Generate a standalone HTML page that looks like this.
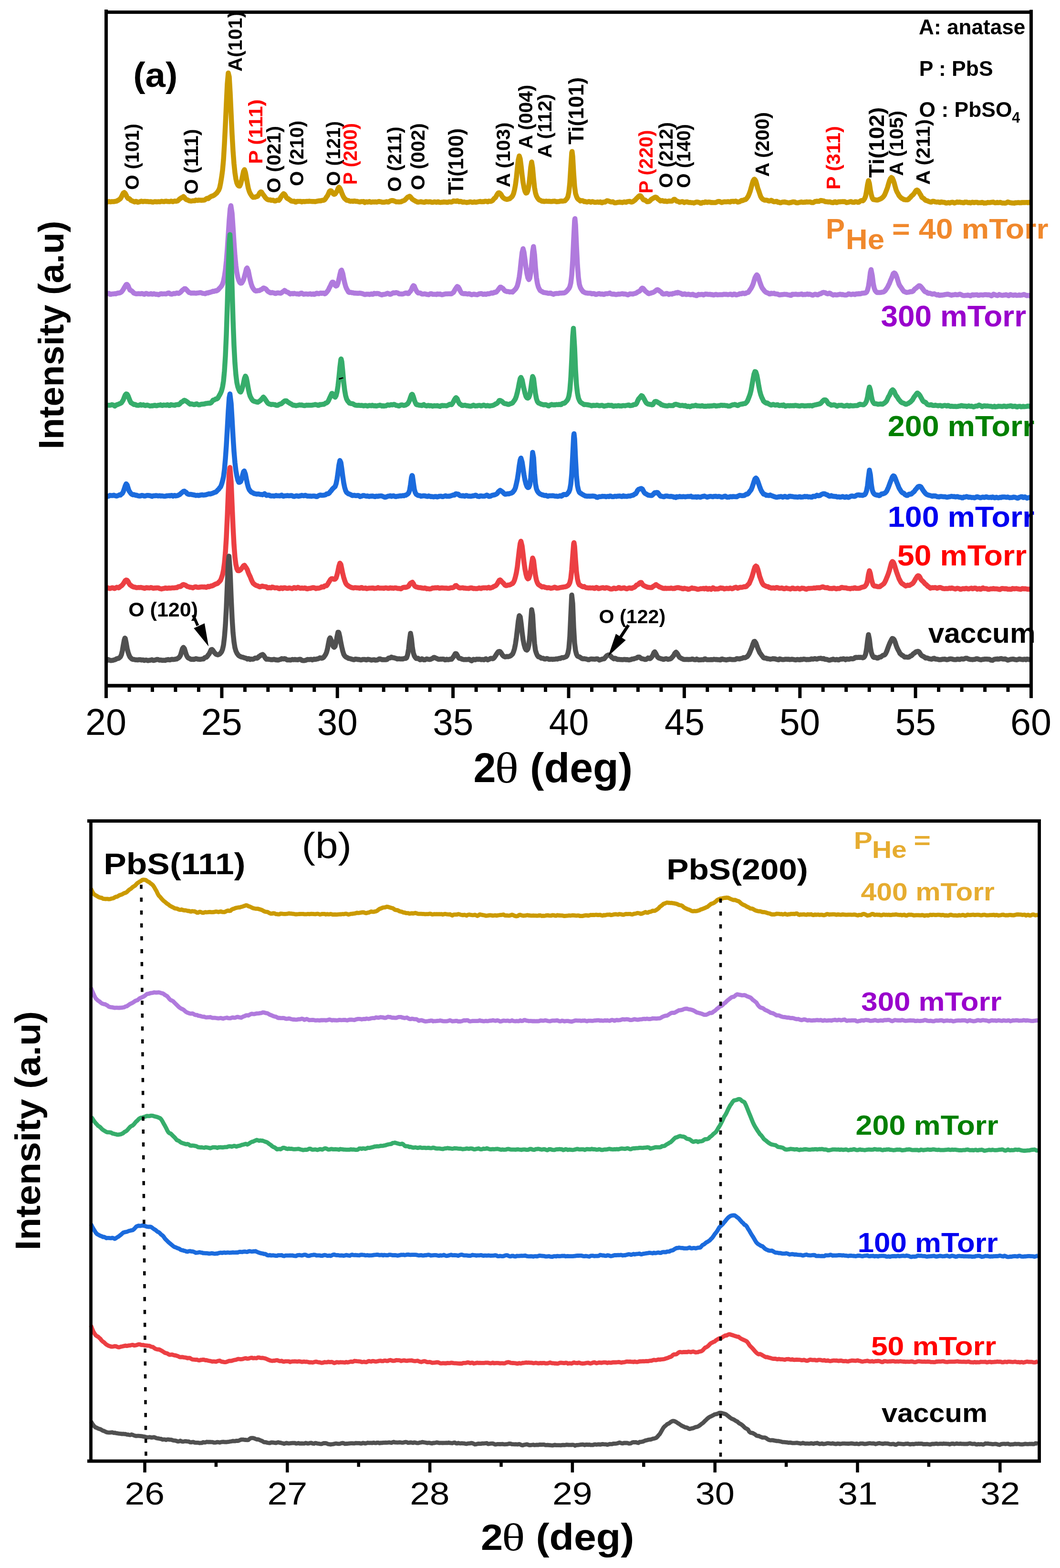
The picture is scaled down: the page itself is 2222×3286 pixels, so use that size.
<!DOCTYPE html>
<html><head><meta charset="utf-8"><style>html,body{margin:0;padding:0;background:#fff;overflow:hidden;}svg{display:block;}</style></head><body>
<svg width="2222" height="3286" viewBox="0 0 2222 3286">
<rect width="2222" height="3286" fill="#fff"/>
<path d="M222.5 423.4L224.5 423.5L226.5 422.9L228.5 422.2L230.5 423L232.5 422.9L234.5 422.4L236.5 422.6L238.5 422.6L240.5 422.2L242.5 421.8L244.5 421.4L246.5 420.2L248.5 419.2L250.5 417.8L252.5 416L254.5 412.7L256.5 408.4L258.5 404.6L260.5 403.3L262.5 405.1L264.5 408.9L266.5 413.5L268.5 416L270.5 416.1L272.5 417.7L274.5 419.9L276.5 420.9L278.5 421.7L280.5 422.5L282.5 423.2L284.5 421.9L286.5 422.3L288.5 423.8L290.5 423.5L292.5 423L294.5 422.1L296.5 421.6L298.5 422.4L300.5 422.5L302.5 421.9L304.5 422L306.5 422.4L308.5 422.2L310.5 422.5L312.5 422.8L314.5 422.7L316.5 422.6L318.5 423.3L320.5 423.6L322.5 423L324.5 422.5L326.5 422.9L328.5 422.8L330.5 423L332.5 422.5L334.5 423L336.5 422.6L338.5 421.8L340.5 422.2L342.5 422.6L344.5 422.5L346.5 421.8L348.5 421.6L350.5 422.2L352.5 422.2L354.5 422.6L356.5 422.4L358.5 421.4L360.5 422.2L362.5 422.7L364.5 421.8L366.5 421.3L368.5 421.7L370.5 421.5L372.5 420.9L374.5 419L376.5 417L378.5 415.8L380.5 414.3L382.5 413.5L383.4 412.9L384.5 411.9L386.5 413.5L388.5 416.6L390.5 418.3L392.5 418.7L394.5 419.7L396.5 420.6L398.5 421.1L400.5 421.4L402.5 421.1L404.5 420.7L406.5 420.7L408.5 420.7L410.5 419.3L412.5 419.8L414.5 419.9L416.5 419.3L418.5 419.6L420.5 419.5L422.5 419.8L424.5 419.4L426.5 419.4L428.5 419.3L430.5 418.1L432.5 416.4L434.5 415.6L436.5 416.2L438.5 414.5L440.5 412.7L442.5 411.8L444.5 410.8L446.5 410.3L448.5 409.2L450.5 407.8L452.5 406.1L454.5 404.4L456.5 401.4L458.5 398.5L460.5 393.4L462.5 383.7L464.5 371.7L466.5 357.1L468.5 334.7L470.5 301.3L472.5 261.1L474.5 217.1L476.5 175.6L478.5 153L480.5 161.1L482.5 195L484.5 238.8L486.5 281.4L488.5 316.5L490.5 343L492.5 362.2L494.5 375.1L496.5 383.6L498.5 387.8L500.5 389.8L502.5 389.9L504.5 385.4L506.5 378L508.5 368.6L510.5 359L512.5 355.6L514.5 361.6L516.5 372.6L518.5 384L520.5 394.5L522.5 401.1L524.5 405.5L526.5 408.8L528.5 411.6L530.5 413.6L532.5 413.3L534.5 413.2L536.5 412.2L538.5 412.1L540.5 410.9L542.5 407.6L544.5 404.1L546.5 402.2L547.7 402.3L548.5 403L550.5 406.1L552.5 408.8L554.5 411.5L556.5 414.4L558.5 416.5L560.5 417.9L562.5 418.8L564.5 419L566.5 418.8L568.5 419.9L570.5 419.7L572.5 419.5L574.5 420.7L576.5 421.3L578.5 420.7L580.5 419.8L582.5 419.2L584.5 419.9L586.5 417.5L588.5 413.6L590.5 410.7L592.5 408L594.5 405.9L596.5 407.2L598.5 410.2L600.5 414.1L602.5 416.2L604.5 416.5L606.5 418.4L608.5 419.5L610.5 421.3L612.5 421.7L614.5 421.7L616.5 421.6L618.5 423.3L620.5 423.5L622.5 422L624.5 422.1L626.5 421.9L628.5 421.9L630.5 422L632.5 423.1L634.5 422.2L636.5 422.2L638.5 422.6L640.5 422.2L642.5 422.1L644.5 422.1L646.5 422L648.5 421.6L650.5 421.9L652.5 422.1L654.5 422.2L656.5 422.3L658.5 422.3L660.5 422.6L662.5 422.1L664.5 421.7L666.5 421.3L668.5 421L670.5 420.7L672.5 421L674.5 420.1L676.5 419.7L678.5 419.7L680.5 418.6L682.5 416L684.5 412.7L686.5 410.2L688.5 406L690.5 401.2L692.5 399.7L694.5 400.2L696.5 402.8L698.5 406L700.5 407.3L702.5 406.4L704.5 403.5L706.5 400.6L708.5 395.4L710.5 392.3L712.5 394.6L714.5 399.1L716.5 404.6L718.5 409.3L720.5 413.3L722.5 416.1L724.5 417.8L726.5 419.5L728.5 419.9L730.5 420.2L732.5 421.2L734.5 421.8L736.5 421.6L738.5 421.6L740.5 422L742.5 421.2L744.5 421.5L746.5 422.1L748.5 421.9L750.5 422.5L752.5 423L754.5 423.3L756.5 422.5L758.5 422.5L760.5 422.6L762.5 422.3L764.5 424.4L766.5 423.2L768.5 422.8L770.5 423.6L772.5 423L774.5 422.3L776.5 423.5L778.5 423.8L780.5 423.2L782.5 423.1L784.5 423.4L786.5 423L788.5 423.4L790.5 423.4L792.5 422.6L794.5 422.2L796.5 422.7L798.5 422.9L800.5 423.7L802.5 423.7L804.5 423.8L806.5 423.5L808.5 423.1L810.5 422.6L812.5 423.3L814.5 423.5L816.5 421.9L818.5 420.9L820.5 420.5L822 420.2L824.5 420.5L826.5 421.4L828.5 422.1L830.5 423.1L832.5 422.9L834.5 423L836.5 423.2L838.5 422.9L840.5 423.1L842.5 421.9L844.5 421L846.5 420.5L848.5 419.4L850.5 417.3L852.5 415.4L854.5 413L856.5 412.5L857.6 411.8L858.5 411.3L860.5 412.8L862.5 415.4L864.5 417.6L866.5 418.9L868.5 420.1L870.5 421.3L872.5 422.1L874.5 423.3L876.5 423.7L878.5 423.3L880.5 423.1L882.5 422.6L884.5 423.3L886.5 423.5L888.5 424L890.5 424L892.5 422.4L894.5 422.9L896.5 422.9L898.5 423.3L900.5 422.7L902.5 423L904.5 423.7L906.5 424L908.5 423.6L910.5 423L912.5 423.2L914.5 424L916.5 423.4L918.5 422.7L920.5 423.8L922.5 424.2L924.5 424.1L926.5 423.7L928.5 423.7L930.5 423.2L932.5 423.5L934.5 423.4L936.5 424L938.5 424L940.5 423L942.5 423L944.5 423.2L946.5 423.5L948.5 422.6L950.5 421.1L952.5 421.3L954.5 421.8L956.5 422L958.5 420.7L960.5 421.5L962.5 422.8L964.5 421.9L966.5 422.1L968.5 423.4L970.5 423.8L972.5 423.2L974.5 423.6L976.5 423.9L978.5 424.4L980.5 423.9L982.5 423.8L984.5 423L986.5 423L988.5 423.5L990.5 424.1L992.5 423.7L994.5 423.1L996.5 423.7L998.5 423.8L1000.5 423.2L1002.5 422.9L1004.5 422.5L1006.5 422L1008.5 422.7L1010.5 422.9L1012.5 422.5L1014.5 422.7L1016.5 421.8L1018.5 421.7L1020.5 422.3L1022.5 422.9L1024.5 421.5L1026.5 421.8L1028.5 422L1030.5 421.4L1032.5 420.4L1034.5 417.8L1036.5 415.4L1038.5 414.2L1040.5 410.7L1042.5 407.1L1044.5 404.2L1046.3 404.1L1048.5 405.5L1050.5 407.8L1052.5 411.5L1054.5 413.9L1056.5 415.5L1058.5 416.7L1060.5 417.4L1062.5 417.9L1064.5 417.5L1066.5 416.8L1068.5 416.3L1070.5 414.5L1072.5 412.9L1074.5 410.4L1076.5 405.9L1078.5 398L1080.5 387.6L1082.5 371.8L1084.5 352.6L1086.5 334.7L1088.5 326.8L1090.5 333.1L1092.5 349L1094.5 367.1L1096.5 382.4L1098.5 393.4L1100.5 401L1102.5 404.6L1104.5 404.2L1106.5 399.6L1108.5 389.3L1110.5 372.2L1112.5 350.8L1114.5 339.5L1116.5 351.9L1118.5 374.5L1120.5 393.1L1122.5 404.4L1124.5 410.6L1126.5 414.4L1128.5 417.1L1130.5 419.2L1132.5 419.7L1134.5 421L1136.5 421.7L1138.5 421.5L1140.5 422.2L1142.5 422L1144.5 421.5L1146.5 421.8L1148.5 421.9L1150.5 421.8L1152.5 422L1154.5 422.3L1156.5 422.3L1158.5 421.8L1160.5 421.8L1162.5 421.4L1164.5 422.2L1166.5 422.7L1168.5 422.5L1170.5 422.4L1172.5 422.2L1174.5 421.4L1176.5 421.3L1178.5 421.6L1180.5 421.5L1182.5 421L1184.5 420.7L1186.5 418.3L1188.5 416.2L1190.5 412.1L1192.5 402.3L1194.5 383L1196.5 351.1L1198.5 320.1L1199.2 317.5L1200.5 327.8L1202.5 362.9L1204.5 390.7L1206.5 405.6L1208.5 411.7L1210.5 416L1212.5 418.1L1214.5 419.2L1216.5 421.2L1218.5 420.5L1220.5 420.4L1222.5 421.2L1224.5 422.5L1226.5 422.3L1228.5 423L1230.5 423.4L1232.5 422.9L1234.5 422.2L1236.5 422.8L1238.5 423.8L1240.5 422.7L1242.5 422.5L1244.5 423.3L1246.5 424L1248.5 424L1250.5 423.8L1252.5 423.2L1254.5 424L1256.5 423.7L1258.5 423L1260.5 424.6L1262.5 425L1264.5 423.4L1266.5 423.4L1268.5 423.5L1270.5 421.6L1272.5 420.6L1274.5 420.9L1276.5 421.7L1278.5 422.4L1280.5 423.3L1282.5 423.3L1284.5 422.8L1286.5 424L1288.5 425.1L1290.5 425L1292.5 424.6L1294.5 424.1L1296.5 424.1L1298.5 423.4L1300.5 423.9L1302.5 424L1304.5 424.4L1306.5 423.8L1308.5 423L1310.5 423.5L1312.5 423.9L1314.5 422.7L1316.5 422.4L1318.5 422.1L1320.5 422L1322.5 423.2L1324.5 423.5L1326.5 422.6L1328.5 421.3L1330.5 419.8L1332.5 418L1334.5 415.6L1336.5 413.8L1338.5 411.8L1340.5 410.3L1342.5 410.2L1344.5 412.5L1346.5 415.4L1348.5 418.5L1350.5 419.2L1352.5 419.3L1354.5 421.3L1356.5 422.8L1358.5 422.6L1360.5 422.1L1362.5 420.7L1364.5 418.5L1366.5 417L1368.5 415.9L1370.5 414.7L1372.5 413.5L1374.1 413.1L1376.5 414.1L1378.5 416.5L1380.5 418L1382.5 419.5L1384.5 421.2L1386.5 420.8L1388.5 420.2L1390.5 421.4L1392.5 421.9L1394.5 421L1396.5 422L1398.5 422.3L1400.5 421.6L1402.5 421.3L1404.5 421.5L1406.5 421.5L1408.5 421.6L1410.5 420L1412.5 417.8L1414.4 417.8L1416.5 419.7L1418.5 421.5L1420.5 421.9L1422.5 422.7L1424.5 423.8L1426.5 423.4L1428.5 422.8L1430.5 422.4L1432.5 423.5L1434.5 424.6L1436.5 423.4L1438.5 423.2L1440.5 423L1442.5 423.9L1444.5 424.4L1446.5 424.2L1448.5 424.5L1450.5 424.7L1452.5 424.8L1454.5 425.4L1456.5 424.8L1458.5 423.9L1460.5 423.4L1462.5 423.5L1464.5 424.1L1466.5 424.6L1468.5 426.1L1470.5 425.8L1472.5 424.3L1474.5 424.2L1476.5 424.6L1478.5 423.1L1480.5 423.5L1482.5 424.3L1484.5 423.6L1486.5 423.5L1488.5 423.8L1490.5 424.4L1492.5 424.3L1494.5 424.4L1496.5 424.5L1498.5 424.4L1500.5 424.5L1502.5 423.4L1504.5 422.4L1506.5 422.1L1508.5 422.3L1510.5 423.4L1512.5 424.4L1514.5 424L1516.5 423.2L1518.5 422.8L1520.5 423L1522.5 423.1L1524.5 422.8L1526.5 422.4L1528.5 423.1L1530.5 423.4L1532.5 422.1L1534.5 422.2L1536.5 421.8L1538.5 422.5L1540.5 422L1542.5 421.4L1544.5 422.6L1546.5 423.6L1548.5 423L1550.5 422.7L1552.5 421.4L1554.5 420L1556.5 420.4L1558.5 419.6L1560.5 418.4L1562.5 418.3L1564.5 416.7L1566.5 414L1568.5 411.1L1570.5 406.3L1572.5 400.9L1574.5 393.7L1576.5 386.5L1578.5 379.4L1580.5 376.1L1581.4 375.6L1582.5 376.4L1584.5 379.9L1586.5 387L1588.5 394.6L1590.5 399.8L1592.5 406L1594.5 411.8L1596.5 415.1L1598.5 417.3L1600.5 418.4L1602.5 419.5L1604.5 419.5L1606.5 419.4L1608.5 419.8L1610.5 420.8L1612.5 421.3L1614.5 420.9L1616.5 419.7L1618.5 420.5L1620.5 422.1L1622.5 422.9L1624.5 422.6L1626.5 422.1L1628.5 422.1L1630.5 423.9L1632.5 423.6L1634.5 424.7L1636.5 425L1638.5 424.1L1640.5 423.4L1642.5 423.5L1644.5 423.2L1646.5 423.7L1648.5 424L1650.5 424.5L1652.5 425L1654.5 425.2L1656.5 424.3L1658.5 424.4L1660.5 423.5L1662.5 423.1L1664.5 423.2L1666.5 423.5L1668.5 424.7L1670.5 425.1L1672.5 425.1L1674.5 424.4L1676.5 424.1L1678.5 423.5L1680.5 423.3L1682.5 424.1L1684.5 424.1L1686.5 423.5L1688.5 423.8L1690.5 423L1692.5 423.4L1694.5 423.4L1696.5 423.2L1698.5 423.3L1700.5 424.3L1702.5 424.6L1704.5 424.5L1706.5 423.5L1708.5 422.3L1710.5 422L1712.5 421.6L1714.5 422.1L1716.5 422.1L1718.5 421L1720.5 420.1L1722.5 420.3L1724.5 420.8L1726.5 420.9L1728.5 422.1L1730.5 422.8L1732.5 422.7L1734.5 423L1736.5 423.4L1738.5 423L1740.5 423.3L1742.5 424.2L1744.5 424.6L1746.5 424.8L1748.5 423.3L1750.5 422.8L1752.5 424.3L1754.5 424.6L1756.5 423.4L1758.5 422.8L1760.5 423.2L1762.5 422.7L1764.5 422.8L1766.5 422.4L1768.5 422.7L1770.5 422.4L1772.5 423.5L1774.5 424.6L1776.5 424.1L1778.5 424L1780.5 423.2L1782.5 422.6L1784.5 422.6L1786.5 423.8L1788.5 423.9L1790.5 424.1L1792.5 422.8L1794.5 422.7L1796.5 423.3L1798.5 424L1800.5 423.8L1802.5 421.9L1804.5 420.6L1806.5 420.2L1808.5 420.8L1810.5 419.2L1812.5 416.2L1814.5 411L1816.5 400.5L1818.5 387.2L1820.5 378.4L1822.5 384.7L1824.5 398.2L1826.5 408.3L1828.5 415.1L1830.5 418.2L1832.5 418.1L1834.5 418.7L1836.5 419L1838.5 419.3L1840.5 419L1842.5 418.2L1844.5 417.3L1846.5 416.5L1848.5 415.1L1850.5 413.4L1852.5 411.2L1854.5 408.1L1856.5 403.3L1858.5 398.2L1860.5 392.7L1862.5 385.5L1864.5 378.9L1866.5 374.4L1868.5 372L1870.5 373.2L1872.5 377.5L1874.5 383.4L1876.5 391L1878.5 398L1880.5 402.6L1882.5 405.9L1884.5 409.8L1886.5 412.2L1888.5 414.3L1890.5 415.8L1892.5 416.6L1894.5 418.2L1896.5 418.4L1898.5 418.7L1900.5 418.8L1902.5 418.8L1904.5 417.6L1906.5 415.2L1908.5 413.6L1910.5 410.9L1912.5 409.3L1914.5 407.5L1916.5 404.9L1918.5 401.8L1920.5 398.9L1922.3 398.3L1924.5 399.7L1926.5 403L1928.5 406.3L1930.5 409.4L1932.5 413.7L1934.5 414.8L1936.5 416.1L1938.5 418.3L1940.5 419.9L1942.5 420.5L1944.5 420.9L1946.5 422.2L1948.5 422.6L1950.5 423.5L1952.5 423.4L1954.5 422L1956.5 421.8L1958.5 422.2L1960.5 423.1L1962.5 423.4L1964.5 423.4L1966.5 423.2L1968.5 424L1970.5 424.4L1972.5 423.2L1974.5 423.5L1976.5 423.9L1978.5 423.9L1980.5 424.2L1982.5 425.4L1984.5 425.5L1986.5 424.8L1988.5 424.4L1990.5 425.5L1992.5 424.8L1994.5 423.9L1996.5 423.8L1998.5 424.4L2000.5 425.6L2002.5 424.9L2004.5 424L2006.5 423.2L2008.5 424.1L2010.5 423.6L2012.5 423.6L2014.5 424.4L2016.5 424.2L2018.5 425L2020.5 425L2022.5 423.6L2024.5 423.7L2026.5 423.5L2028.5 424.3L2030.5 424.8L2032.5 424.3L2034.5 425.3L2036.5 424.5L2038.5 423.8L2040.5 424.4L2042.5 424.8L2044.5 423.9L2046.5 424L2048.5 424L2050.5 425.1L2052.5 424.9L2054.5 424.7L2056.5 424.9L2058.5 424L2060.5 424.6L2062.5 425.7L2064.5 425.3L2066.5 425.6L2068.5 425L2070.5 424.3L2072.5 424.4L2074.5 424.6L2076.5 424.3L2078.5 423.9L2080.5 423.7L2082.5 423.6L2084.5 424.6L2086.5 425.1L2088.5 424.9L2090.5 424L2092.5 424.8L2094.5 424.6L2096.5 423.9L2098.5 424.7L2100.5 425.4L2102.5 425.5L2104.5 425.6L2106.5 425.7L2108.5 425.5L2110.5 424.5L2112.5 423.3L2114.5 423.9L2116.5 424.7L2118.5 424.8L2120.5 425.3L2122.5 425.5L2124.5 425.5L2126.5 425.8L2128.5 424.8L2130.5 425.1L2132.5 424.6L2134.5 424.4L2136.5 424.9L2138.5 424.8L2140.5 425L2142.5 424.3L2144.5 424.4L2146.5 424.3L2148.5 424.4L2150.5 424.3L2152.5 424.2L2154.5 424.7L2156.5 424L2158.5 424.2L2160.5 425.4" fill="none" stroke="#CB9A00" stroke-width="10.5" stroke-linejoin="round" stroke-linecap="butt"/>
<path d="M222.5 616L224.5 615.6L226.5 615L228.5 614.7L230.5 616.7L232.5 616.8L234.5 616L236.5 616.1L238.5 615.8L240.5 615.4L242.5 615.7L244.5 615L246.5 614.4L248.5 614L250.5 614L252.5 613.2L254.5 611.9L256.5 609.5L258.5 606.6L260.5 602.8L262.5 599.4L264.5 596.5L265.5 596L266.5 596.2L268.5 598.7L270.5 603.8L272.5 607.9L274.5 608.7L276.5 609.9L278.5 611.9L280.5 614.1L282.5 614.9L284.5 615.6L286.5 615.8L288.5 615.6L290.5 615.6L292.5 615.6L294.5 615.8L296.5 615.1L298.5 615.3L300.5 616.2L302.5 616.8L304.5 615.5L306.5 614.9L308.5 615.5L310.5 616.4L312.5 616.3L314.5 616.3L316.5 615.4L318.5 616.5L320.5 616.5L322.5 615.4L324.5 616.1L326.5 616.8L328.5 616.6L330.5 617.2L332.5 617.7L334.5 616.6L336.5 615.7L338.5 615.5L340.5 616.1L342.5 615.9L344.5 615.7L346.5 615.9L348.5 616L350.5 614.9L352.5 614L354.5 614.1L356.5 615.9L358.5 616.3L360.5 616.5L362.5 615.7L364.5 615L366.5 615.4L368.5 614.9L370.5 613.9L372.5 614.1L374.5 615L376.5 613.9L378.5 612.4L380.5 610.2L382.5 608.1L384.5 606.6L386.5 605L388.5 604.9L390.5 606.7L392.5 608.7L394.5 611.2L396.5 613L398.5 613.4L400.5 614.4L402.5 614.1L404.5 614.2L406.5 614L408.5 614.3L410.5 614.5L412.5 614.2L414.5 613.9L416.5 613.7L418.5 613.4L420.5 613.2L422.5 613.9L424.5 614.6L426.5 614.9L428.5 615.1L430.5 615.5L432.5 614.3L434.5 613.6L436.5 614L438.5 612.8L440.5 612.7L442.5 611.8L444.5 611.3L446.5 610.3L448.5 610.8L450.5 609.9L452.5 609L454 609.6L456.5 608.1L458.5 605.9L460.5 603.6L462.5 601.6L464.5 598.9L466.5 595.2L468.5 589L470.5 579.1L472.5 565.7L474.5 547L476.5 522.1L478.5 492.4L480.5 461.3L482.5 437.5L484 431L486.5 447L488.5 476.5L490.5 508L492.5 536.1L494.5 556.6L496.5 571.4L498.5 580.9L500.5 587.5L502.5 591.8L504.5 593.6L506.5 593.2L508.5 590.3L510.5 586.1L512.5 579L514.5 571.2L516.5 563.4L518 561.6L520.5 567.3L522.5 577.5L524.5 586.8L526.5 594.6L528.5 600.5L530.5 604.2L532.5 607L534.5 609L536.5 609.8L538.5 609.6L540.5 609L542.5 609.1L544.5 608.6L546.5 607.1L548.5 606.7L550.5 604.8L552.5 603.5L553.7 603.9L554.5 604.1L556.5 605.1L558.5 606.8L560.5 609.5L562.5 611.2L564.5 612.1L566.5 613.6L568.5 613.7L570.5 612.9L572.5 613.6L574.5 613.9L576.5 615.1L578.5 615L580.5 613.9L582.5 613.7L584.5 614.1L586.5 614.2L588.5 614.5L590.5 613.3L592.5 611.6L594.5 610.3L596.5 608.7L598.5 610L600.5 611.6L602.5 612.2L604.5 613L606.5 614.8L608.5 616.1L610.5 615.4L612.5 615L614.5 615.7L616.5 614.8L618.5 615.4L620.5 615.6L622.5 616L624.5 615.8L626.5 616.5L628.5 615.9L630.5 614.4L632.5 614.2L634.5 615.6L636.5 616.7L638.5 616.3L640.5 616L642.5 616L644.5 616.4L646.5 616.4L648.5 615.9L650.5 615.6L652.5 616.7L654.5 616.6L656.5 615.8L658.5 617L660.5 616.5L662.5 615L664.5 614.4L666.5 615.5L668.5 615.6L670.5 614.5L672.5 614L674.5 614.9L676.5 614.2L678.5 614.3L680.5 615.7L682.5 615L684.5 612.8L686.5 610.2L688.5 607.4L690.5 602.9L692.5 599.3L694.5 594.6L696.5 591.2L698.5 591.5L700.5 595.2L702.5 598.2L704.5 599.5L706.5 598.4L708.5 593.2L710.5 585.1L712.5 575.3L714.5 567.6L716 566L718.5 573L720.5 583.6L722.5 592.6L724.5 600L726.5 604.9L728.5 608.4L730.5 612L732.5 612.9L734.5 612.6L736.5 613L738.5 613.6L740.5 613.6L742.5 614.4L744.5 614.2L746.5 614.5L748.5 614.5L750.5 614.7L752.5 614.4L754.5 614.3L756.5 614.7L758.5 615.2L760.5 615.7L762.5 616.4L764.5 617.3L766.5 617L768.5 616.4L770.5 616.5L772.5 616.4L774.5 617.2L776.5 616.7L778.5 615.8L780.5 616.7L782.5 616.5L784.5 614.8L786.5 615.3L788.5 615.5L790.5 614.9L792.5 615.2L794.5 615.7L796.5 616.7L798.5 617.3L800.5 618.1L802.5 617.1L804.5 617.1L806.5 616.7L808.5 616.3L810.5 615.2L812.5 614.6L814.5 615.3L816.5 616.5L818.5 616.8L820.5 615.9L822.5 614.6L824.5 613.5L826.5 614L828 613.8L830.5 613.2L832.5 613.6L834.5 614.3L836.5 615.9L838.5 616.1L840.5 615.9L842.5 616.2L844.5 616.1L846.5 615.4L848.5 614.6L850.5 614.1L852.5 614L854.5 615.2L856.5 615.2L858.5 612.2L860.5 610.2L862.5 606.8L864.5 601.6L866.5 598.6L868.5 599.7L870.5 604.8L872.5 608.7L874.5 611.9L876.5 614L878.5 614.1L880.5 613.9L882.5 615L884.5 616.2L886.5 616.2L888.5 616L890.5 615.7L892.5 616.3L894.5 616.9L896.5 617L898.5 617.6L900.5 616.5L902.5 615.4L904.5 615.4L906.5 616.7L908.5 616.7L910.5 616.8L912.5 616.8L914.5 617.2L915.6 616.8L916.5 615.9L918.5 616.2L920.5 616.5L922.5 616L924.5 617.2L926.5 617.7L928.5 617.3L930.5 616.6L932.5 616.3L934.5 615.7L936.5 615.9L938.5 615.8L940.5 615.8L942.5 615.6L944.5 615.9L946.5 615.7L948.5 614.1L950.5 613L952.5 609.4L954.5 605.8L956.5 602.8L958.5 600.4L960.5 601.4L962.5 604.5L964.5 609L966.5 612.5L968.5 614.7L970.5 615.2L972.5 615.5L974.5 615.1L976.5 615.5L978.5 615.9L980.5 616.3L982.5 615.6L984.5 615.7L986.5 616.9L988.5 617.7L990.5 617.1L992.5 616.6L994.5 616.5L996.5 617.2L998.5 617.4L1000.5 617.7L1002.5 616.8L1004.5 615.7L1006.5 615.5L1008.5 615.3L1010.5 615.6L1012.5 616.9L1014.5 616.7L1016.5 615.9L1018.5 616.9L1020.5 616.3L1022.5 615.4L1024.5 615.8L1026.5 615.4L1028.5 614.5L1030.5 613.8L1032.5 614.5L1034.5 614L1036.5 612.4L1038.5 612.8L1040.5 611.9L1042.5 609.5L1044.5 607.1L1046.5 604.3L1048.5 601.8L1050 601.7L1052.5 603.6L1054.5 604.8L1056.5 607.5L1058.5 609.5L1060.5 610.3L1062.5 610.9L1064.5 610.9L1066.5 611.3L1068.5 611.9L1070.5 611.7L1072.5 611.4L1074.5 612.1L1076.5 609.8L1078.5 608L1080.5 605.9L1082.5 603L1084.5 598.8L1086.5 590.9L1088.5 580.5L1090.5 565.1L1092.5 545.8L1094.5 528.9L1096.5 521.2L1098.5 529.1L1100.5 544.1L1102.5 560L1104.5 573L1106.5 582L1108.5 585.9L1110.5 583L1112.5 572L1114.5 552.1L1116.5 527.5L1118.3 516.7L1120.5 533.5L1122.5 560.8L1124.5 581.8L1126.5 594.2L1128.5 601.3L1130.5 605.7L1132.5 608.9L1134.5 610.2L1136.5 611.1L1138.5 612.5L1140.5 613.1L1142.5 613.3L1144.5 613.7L1146.5 613.7L1148.5 614.6L1150.5 614.8L1152.5 614.2L1154.5 614.2L1156.5 615.5L1158.5 616L1160.5 616.7L1162.5 615.4L1164.5 615.3L1166.5 614.9L1168.5 615.1L1170.5 615.1L1172.5 614.3L1174.5 614.2L1176.5 614.3L1178.5 614.1L1180.5 614.1L1182.5 613.9L1184.5 613L1186.5 611.6L1188.5 609.6L1190.5 607.3L1192.5 604.8L1194.5 600.8L1196.5 593.2L1198.5 576.3L1200.5 546.1L1202.5 502.2L1204.5 462.2L1205.2 458.2L1206.5 471.2L1208.5 516.5L1210.5 555.9L1212.5 581.7L1214.5 596L1216.5 602.6L1218.5 606L1220.5 608.9L1222.5 611.4L1224.5 612.2L1226.5 613.4L1228.5 614.1L1230.5 614.1L1232.5 614.6L1234.5 614.5L1236.5 614.4L1238.5 614.7L1240.5 615.8L1242.5 615.5L1244.5 615.2L1246.5 615.6L1248.5 617.1L1250.5 617L1252.5 616.2L1254.5 615.5L1256.5 615.3L1258.5 616.3L1260.5 616.4L1262.5 615.9L1264.5 617L1266.5 616.9L1268.5 615.7L1270.5 615.5L1272.5 615.5L1274.5 615.4L1276.5 614.7L1278.5 614.1L1279.6 615.4L1280.5 615.6L1282.5 616.3L1284.5 616.6L1286.5 616.2L1288.5 616.6L1290.5 617.2L1292.5 617.2L1294.5 616.6L1296.5 616.3L1298.5 616.5L1300.5 616.2L1302.5 615.8L1304.5 615.4L1306.5 616.2L1308.5 616L1310.5 616.2L1312.5 616.7L1314.5 617.4L1316.5 618L1318.5 616.9L1320.5 615.8L1322.5 616.1L1324.5 616.1L1326.5 616.2L1328.5 615.5L1330.5 615L1332.5 614.6L1334.5 613.6L1336.5 612L1338.5 611.2L1340.5 610.1L1342.5 608.3L1344.5 605.3L1346.5 603.8L1348.5 604.8L1350.5 607.1L1352.5 609.9L1354.5 611.5L1356.5 612.9L1358.5 614.8L1360.5 615.5L1362.5 614.7L1364.5 614.3L1366.5 613.4L1368.5 613.1L1370.5 612.1L1372.5 610.9L1374.5 609.1L1376.5 607.6L1378.5 607.1L1380.5 608.2L1382.5 609.8L1384.5 611.1L1386.5 612.6L1388.5 615.3L1390.5 616.3L1392.5 615.9L1394.5 616L1396.5 615.1L1398.5 615L1400.5 616.2L1402.5 617.1L1404.5 615.9L1406.5 615.9L1408.5 616.4L1410.5 615L1412.5 615.2L1414.5 614.7L1416.5 613.5L1418.5 613.5L1419.4 614.2L1420.5 612.7L1422.5 613.1L1424.5 614.1L1426.5 614.5L1428.5 615.3L1430.5 617.1L1432.5 616.7L1434.5 615.7L1436.5 616.2L1438.5 617.2L1440.5 617.1L1442.5 616.4L1444.5 616.9L1446.5 617.5L1448.5 617.7L1450.5 617.2L1452.5 616.7L1454.5 618.2L1456.5 618.3L1458.5 619.2L1460.5 619.5L1462.5 617.7L1464.5 616.8L1466.5 617.6L1468.5 617.4L1470.5 616.9L1472.5 617L1474.5 618.1L1476.5 617.2L1478.5 616.3L1480.5 616.5L1482.5 616.6L1484.5 617.1L1486.5 616.9L1488.5 616.8L1490.5 617.4L1492.5 617.3L1494.5 618L1496.5 618.2L1498.5 617.3L1500.5 616.9L1502.5 617.5L1504.5 617.9L1506.5 617.6L1508.5 617.4L1510.5 617.4L1512.5 617.6L1514.5 617.6L1516.5 616.8L1518.5 616.8L1520.5 617L1522.5 616.8L1524.5 617.2L1526.5 617.5L1528.5 617L1530.5 616.5L1532.5 616.8L1534.5 618L1536.5 617.6L1538.5 616.2L1540.5 616.4L1542.5 618L1544.5 618L1546.5 617.1L1548.5 616.8L1550.5 615.5L1552.5 615.8L1554.5 615.8L1556.5 614.4L1558.5 614.5L1560.5 615.4L1562.5 615.1L1564.5 613.7L1566.5 613.3L1568.5 612.7L1570.5 609.9L1572.5 606.8L1574.5 604.1L1576.5 600.3L1578.5 595.7L1580.5 589L1582.5 582.5L1584.5 578.6L1586.4 575.9L1588.5 578.1L1590.5 583.7L1592.5 590.1L1594.5 596L1596.5 601.1L1598.5 604.7L1600.5 607.1L1602.5 609.8L1604.5 611.7L1606.5 612.9L1608.5 613.8L1610.5 614.4L1612.5 616L1614.5 616.1L1616.5 614.6L1618.5 615.2L1620.5 615L1622.5 614.5L1624.5 615.9L1626.5 616.1L1628.5 616.1L1630.5 616.5L1632.5 617.6L1634.5 618L1636.5 617.6L1638.5 617.5L1640.5 617.2L1642.5 617L1644.5 616.7L1646.5 616.9L1648.5 616.9L1650.5 617.5L1652.5 618L1654.5 618L1656.5 618.8L1658.5 618.9L1660.5 616.7L1662.5 616.8L1664.5 616.9L1666.5 616.7L1668.5 616.5L1670.5 617.1L1672.5 617.2L1674.5 617L1676.5 617L1678.5 616.5L1680.5 616.1L1682.5 617.6L1684.5 617.3L1686.5 616.9L1688.5 617.3L1690.5 616.6L1692.5 616.1L1694.5 617.1L1696.5 616.5L1698.5 616.9L1700.5 617.7L1702.5 618.5L1704.5 618.4L1706.5 617.4L1708.5 616.6L1710.5 616.9L1712.5 617.8L1714.5 618L1716.5 616.8L1718.5 615.7L1720.5 615.5L1722.5 614.2L1724.5 613.1L1726.5 612.8L1728 613.1L1730.5 613.7L1732.5 614.9L1734.5 615.8L1736.5 615.4L1738.5 614.2L1740.5 614.8L1742.5 616.4L1744.5 617.4L1746.5 618.4L1748.5 617.6L1750.5 617.4L1752.5 618.1L1754.5 618.1L1756.5 617.5L1758.5 617.3L1760.5 616.6L1762.5 616.8L1764.5 617.6L1766.5 617L1768.5 617.8L1770.5 618.2L1772.5 618.2L1774.5 618.2L1776.5 617.4L1778.5 615.8L1780.5 616L1782.5 616.8L1784.5 617.3L1786.5 616.5L1788.5 616.3L1790.5 616.9L1792.5 617.3L1794.5 615.9L1796.5 615.7L1798.5 616.2L1800.5 615.3L1802.5 615.9L1804.5 615.5L1806.5 614.6L1808.5 614.6L1810.5 614.2L1812.5 614.2L1814.5 613.7L1816.5 612.3L1818.5 607.9L1820.5 600.1L1822.5 586.8L1824.5 570.9L1826 565.1L1828.5 577.7L1830.5 593.8L1832.5 603.6L1834.5 608.8L1836.5 611.5L1838.5 612.9L1840.5 613L1842.5 612.9L1844.5 613.1L1846.5 612.9L1848.5 612.4L1850.5 612.1L1852.5 611.6L1854.5 610.1L1856.5 607.9L1858.5 604.9L1860.5 601.9L1862.5 597.7L1864.5 593.8L1866.5 588.4L1868.5 583.8L1870.5 578.9L1872.5 573.4L1874.4 572L1876.5 573.3L1878.5 576.9L1880.5 582.5L1882.5 589.4L1884.5 595.5L1886.5 599.3L1888.5 601.8L1890.5 604.8L1892.5 607.9L1894.5 610.5L1896.5 611.4L1898.5 612.2L1900.5 612.9L1902.5 612.6L1904.5 612.4L1906.5 611.9L1908.5 611L1910.5 611.4L1912.5 611L1914.5 609.6L1916.5 606.8L1918.5 605L1920.5 603.8L1922.5 601.9L1924.5 600.3L1926.5 598.7L1928.5 599.2L1930.5 600.8L1932.5 603.3L1934.5 605.7L1936.5 608.6L1938.5 610.9L1940.5 611.9L1942.5 612.2L1944.5 614.2L1946.5 614.9L1948.5 614.5L1950.5 614.9L1952.5 615.9L1954.5 616.5L1956.5 615.9L1958.5 615.6L1960.5 616.6L1962.5 617.6L1964.5 618.3L1966.5 617.4L1968.5 618.9L1970.5 619L1972.5 618.3L1974.5 618.6L1976.5 618.1L1978.5 618L1980.5 617.3L1982.5 617.2L1984.5 616.6L1986.5 616.4L1988.5 617L1990.5 617.4L1992.5 618.2L1994.5 618.7L1996.5 618L1998.5 617.9L2000.5 617.6L2002.5 616.9L2004.5 617.7L2006.5 617.9L2008.5 617.6L2010.5 616.8L2012.5 616.4L2014.5 617.4L2016.5 618.4L2018.5 619.2L2020.5 619.4L2022.5 619.3L2024.5 618.9L2026.5 618.8L2028.5 618.3L2030.5 618.7L2032.5 619.4L2034.5 620L2036.5 618.6L2038.5 617.7L2040.5 618.5L2042.5 617.9L2044.5 617.9L2046.5 617.7L2048.5 617.8L2050.5 618.9L2052.5 618.7L2054.5 618L2056.5 618L2058.5 618.1L2060.5 618.4L2062.5 617.9L2064.5 617.5L2066.5 617.5L2068.5 617.8L2070.5 618.1L2072.5 617.7L2074.5 618.1L2076.5 619L2078.5 620L2080.5 618.6L2082.5 616.5L2084.5 617.2L2086.5 618L2088.5 618.7L2090.5 619.5L2092.5 618.6L2094.5 617.1L2096.5 618L2098.5 618.5L2100.5 618.9L2102.5 619L2104.5 618.2L2106.5 618.4L2108.5 617.5L2110.5 618.1L2112.5 619.1L2114.5 619.7L2116.5 618L2118.5 617.3L2120.5 618.2L2122.5 618.4L2124.5 619L2126.5 618.1L2128.5 617.9L2130.5 619L2132.5 618.9L2134.5 618.7L2136.5 618.1L2138.5 619L2140.5 618.5L2142.5 618.5L2144.5 617.6L2146.5 617.1L2148.5 617.9L2150.5 618.8L2152.5 619.5L2154.5 619.1L2156.5 619.1L2158.5 619.7L2160.5 621.2" fill="none" stroke="#B07ADD" stroke-width="10.5" stroke-linejoin="round" stroke-linecap="butt"/>
<path d="M222.5 851L224.5 848.8L226.5 849.3L228.5 849.3L230.5 849.2L232.5 848.9L234.5 848.1L236.5 848.6L238.5 849.4L240.5 851L242.5 849.7L244.5 848.4L246.5 847.8L248.5 847L250.5 846.1L252.5 845.4L254.5 844.1L256.5 841.3L258.5 837.8L260.5 832.5L262.5 827.7L264.5 825.5L266.5 826L268.5 829.5L270.5 834.8L272.5 840L274.5 843.9L276.5 845.1L278.5 846.4L280.5 847.7L282.5 847.5L284.5 848.2L286.5 849.2L288.5 849.4L290.5 849.4L292.5 849L294.5 847.9L296.5 849.2L298.5 848.7L300.5 848.3L302.5 849.5L304.5 850L306.5 849.3L308.5 848.9L310.5 849.5L312.5 850L314.5 850.8L316.5 850.6L318.5 850.3L320.5 850.4L322.5 849.7L324.5 849.3L326.5 850L328.5 850.2L330.5 849.6L332.5 849.2L334.5 849.1L336.5 848.3L338.5 849.6L340.5 849.7L342.5 848.7L344.5 849.1L346.5 849.1L348.5 849.3L350.5 848.2L352.5 848.6L354.5 849.9L356.5 849.7L358.5 848.1L360.5 848.5L362.5 849L364.5 849L366.5 849.4L368.5 848.3L370.5 848.1L372.5 847.7L374.5 848L376.5 846.7L378.5 844.5L380.5 842.5L382.5 841.9L384.5 839.9L386.5 838.8L388.5 839.6L390.5 840.9L392.5 842.3L394.5 843.7L396.5 845.4L398.5 847L400.5 846.4L402.5 846.7L404.5 847.4L406.5 847.9L408.5 847.8L410.5 846.7L412.5 846.3L414.5 847.5L416.5 848.4L418.5 848.2L420.5 847.5L422.5 847L424.5 846.9L426.5 846.7L428.5 846.6L430.5 845.7L432.5 845.5L434.5 845.3L436.5 845L438.5 844.8L440.5 845.1L442.5 843.9L444.5 841.7L446.5 838.7L447.7 838.3L448.5 838.3L450.5 837.5L452.5 835.9L454.5 836.1L456.5 834.6L458.5 830.9L460.5 827.5L462.5 823.7L464.5 818.7L466.5 811.1L468.5 798.6L470.5 777.4L472.5 746.1L474.5 700.5L476.5 640L478.5 569.3L480.5 509.7L482 491.8L484.5 534.2L486.5 602.9L488.5 671L490.5 724L492.5 761L494.5 785.7L496.5 801.6L498.5 810.6L500.5 816.2L502.5 820.3L504.5 821.6L506.5 817.8L508.5 811.3L510.5 802.3L512.5 792.8L514.5 788.2L516.5 792.2L518.5 802.5L520.5 814.4L522.5 824.1L524.5 830.6L526.5 834.4L528.5 837.8L530.5 840L532.5 840.8L534.5 841.5L536.5 842L538.5 842.6L540.5 842.9L542.5 841.6L544.5 840.2L546.5 838.7L548.5 836.4L550.5 834.1L552 832.1L554.5 834.8L556.5 837.7L558.5 840.8L560.5 843.7L562.5 845.7L564.5 846.6L566.5 847.1L568.5 847.9L570.5 847.4L572.5 847.5L574.5 848L576.5 848.1L578.5 849.3L580.5 849.4L582.5 849.3L584.5 847.9L586.5 846.9L588.5 846.5L590.5 845.6L592.5 843.6L594.5 842L596.5 840.4L598.5 839.9L600.5 839.9L602.5 842L604.5 843.2L606.5 844.5L608.5 845.7L610.5 846.6L612.5 848.1L614.5 849.2L616.5 849.2L618.5 849.7L620.5 850.2L622.5 849.7L624.5 849.3L626.5 848.8L628.5 848.4L630.5 849.1L632.5 848.6L634.5 849.4L636.5 849.8L638.5 850.1L640.5 849.5L642.5 849L644.5 849.3L646.5 849.1L648.5 849.2L650.5 849.3L652.5 849.2L654.5 849L656.5 848.6L658.5 848.4L660.5 847.7L662.5 848.2L664.5 848.4L666.5 849.5L668.5 849.3L670.5 847.7L672.5 848L674.5 847.8L676.5 847.2L678.5 847.4L680.5 846.3L682.5 844.9L684.5 844.4L686.5 842.9L688.5 839.9L690.5 835.4L692.5 831L694.5 826.6L695.5 824.6L696.5 824.6L698.5 827.5L700.5 830.6L702.5 832.4L704.5 829.2L706.5 821.3L708.5 808.7L710.5 790.9L712.5 769.7L714.5 753.5L715.1 752.2L716.5 758L718.5 778.6L720.5 801.4L722.5 817.6L724.5 829.1L726.5 836L728.5 839.9L730.5 842.1L732.5 844.7L734.5 845.4L736.5 845.8L738.5 845.9L740.5 846.7L742.5 848L744.5 848.9L746.5 849.3L748.5 849.6L750.5 849.5L752.5 849.3L754.5 849.7L756.5 849.7L758.5 849.6L760.5 850.1L762.5 850.5L764.5 849.9L766.5 849.7L768.5 850.5L770.5 851L772.5 850.1L774.5 849.7L776.5 850L778.5 850.2L780.5 849.2L782.5 850.1L784.5 850.6L786.5 850.1L788.5 850.9L790.5 850.6L792.5 849.9L794.5 849.7L796.5 849.1L798.5 849.8L800.5 850.9L802.5 850.3L804.5 851L806.5 850.6L808.5 850.6L810.5 849.7L812.5 848.4L814.5 848.9L816.5 849.3L818.5 848.4L820.5 848L822.5 848.6L824 848L826.5 847.5L828.5 848.5L830.5 849.6L832.5 849.7L834.5 850.5L836.5 850.8L838.5 849.8L840.5 848.6L842.5 848.4L844.5 849.2L846.5 849.7L848.5 849.3L850.5 848.7L852.5 847.5L854.5 846.1L856.5 843.3L858.5 839L860.5 832.7L862.5 827.2L863.8 826.3L864.5 826.6L866.5 831.5L868.5 838.3L870.5 843.4L872.5 847.6L874.5 848.4L876.5 848.2L878.5 849.2L880.5 849.4L882.5 849.3L884.5 849.9L886.5 848.8L888.5 847.9L890.5 849.6L892.5 850.1L894.5 850.7L896.5 849.8L898.5 849.6L900.5 850.6L902.5 849.9L904.5 850.4L906.5 851.2L908.5 850.6L910.5 850.3L912.5 850.5L914.5 850.6L916.5 850.1L918.5 850.6L920.5 851.2L922.5 851.7L924.5 850.3L926.5 849.7L928.5 850.2L930.5 850L932.5 850.1L934.5 850.3L936.5 850.4L938.5 849.4L940.5 848.6L942.5 847.2L944.5 847.6L946.5 848L948.5 845.4L950.5 841.9L952.5 837.9L954.5 834.7L956 833.2L958.5 835.9L960.5 841.1L962.5 844.9L964.5 847.1L966.5 848.2L968.5 849.8L970.5 849.8L972.5 849.4L974.5 849.2L976.5 849.7L978.5 850.3L980.5 850.2L982.5 850.8L984.5 851L986.5 851.2L988.5 850.9L990.5 849.8L992.5 849L994.5 850.1L996.5 850.7L998.5 850.5L1000.5 850.4L1002.5 849.8L1004.5 849.6L1006.5 849.7L1008.5 850.7L1010.5 850.3L1012.5 849.4L1014.5 849L1016.5 849.8L1018.5 850.8L1020.5 850.2L1022.5 849.7L1024.5 850.6L1026.5 850.9L1028.5 850.4L1030.5 850.1L1032.5 849.8L1034.5 849.1L1036.5 848.1L1038.5 846.7L1040.5 846.2L1042.5 844.6L1044.5 842.5L1046.5 839.2L1048.5 839.3L1050.5 840.3L1052.5 841.4L1054.5 843.4L1056.5 845.2L1058.5 846L1060.5 846L1062.5 846.6L1064.5 847.5L1066.5 847.6L1068.5 846.6L1070.5 845.8L1072.5 845.3L1074.5 844.3L1076.5 841.5L1078.5 838.8L1080.5 835.5L1082.5 829.7L1084.5 822.2L1086.5 813L1088.5 802.3L1090.5 793.1L1092 790.9L1094.5 796L1096.5 806.3L1098.5 815.6L1100.5 823.9L1102.5 830.6L1104.5 833.7L1106.5 834.4L1108.5 832.9L1110.5 827.7L1112.5 816.5L1114.5 800.8L1116.5 789L1118.5 793.4L1120.5 809.9L1122.5 825.2L1124.5 835.8L1126.5 841.5L1128.5 844.3L1130.5 845.1L1132.5 846L1134.5 847.1L1136.5 847.4L1138.5 848.3L1140.5 848.4L1142.5 847.9L1144.5 848.2L1146.5 848.9L1148.5 850.3L1150.5 850.7L1152.5 849.3L1154.5 848.3L1156.5 847.5L1158.5 848.4L1160.5 848.6L1162.5 848.2L1164.5 848.5L1166.5 847.7L1168.5 847.9L1170.5 847.9L1172.5 847.4L1174.5 848.1L1176.5 847.8L1178.5 845.8L1180.5 845L1182.5 845.3L1184.5 843.9L1186.5 841.6L1188.5 839.6L1190.5 836.3L1192.5 830L1194.5 817.6L1196.5 793.2L1198.5 753.2L1200.5 705.2L1202 688.1L1204.5 728.1L1206.5 775.3L1208.5 807.1L1210.5 824.3L1212.5 834.1L1214.5 839.2L1216.5 842.6L1218.5 844.1L1220.5 845.4L1222.5 846.7L1224.5 847.9L1226.5 847.8L1228.5 847.8L1230.5 848.2L1232.5 848.3L1234.5 848.8L1236.5 849.1L1238.5 849.8L1240.5 850.5L1242.5 849.6L1244.5 849.5L1246.5 849.7L1248.5 849.8L1250.5 849.1L1252.5 849.2L1254.5 849.9L1256.5 850.3L1258.5 850L1260.5 849.5L1262.5 849.6L1264.5 850.5L1266.5 851.2L1268.5 850.6L1270.5 850.3L1272.5 850L1274.5 849.3L1276.5 849.3L1277.7 849.6L1278.5 849.9L1280.5 849.6L1282.5 849.5L1284.5 850.9L1286.5 851.4L1288.5 850.5L1290.5 850.5L1292.5 850.7L1294.5 850.5L1296.5 849.9L1298.5 850.8L1300.5 850.6L1302.5 850.9L1304.5 850.4L1306.5 849.9L1308.5 850.1L1310.5 850.4L1312.5 849.6L1314.5 849.4L1316.5 849L1318.5 848.8L1320.5 850.1L1322.5 850L1324.5 849.5L1326.5 849.2L1328.5 847.9L1330.5 847.7L1332.5 847.6L1334.5 845.2L1336.5 840.4L1338.5 836.3L1340.5 834.1L1342.5 831.8L1344.5 829.2L1346.5 830L1348.5 833.3L1350.5 836.7L1352.5 840.7L1354.5 843.9L1356.5 845.8L1358.5 846.7L1360.5 847L1362.5 847.6L1364.5 847.6L1366.5 848.4L1368.5 848L1370.5 844.7L1372.5 841.9L1374.5 841.3L1376.5 841.6L1378.5 842.9L1380.5 844.3L1382.5 845L1384.5 846.5L1386.5 848.3L1388.5 848.5L1390.5 849.6L1392.5 849.8L1394.5 850.3L1396.5 850.6L1398.5 850.7L1400.5 850.4L1402.5 849.6L1404.5 849.9L1406.5 850L1408.5 850.1L1410.5 850.1L1412.5 848.8L1414.5 847.6L1416.5 847.2L1418 847.5L1420.5 848.3L1422.5 848.6L1424.5 849.8L1426.5 850L1428.5 849.6L1430.5 849.4L1432.5 850.3L1434.5 850.5L1436.5 849.8L1438.5 851.2L1440.5 851.9L1442.5 851.3L1444.5 851.5L1446.5 852.5L1448.5 851.7L1450.5 850.4L1452.5 850.4L1454.5 850.5L1456.5 850L1458.5 849.3L1460.5 850.4L1462.5 850.4L1464.5 850.6L1466.5 850.8L1468.5 851.1L1470.5 850.5L1472.5 850.2L1474.5 851.1L1476.5 851.6L1478.5 851.1L1480.5 851.5L1482.5 851L1484.5 850.7L1486.5 851.2L1488.5 850.6L1490.5 850.9L1492.5 850.5L1494.5 850.4L1496.5 849.7L1498.5 849.9L1500.5 851L1502.5 850.8L1504.5 850.4L1506.5 850.2L1508.5 850.2L1510.5 849.3L1512.5 849.2L1514.5 849.7L1516.5 849.5L1518.5 849.5L1520.5 849.9L1522.5 849.9L1524.5 850.2L1526.5 851.1L1528.5 851.1L1530.5 850.8L1532.5 849.8L1534.5 848.9L1536.5 848.3L1538.5 848.2L1540.5 847.6L1542.5 848.3L1544.5 849.4L1546.5 849.9L1548.5 849L1550.5 847.6L1552.5 847.4L1554.5 846.8L1556.5 846.7L1558.5 846L1560.5 845.8L1562.5 845.5L1564.5 843.4L1566.5 841L1568.5 836.4L1570.5 831.2L1572.5 825.6L1574.5 817.4L1576.5 806.1L1578.5 794.7L1580.5 784.1L1582.5 778.8L1583.3 778.9L1584.5 779.7L1586.5 786.1L1588.5 796.3L1590.5 808.3L1592.5 818.7L1594.5 826.5L1596.5 832.1L1598.5 836.2L1600.5 840.6L1602.5 842.4L1604.5 843.8L1606.5 844.9L1608.5 844.6L1610.5 846L1612.5 847.1L1614.5 848.1L1616.5 848.9L1618.5 848.4L1620.5 847.4L1622.5 848.2L1624.5 849L1626.5 849L1628.5 848.2L1630.5 848.2L1632.5 849.6L1634.5 850L1636.5 849.5L1638.5 849.1L1640.5 850L1642.5 848.5L1644.5 849.7L1646.5 851.3L1648.5 850.6L1650.5 850.1L1652.5 849.9L1654.5 850.6L1656.5 849.9L1658.5 850.2L1660.5 850.3L1662.5 850L1664.5 850.4L1666.5 849.6L1668.5 849.7L1670.5 850.2L1672.5 850.3L1674.5 850.9L1676.5 851.1L1678.5 850.4L1680.5 849.9L1682.5 849.9L1684.5 850.3L1686.5 850.8L1688.5 850.5L1690.5 850.6L1692.5 850.2L1694.5 850L1696.5 850.4L1698.5 849.8L1700.5 850.2L1702.5 850.7L1704.5 849.5L1706.5 849.1L1708.5 848.4L1710.5 848.2L1712.5 847.6L1714.5 847.3L1716.5 846.7L1718.5 846.1L1720.5 845.2L1722.5 842.8L1724.5 840.6L1726.5 838.7L1728 837.9L1730.5 838.3L1732.5 839.8L1734.5 843.1L1736.5 846.1L1738.5 847L1740.5 847.7L1742.5 849.2L1744.5 848.9L1746.5 848.6L1748.5 848.5L1750.5 848.9L1752.5 850L1754.5 851.2L1756.5 850.2L1758.5 849.4L1760.5 849.6L1762.5 849.6L1764.5 849.3L1766.5 850.2L1768.5 850.9L1770.5 850.9L1772.5 850.6L1774.5 849.4L1776.5 849.4L1778.5 851L1780.5 851L1782.5 849.7L1784.5 850.1L1786.5 850.5L1788.5 850.6L1790.5 850.3L1792.5 849.9L1794.5 850.1L1796.5 850L1798.5 849.4L1800.5 847.8L1802.5 847L1804.5 847.7L1806.5 847.7L1808.5 848.3L1810.5 848.2L1812.5 846.8L1814.5 844.2L1816.5 840.1L1818.5 832.1L1820.5 819.3L1822.5 811.2L1824.5 817.4L1826.5 829.7L1828.5 839L1830.5 843.2L1832.5 845.7L1834.5 846L1836.5 846.2L1838.5 846.6L1840.5 847.3L1842.5 846.9L1844.5 846.8L1846.5 846.4L1848.5 847.1L1850.5 847L1852.5 845.4L1854.5 844.3L1856.5 842.4L1858.5 840.2L1860.5 835.8L1862.5 831.3L1864.5 828.3L1866.5 823.7L1868.5 819.4L1870.5 817.3L1871.2 816.9L1872.5 817.9L1874.5 820.6L1876.5 825.5L1878.5 829.2L1880.5 831.5L1882.5 834.7L1884.5 837.9L1886.5 839.9L1888.5 842.4L1890.5 843.9L1892.5 844.4L1894.5 845.1L1896.5 846.3L1898.5 847.2L1900.5 847L1902.5 845.9L1904.5 845.2L1906.5 843.6L1908.5 842.4L1910.5 840.3L1912.5 838.3L1914.5 834.8L1916.5 831.5L1918.5 829L1920.5 826.3L1922.5 823.8L1923.5 823.8L1924.5 824.7L1926.5 826.5L1928.5 829L1930.5 832.7L1932.5 836.3L1934.5 840.1L1936.5 841.9L1938.5 842.4L1940.5 843.5L1942.5 846.1L1944.5 847.9L1946.5 848.4L1948.5 848.8L1950.5 848.3L1952.5 848.2L1954.5 849.4L1956.5 849.8L1958.5 849.8L1960.5 849.1L1962.5 849.6L1964.5 849.9L1966.5 850.4L1968.5 849.9L1970.5 849.7L1972.5 850.2L1974.5 851.1L1976.5 850.6L1978.5 849.9L1980.5 849.6L1982.5 850.1L1984.5 850.9L1986.5 849.7L1988.5 850L1990.5 851.2L1992.5 851.7L1994.5 851.2L1996.5 851.5L1998.5 851.8L2000.5 851.7L2002.5 851.6L2004.5 852.1L2006.5 851.8L2008.5 851.8L2010.5 850.9L2012.5 851.1L2014.5 850.1L2016.5 850L2018.5 850.9L2020.5 850.8L2022.5 851L2024.5 850.9L2026.5 851.9L2028.5 851.3L2030.5 850.5L2032.5 851.2L2034.5 851.6L2036.5 851.1L2038.5 851.9L2040.5 852.8L2042.5 852.2L2044.5 851.3L2046.5 851L2048.5 851.1L2050.5 849.8L2052.5 848.9L2054.5 849.9L2056.5 850.8L2058.5 852.2L2060.5 851.5L2062.5 850.5L2064.5 850.5L2066.5 851.2L2068.5 850.8L2070.5 850.8L2072.5 851.2L2074.5 851.4L2076.5 851.5L2078.5 851.8L2080.5 852.6L2082.5 852.4L2084.5 851.3L2086.5 852.7L2088.5 852.3L2090.5 852.1L2092.5 851.3L2094.5 851.5L2096.5 851.6L2098.5 851.7L2100.5 852.1L2102.5 851.8L2104.5 850.9L2106.5 851.3L2108.5 852L2110.5 851.9L2112.5 851.3L2114.5 851.1L2116.5 851L2118.5 850.4L2120.5 850.7L2122.5 852L2124.5 851.6L2126.5 851.3L2128.5 851.3L2130.5 852.5L2132.5 852.8L2134.5 851.8L2136.5 851.6L2138.5 851.5L2140.5 852.6L2142.5 852.3L2144.5 851.5L2146.5 852.2L2148.5 852.1L2150.5 851.9L2152.5 851.6L2154.5 851L2156.5 851.1L2158.5 851.7L2160.5 851.6" fill="none" stroke="#36AD6B" stroke-width="10.5" stroke-linejoin="round" stroke-linecap="butt"/>
<path d="M222.5 1038.5L224.5 1039.2L226.5 1040.2L228.5 1039.4L230.5 1038.1L232.5 1038.4L234.5 1038.5L236.5 1038.4L238.5 1037.8L240.5 1038.5L242.5 1039.1L244.5 1039.5L246.5 1038.8L248.5 1038L250.5 1037.1L252.5 1037.5L254.5 1035.3L256.5 1034L258.5 1030.3L260.5 1024.6L262.5 1018.2L264.5 1014L266.5 1016.2L268.5 1022.5L270.5 1028.6L272.5 1031.5L274.5 1034.3L276.5 1035.9L278.5 1037L280.5 1036.4L282.5 1037.3L284.5 1037.9L286.5 1037.8L288.5 1038.9L290.5 1039.2L292.5 1039.6L294.5 1039.4L296.5 1038.3L298.5 1038.2L300.5 1038.8L302.5 1039.6L304.5 1039.5L306.5 1038.6L308.5 1038.3L310.5 1038.3L312.5 1038.5L314.5 1038.8L316.5 1039.4L318.5 1040.2L320.5 1039.2L322.5 1038.9L324.5 1039.1L326.5 1038.5L328.5 1038.7L330.5 1039.2L332.5 1039.3L334.5 1038.7L336.5 1039.5L338.5 1039.2L340.5 1039.3L342.5 1039.7L344.5 1039.9L346.5 1039.8L348.5 1039.3L350.5 1039L352.5 1038.9L354.5 1038.6L356.5 1039.2L358.5 1038.3L360.5 1038.3L362.5 1039.7L364.5 1038.7L366.5 1038.2L368.5 1039.3L370.5 1038.7L372.5 1038.5L374.5 1037.4L376.5 1036.5L378.5 1034.7L380.5 1032.9L382.5 1031.4L384.5 1029.7L386.5 1029.3L388.5 1030.9L390.5 1032.1L392.5 1034.6L394.5 1035.7L396.5 1036.2L398.5 1036L400.5 1036.1L402.5 1036.5L404.5 1036.8L406.5 1037.3L408.5 1037.5L410.5 1038.3L412.5 1038.1L414.5 1038L416.5 1038.4L418.5 1038L420.5 1037.4L422.5 1037.1L424.5 1037.1L426.5 1037.6L428.5 1037.4L430.5 1037L432.5 1036.6L434.5 1035.8L436.5 1035.4L438.5 1034.7L440.5 1035.3L442.5 1034.7L444.5 1034L446.5 1033.5L448.5 1032.4L450.5 1031.6L452.5 1031.1L454.5 1029.2L456.5 1027L458.5 1025.2L460.5 1022.3L462.5 1020.1L464.5 1014.9L466.5 1008.1L468.5 999.1L470.5 983.9L472.5 961.4L474.5 933L476.5 898.9L478.5 862.4L480.5 833.2L482 825.6L484.5 845.6L486.5 879.1L488.5 915.3L490.5 946.2L492.5 969.5L494.5 986.3L496.5 997.5L498.5 1006.1L500.5 1010.7L502.5 1010.7L504.5 1009.1L506.5 1003.9L508.5 995.7L510.5 988.7L512 987.1L514.5 993.9L516.5 1004.2L518.5 1013.9L520.5 1021.4L522.5 1026.2L524.5 1028.8L526.5 1031.1L528.5 1032L530.5 1033.1L532.5 1034.3L534.5 1034.7L536.5 1035.1L538.5 1035.5L540.5 1035.3L542.5 1035.3L544.5 1035.8L546.5 1036.3L548.5 1036.3L550.5 1036.9L552.5 1035.9L554.5 1034.6L556.5 1036.3L558.5 1038.2L560.5 1037.9L562.5 1037.4L564.5 1037.7L566.5 1039L568.5 1039.4L570.5 1039.2L572.5 1039.2L574.5 1039.7L576.5 1039.2L578.5 1038.3L580.5 1039L582.5 1039L584.5 1039L586.5 1039.3L588.5 1038.5L590.5 1037.5L592.5 1039.5L594.5 1040L596.5 1039.2L598.5 1038.9L600.5 1038.9L602.5 1038.4L604.5 1039L606.5 1039L608.5 1038.7L610.5 1038.4L612.5 1038.9L614.5 1040.1L616.5 1040.4L618.5 1039.9L620.5 1039.2L622.5 1038.9L624.5 1039.9L626.5 1040.1L628.5 1038.9L630.5 1039.2L632.5 1038.1L634.5 1038.7L636.5 1039.1L638.5 1038.2L640.5 1038.1L642.5 1039.2L644.5 1039.7L646.5 1039.4L648.5 1039.8L650.5 1039.4L652.5 1040.1L654.5 1039.6L656.5 1039.4L658.5 1039.5L660.5 1039.7L662.5 1040.6L664.5 1040.7L666.5 1039.5L668.5 1038.4L670.5 1037.6L672.5 1037.6L674.5 1038L676.5 1037.9L678.5 1037.7L680.5 1037.4L682.5 1036.9L684.5 1035.3L686.5 1034.6L688.5 1034.7L690.5 1032.9L692.5 1030.2L694.5 1028.1L696.5 1025.2L698.5 1023.2L700.5 1021.4L702.5 1019.6L704.5 1013.9L706.5 1004.3L708.5 990.2L710.5 974.5L712.5 965.1L714.5 969.2L716.5 982.7L718.5 998.4L720.5 1011.8L722.5 1021.5L724.5 1028L726.5 1031.9L728.5 1033.5L730.5 1034.9L732.5 1035.4L734.5 1036.4L736.5 1037.3L738.5 1038.5L740.5 1038.3L742.5 1037.9L744.5 1038.5L746.5 1038.7L748.5 1038.4L750.5 1038.3L752.5 1038.9L754.5 1040.6L756.5 1040L758.5 1039.6L760.5 1038.5L762.5 1038.4L764.5 1039L766.5 1039.5L768.5 1039.8L770.5 1039.3L772.5 1040.1L774.5 1040.5L776.5 1039.7L778.5 1039.9L780.5 1039.4L782.5 1039.9L784.5 1040.5L786.5 1040.8L788.5 1039.8L790.5 1040L792.5 1040.3L794.5 1039.4L796.5 1039.4L798.5 1039.2L800.5 1039.4L802.5 1040.4L804.5 1041.1L806.5 1042L808.5 1041.7L810.5 1041.1L812.5 1040.1L814.5 1039.7L816.5 1039.5L818.5 1038.9L820.5 1040.3L822.5 1039.6L824.5 1039L826.5 1039.6L828.5 1040.6L830.5 1040.7L832.5 1039.9L834.5 1039.9L836.5 1039.5L838.5 1039L840.5 1039.4L842.5 1039.1L844.5 1038.5L846.5 1039L848.5 1038L850.5 1037.8L852.5 1036.7L854.5 1035.4L856.5 1033.2L858.5 1028L860.5 1015.8L862.5 1000.6L863.8 996.4L864.5 997.1L866.5 1011.8L868.5 1025.6L870.5 1032.4L872.5 1035.8L874.5 1037.1L876.5 1038.4L878.5 1038.6L880.5 1038.7L882.5 1039.9L884.5 1039.6L886.5 1039.2L888.5 1038.9L890.5 1039.2L892.5 1039.7L894.5 1040.2L896.5 1040.4L898.5 1039.3L900.5 1039.8L902.5 1040.7L904.5 1040.5L906.5 1040.7L908.5 1041.3L910.5 1040.8L912.5 1040.5L914.5 1040.6L916.5 1041.5L918.5 1041L920.5 1040L922.5 1040.1L924.5 1039.8L926.5 1040.7L928.5 1040.7L930.5 1040.1L932.5 1039.4L934.5 1039L936.5 1040.1L938.5 1040L940.5 1039.8L942.5 1040L944.5 1039.2L946.5 1038.6L948.5 1037.9L950.5 1037.3L952.5 1037.6L954.5 1035.5L956 1034.7L958.5 1035.5L960.5 1035.4L962.5 1037.6L964.5 1038.8L966.5 1038.9L968.5 1039.3L970.5 1038.6L972.5 1039.6L974.5 1039.9L976.5 1038.4L978.5 1038.5L980.5 1039.5L982.5 1039.8L984.5 1039.6L986.5 1040.1L988.5 1039.9L990.5 1039.1L992.5 1039.2L994.5 1038.6L996.5 1037.7L998.5 1038.1L1000.5 1039.9L1002.5 1040.3L1004.5 1040.6L1006.5 1039.2L1008.5 1039.2L1010.5 1039.7L1012.5 1039.7L1014.5 1039.9L1016.5 1039.5L1018.5 1038.5L1020.5 1037.5L1022.5 1038.5L1024.5 1040.2L1026.5 1040.2L1028.5 1039.7L1030.5 1038.5L1032.5 1037.8L1034.5 1037.3L1036.5 1037.2L1038.5 1036.4L1040.5 1035.4L1042.5 1034L1044.5 1030.9L1046.5 1029L1048.5 1027.6L1050.5 1029L1052.5 1030.3L1054.5 1032L1056.5 1034.1L1058.5 1035.7L1060.5 1035.6L1062.5 1035L1064.5 1034.8L1066.5 1035L1068.5 1034.3L1070.5 1033.7L1072.5 1033.2L1074.5 1031.9L1076.5 1029.4L1078.5 1026.8L1080.5 1022L1082.5 1013.5L1084.5 1004.3L1086.5 991.6L1088.5 975.8L1090.5 963.9L1092 960L1094.5 968.4L1096.5 981.9L1098.5 995.6L1100.5 1006.3L1102.5 1014.2L1104.5 1019.5L1106.5 1021.8L1108.5 1021.4L1110.5 1016.3L1112.5 1001.7L1114.5 974.9L1116.5 948.1L1118.5 958.9L1120.5 991.9L1122.5 1014L1124.5 1024.4L1126.5 1029.2L1128.5 1032.1L1130.5 1034L1132.5 1035.5L1134.5 1036L1136.5 1037.2L1138.5 1037.3L1140.5 1038.3L1142.5 1038.6L1144.5 1038L1146.5 1039.4L1148.5 1040.1L1150.5 1039.1L1152.5 1039.1L1154.5 1039L1156.5 1039L1158.5 1038.8L1160.5 1038.9L1162.5 1039.6L1164.5 1039.8L1166.5 1039.6L1168.5 1040.2L1170.5 1040.1L1172.5 1039.4L1174.5 1038.8L1176.5 1039.8L1178.5 1039L1180.5 1036.6L1182.5 1036.2L1184.5 1036.5L1186.5 1036.8L1188.5 1035.8L1190.5 1033.3L1192.5 1030.7L1194.5 1025.7L1196.5 1014.5L1198.5 993.1L1200.5 954.7L1202.5 914.5L1203.3 909L1204.5 919.5L1206.5 962.7L1208.5 998.6L1210.5 1018L1212.5 1027L1214.5 1031.8L1216.5 1033.5L1218.5 1034.5L1220.5 1036L1222.5 1037.1L1224.5 1038L1226.5 1039.2L1228.5 1039.5L1230.5 1039.9L1232.5 1039.8L1234.5 1039.7L1236.5 1040.1L1238.5 1039.8L1240.5 1039.7L1242.5 1039.4L1244.5 1039.8L1246.5 1040L1248.5 1040.7L1250.5 1042L1252.5 1042.4L1254.5 1041.5L1256.5 1040.7L1258.5 1040.9L1260.5 1040.6L1262.5 1040.1L1264.5 1040.2L1266.5 1040.2L1268.5 1040.3L1270.5 1041.1L1272.5 1040.4L1274.5 1040.2L1276.5 1040.7L1277.7 1040L1278.5 1039.5L1280.5 1039.8L1282.5 1040.7L1284.5 1040.9L1286.5 1040.7L1288.5 1040.1L1290.5 1040L1292.5 1040.5L1294.5 1039.7L1296.5 1039.7L1298.5 1039.4L1300.5 1039.8L1302.5 1040.4L1304.5 1040.4L1306.5 1039.1L1308.5 1040.2L1310.5 1039.9L1312.5 1040.2L1314.5 1040.3L1316.5 1039.5L1318.5 1039.5L1320.5 1039.6L1322.5 1039L1324.5 1038.2L1326.5 1038L1328.5 1037L1330.5 1035.3L1332.5 1034.7L1334.5 1031.8L1336.5 1027.6L1338.5 1025.6L1340.5 1025L1342.5 1024.1L1344.5 1023.7L1346.5 1024.9L1348.5 1028.5L1350.5 1032.2L1352.5 1034.1L1354.5 1035.2L1356.5 1036.3L1358.5 1037.7L1360.5 1037.9L1362.5 1038.2L1364.5 1038.4L1366.5 1038.3L1368.5 1036.6L1370.5 1034.5L1372.5 1032.4L1374.5 1032.7L1375.3 1032.9L1376.5 1032.1L1378.5 1032.2L1380.5 1034.6L1382.5 1037.4L1384.5 1039.6L1386.5 1040L1388.5 1040.4L1390.5 1040.9L1392.5 1040.9L1394.5 1039.7L1396.5 1039.4L1398.5 1039.5L1400.5 1040.1L1402.5 1040.4L1404.5 1040.5L1406.5 1040.1L1408.5 1040.5L1410.5 1040.8L1412.5 1041.9L1414.5 1041.6L1416.5 1042.8L1417.6 1042.3L1418.5 1040.8L1420.5 1041.4L1422.5 1041.2L1424.5 1040.3L1426.5 1041L1428.5 1041.1L1430.5 1041L1432.5 1040.6L1434.5 1040.9L1436.5 1041.2L1438.5 1040.9L1440.5 1040.6L1442.5 1040.6L1444.5 1040.5L1446.5 1040.5L1448.5 1039.9L1450.5 1041.5L1452.5 1041.6L1454.5 1041.6L1456.5 1041.5L1458.5 1041L1460.5 1042L1462.5 1041L1464.5 1041.3L1466.5 1041.7L1468.5 1042L1470.5 1041.1L1472.5 1040.3L1474.5 1040.5L1476.5 1039.6L1478.5 1040.4L1480.5 1041.1L1482.5 1041.9L1484.5 1041.2L1486.5 1040.6L1488.5 1040.3L1490.5 1040.3L1492.5 1040.7L1494.5 1041L1496.5 1040.3L1498.5 1040.3L1500.5 1040L1502.5 1040.6L1504.5 1040.8L1506.5 1040.2L1508.5 1040.4L1510.5 1041.1L1512.5 1041.7L1514.5 1041.7L1516.5 1040.9L1518.5 1039.9L1520.5 1039.8L1522.5 1041.3L1524.5 1042L1526.5 1041.7L1528.5 1041.7L1530.5 1040.7L1532.5 1040.7L1534.5 1041.3L1536.5 1040.4L1538.5 1040.7L1540.5 1040.8L1542.5 1040.9L1544.5 1041.1L1546.5 1039.8L1548.5 1039L1550.5 1038.1L1552.5 1038.3L1554.5 1038.7L1556.5 1038.7L1558.5 1038.6L1560.5 1038.3L1562.5 1036.9L1564.5 1035.6L1566.5 1035.6L1568.5 1034.3L1570.5 1031.4L1572.5 1028.9L1574.5 1026.4L1576.5 1021.6L1578.5 1015.6L1580.5 1009.3L1582.5 1003.9L1584.5 1001.7L1586.5 1003.9L1588.5 1008.5L1590.5 1014.2L1592.5 1020.2L1594.5 1025.4L1596.5 1029.6L1598.5 1032.4L1600.5 1035.5L1602.5 1035.7L1604.5 1036.7L1606.5 1038.1L1608.5 1037.9L1610.5 1038.3L1612.5 1038.4L1614.5 1037.4L1616.5 1038.5L1618.5 1039.1L1620.5 1039.8L1622.5 1040.6L1624.5 1041.2L1626.5 1041.9L1628.5 1042L1630.5 1041.6L1632.5 1041.1L1634.5 1041.2L1636.5 1040.4L1638.5 1040.9L1640.5 1041.9L1642.5 1041.4L1644.5 1040.2L1646.5 1040.5L1648.5 1041.6L1650.5 1041.9L1652.5 1041.5L1654.5 1039.9L1656.5 1039.9L1658.5 1040.5L1660.5 1040.5L1662.5 1040.9L1664.5 1041.3L1666.5 1041.4L1668.5 1041.3L1670.5 1041.7L1672.5 1041.9L1674.5 1041.2L1676.5 1040.8L1678.5 1041.8L1680.5 1041.7L1682.5 1041.6L1684.5 1041.1L1686.5 1040.3L1688.5 1041L1690.5 1040.6L1692.5 1040.5L1694.5 1041.6L1696.5 1041.2L1698.5 1041.4L1700.5 1041.9L1702.5 1041.7L1704.5 1039.9L1706.5 1039.9L1708.5 1040.5L1710.5 1039.2L1712.5 1037.7L1714.5 1038.7L1716.5 1039L1718.5 1038.5L1720.5 1037.2L1722.5 1035.9L1724.5 1035.2L1726.5 1034.7L1728.5 1034.7L1730.5 1035.7L1732.5 1036.6L1734.5 1037.1L1736.5 1038.9L1738.5 1039.9L1740.5 1039.7L1742.5 1038.5L1744.5 1039.7L1746.5 1040.2L1748.5 1040.1L1750.5 1040.6L1752.5 1040.3L1754.5 1041.5L1756.5 1041.4L1758.5 1041.1L1760.5 1041.9L1762.5 1041.7L1764.5 1041.1L1766.5 1040.4L1768.5 1041.4L1770.5 1042.3L1772.5 1041.8L1774.5 1040.8L1776.5 1041.9L1778.5 1042.4L1780.5 1041.7L1782.5 1040.4L1784.5 1039.5L1786.5 1039.5L1788.5 1039.9L1790.5 1040.3L1792.5 1040L1794.5 1038.6L1796.5 1037.4L1798.5 1037.2L1800.5 1037.1L1802.5 1038L1804.5 1037.5L1806.5 1038.1L1808.5 1038.2L1810.5 1037.1L1812.5 1036.6L1814.5 1034.1L1816.5 1028.5L1818.5 1017.7L1820.5 999.9L1822.5 985.2L1824.5 994.8L1826.5 1014.9L1828.5 1027.1L1830.5 1032.4L1832.5 1035.1L1834.5 1036.5L1836.5 1037.2L1838.5 1037.7L1840.5 1037.6L1842.5 1038.7L1844.5 1038.1L1846.5 1036.3L1848.5 1034.9L1850.5 1035L1852.5 1034.3L1854.5 1033.5L1856.5 1032L1858.5 1029.6L1860.5 1025.3L1862.5 1020.8L1864.5 1015.2L1866.5 1009.8L1868.5 1005L1870.5 999.8L1872.5 997.2L1874.5 997.9L1876.5 1001.9L1878.5 1007.2L1880.5 1012.3L1882.5 1017.2L1884.5 1022.3L1886.5 1025.8L1888.5 1029L1890.5 1031.7L1892.5 1033L1894.5 1033.5L1896.5 1036.1L1898.5 1037.3L1900.5 1038.3L1902.5 1038.2L1904.5 1036.2L1906.5 1035.5L1908.5 1035.7L1910.5 1035.1L1912.5 1033.2L1914.5 1031.6L1916.5 1030L1918.5 1026.9L1920.5 1024.6L1922.5 1022.4L1924.5 1019.9L1926.5 1019.2L1928.5 1019.3L1930.5 1020.4L1932.5 1023.5L1934.5 1026.9L1936.5 1029.7L1938.5 1032.3L1940.5 1034.6L1942.5 1036.1L1944.5 1037L1946.5 1037.6L1948.5 1038.2L1950.5 1038.6L1952.5 1039.3L1954.5 1040L1956.5 1039.1L1958.5 1039.5L1960.5 1039.2L1962.5 1039.9L1964.5 1040.9L1966.5 1041L1968.5 1041.4L1970.5 1040.6L1972.5 1040.5L1974.5 1040.6L1976.5 1040.9L1978.5 1040.9L1980.5 1040.9L1982.5 1041.5L1984.5 1042L1986.5 1041.7L1988.5 1041.4L1990.5 1041L1992.5 1040.6L1994.5 1040.1L1996.5 1040.4L1998.5 1040.8L2000.5 1040.4L2002.5 1041.4L2004.5 1041.2L2006.5 1040.7L2008.5 1041.2L2010.5 1041.9L2012.5 1042L2014.5 1042.3L2016.5 1043.3L2018.5 1043.3L2020.5 1041.6L2022.5 1041.8L2024.5 1041.1L2026.5 1040.6L2028.5 1041.4L2030.5 1042.3L2032.5 1041.8L2034.5 1041.9L2036.5 1042.8L2038.5 1042.6L2040.5 1042.5L2042.5 1043.2L2044.5 1042.6L2046.5 1041.5L2048.5 1041.1L2050.5 1041.6L2052.5 1042.3L2054.5 1042.9L2056.5 1042.9L2058.5 1042.1L2060.5 1041.7L2062.5 1042.5L2064.5 1042.2L2066.5 1041.2L2068.5 1041.2L2070.5 1042.1L2072.5 1042.6L2074.5 1042.5L2076.5 1042L2078.5 1042.7L2080.5 1041.5L2082.5 1042.1L2084.5 1043.2L2086.5 1043L2088.5 1042L2090.5 1042.7L2092.5 1043.3L2094.5 1042.8L2096.5 1042.1L2098.5 1042.7L2100.5 1041.6L2102.5 1041.7L2104.5 1041.4L2106.5 1041.6L2108.5 1042L2110.5 1042.2L2112.5 1041.6L2114.5 1042.4L2116.5 1043.1L2118.5 1042.7L2120.5 1042.7L2122.5 1042.5L2124.5 1041.8L2126.5 1041.9L2128.5 1042.3L2130.5 1043.1L2132.5 1044L2134.5 1043.7L2136.5 1042.3L2138.5 1041.7L2140.5 1041L2142.5 1040.9L2144.5 1042.7L2146.5 1042.5L2148.5 1041.2L2150.5 1042.4L2152.5 1043.9L2154.5 1043.3L2156.5 1042.8L2158.5 1042.4L2160.5 1041.7" fill="none" stroke="#1B6BDD" stroke-width="10.5" stroke-linejoin="round" stroke-linecap="butt"/>
<path d="M222.5 1231.6L224.5 1231.5L226.5 1232.1L228.5 1232.9L230.5 1233.2L232.5 1232.6L234.5 1231.8L236.5 1231.8L238.5 1232.8L240.5 1233.3L242.5 1232.1L244.5 1230.8L246.5 1230.9L248.5 1231.9L250.5 1230.7L252.5 1228.7L254.5 1227.8L256.5 1225.8L258.5 1223.3L260.5 1220.1L262.5 1216.9L264.5 1215.5L266.5 1216L268.5 1218.7L270.5 1222.7L272.5 1225.7L274.5 1226.8L276.5 1228.5L278.5 1229.5L280.5 1230.2L282.5 1230.4L284.5 1231.2L286.5 1231.6L288.5 1231.4L290.5 1231.2L292.5 1231.4L294.5 1231.1L296.5 1231.2L298.5 1231.9L300.5 1231.9L302.5 1233L304.5 1232.6L306.5 1231.4L308.5 1231.9L310.5 1231.8L312.5 1232.2L314.5 1232L316.5 1231.2L318.5 1231.8L320.5 1232.5L322.5 1232.8L324.5 1232.1L326.5 1232.4L328.5 1231.9L330.5 1231.9L332.5 1232.2L334.5 1233.3L336.5 1233.7L338.5 1234.3L340.5 1233.6L342.5 1233.3L344.5 1233L346.5 1232.2L348.5 1232.5L350.5 1233.1L352.5 1232.4L354.5 1232.3L356.5 1232.4L358.5 1232.5L360.5 1232L362.5 1231.9L364.5 1232.1L366.5 1231.8L368.5 1231.4L370.5 1231.6L372.5 1230.3L374.5 1229.4L376.5 1229.1L378.5 1229.2L380.5 1227.6L382.5 1225.6L384.5 1224.9L386.5 1225.8L388.5 1226.2L390.5 1227.4L392.5 1229.1L394.5 1229.4L396.5 1230.1L398.5 1230.7L400.5 1230.8L402.5 1231.3L404.5 1231.9L406.5 1230.9L408.5 1229.9L410.5 1229.7L412.5 1230.5L414.5 1230.8L416.5 1230.9L418.5 1230.5L420.5 1230.2L422.5 1230L424.5 1230L426.5 1230.2L428.5 1230L430.5 1230.4L432.5 1231L434.5 1229.9L436.5 1228.7L438.5 1229.7L440.5 1228.9L442.5 1227.8L444.5 1227.9L446.5 1227L448.5 1225.7L450.5 1224.7L452.5 1223.7L454.5 1223.3L456.5 1222.4L458.5 1220.1L460.5 1218.3L462.5 1215.7L464.5 1210.2L466.5 1204.3L468.5 1194.9L470.5 1179.9L472.5 1157.8L474.5 1126.1L476.5 1083.1L478.5 1032.8L480.5 991.2L482 979.8L484.5 1009.6L486.5 1057.8L488.5 1104.6L490.5 1141.7L492.5 1167.9L494.5 1183.3L496.5 1191.8L498.5 1195.8L500.5 1196.1L502.5 1195.2L504.5 1193.7L506.5 1191.2L508.5 1188.6L510.5 1185.6L512.5 1184.6L514.5 1187.6L516.5 1190.5L518.5 1194.1L520.5 1200L522.5 1204.7L524.5 1208.7L526.5 1213.8L528.5 1218.3L530.5 1222.2L532.5 1223.7L534.5 1225.4L536.5 1226.7L538.5 1227.4L540.5 1227.9L542.5 1229.1L544.5 1229.9L546.5 1229.5L548.5 1228.5L550.5 1228.3L552.5 1229.1L554.5 1229.3L556.5 1229.4L558.5 1229.9L560.5 1231.9L562.5 1231.9L564.5 1231.1L566.5 1232L568.5 1232L570.5 1230.3L572.5 1230.7L574.5 1231.5L576.5 1232.1L578.5 1231.9L580.5 1231.7L582.5 1232.3L584.5 1233.6L586.5 1233.7L588.5 1232.1L590.5 1232L592.5 1233.4L594.5 1232L596.5 1231.7L598.5 1232.2L600.5 1232.8L602.5 1233.1L604.5 1232.6L606.5 1232L608.5 1232.5L610.5 1233L612.5 1233.6L614.5 1232.5L616.5 1231.3L618.5 1231.7L620.5 1232.9L622.5 1231.9L624.5 1230.8L626.5 1231.6L628.5 1232.5L630.5 1232.9L632.5 1232.2L634.5 1232.7L636.5 1232.8L638.5 1232.1L640.5 1232.5L642.5 1233.8L644.5 1234L646.5 1233.3L648.5 1232.9L650.5 1233L652.5 1232.3L654.5 1231.8L656.5 1231.5L658.5 1231.8L660.5 1232.5L662.5 1233.5L664.5 1232.6L666.5 1232.7L668.5 1232.6L670.5 1231.8L672.5 1231.3L674.5 1229.8L676.5 1230.3L678.5 1230.1L680.5 1227.9L682.5 1227.5L684.5 1227.5L686.5 1225L688.5 1221.5L690.5 1218.2L692.5 1214.9L694.5 1213L696.5 1212.6L698.5 1213.3L700.5 1214L702.5 1213.8L704.5 1211.3L706.5 1204.9L708.5 1196.1L710.5 1186.3L712.5 1180.2L714.5 1182.9L716.5 1192.3L718.5 1202.2L720.5 1210.1L722.5 1216.4L724.5 1221.8L726.5 1224.8L728.5 1226.6L730.5 1228L732.5 1229.3L734.5 1230.2L736.5 1231.1L738.5 1231.7L740.5 1232.2L742.5 1231.9L744.5 1231.4L746.5 1231.6L748.5 1232L750.5 1231.9L752.5 1232.5L754.5 1232.7L756.5 1231.5L758.5 1231.2L760.5 1232.7L762.5 1232.8L764.5 1232.6L766.5 1232.2L768.5 1233.5L770.5 1233.3L772.5 1232.6L774.5 1232.4L776.5 1232.6L778.5 1232.5L780.5 1232.2L782.5 1232.2L784.5 1233.2L786.5 1233L788.5 1232.8L790.5 1232.3L792.5 1231.4L794.5 1232.5L796.5 1232.6L798.5 1232.6L800.5 1232.6L802.5 1232.4L804.5 1233L806.5 1232.3L808.5 1231.9L810.5 1232.1L812.5 1232.8L814.5 1233.1L816.5 1232.2L818.5 1231.8L820.5 1232.6L822.5 1232.2L824.5 1232.9L826.5 1232.4L828.5 1231.9L830.5 1232.1L832.5 1232.9L834.5 1233.2L836.5 1232.9L838.5 1233.6L840.5 1234L842.5 1232.6L844.5 1231.4L846.5 1231L848.5 1230.8L850.5 1230.9L852.5 1230.4L854.5 1229.6L856.5 1228.4L858.5 1224.8L860.5 1222.3L862.5 1221.2L863.8 1220.5L864.5 1220.2L866.5 1223L868.5 1227L870.5 1229.1L872.5 1230.1L874.5 1230.4L876.5 1231.2L878.5 1231.4L880.5 1231.5L882.5 1231.8L884.5 1232.3L886.5 1232.6L888.5 1232.8L890.5 1232.1L892.5 1232.8L894.5 1233.9L896.5 1233.6L898.5 1233.9L900.5 1234.2L902.5 1234.1L904.5 1233.4L906.5 1232.2L908.5 1232.3L910.5 1232.2L912.5 1231.7L914.5 1232L916.5 1231.6L918.5 1231.6L920.5 1232.6L922.5 1232.7L924.5 1232.2L926.5 1232L928.5 1232.2L930.5 1232.4L932.5 1232.5L934.5 1232.6L936.5 1232.6L938.5 1233L940.5 1233.1L942.5 1232.7L944.5 1231.9L946.5 1231.6L948.5 1231.8L950.5 1231.1L952.5 1229.8L954.5 1227.5L956.5 1227.1L958.5 1229.1L960.5 1230.6L962.5 1231.9L964.5 1232.2L966.5 1232.1L968.5 1231.9L970.5 1231.7L972.5 1232.6L974.5 1232.5L976.5 1232.8L978.5 1232.9L980.5 1233.1L982.5 1233.2L984.5 1232.5L986.5 1232.1L988.5 1232L990.5 1232.6L992.5 1233.5L994.5 1233L996.5 1233.5L998.5 1233.5L1000.5 1233.4L1002.5 1232.9L1004.5 1232.1L1006.5 1232.8L1008.5 1233.3L1010.5 1232.2L1012.5 1231.9L1014.5 1231.8L1016.5 1231.9L1018.5 1231.7L1020.5 1232.5L1022.5 1231.5L1024.5 1230.9L1026.5 1232.4L1028.5 1232.2L1030.5 1231.4L1032.5 1230.7L1034.5 1229.5L1036.5 1228.5L1038.5 1227.7L1040.5 1226L1042.5 1223.2L1044.5 1219.5L1046.5 1216.3L1048.5 1215.3L1050.5 1217.2L1052.5 1219.7L1054.5 1221.4L1056.5 1223.6L1058.5 1226.1L1060.5 1227.2L1062.5 1227.1L1064.5 1226.1L1066.5 1226L1068.5 1225.7L1070.5 1224.9L1072.5 1223.3L1074.5 1222.8L1076.5 1220.1L1078.5 1215.6L1080.5 1208.6L1082.5 1200L1084.5 1187.6L1086.5 1170.2L1088.5 1152.8L1090.5 1138.6L1092 1134.2L1094.5 1144.5L1096.5 1161.2L1098.5 1178.8L1100.5 1192.8L1102.5 1203L1104.5 1210.2L1106.5 1213.1L1108.5 1212.1L1110.5 1205.9L1112.5 1195.5L1114.5 1181.1L1116.5 1169.5L1118.5 1174.6L1120.5 1191.5L1122.5 1206.1L1124.5 1216L1126.5 1221.3L1128.5 1224.8L1130.5 1226.3L1132.5 1227.4L1134.5 1229L1136.5 1230.2L1138.5 1229.4L1140.5 1229.8L1142.5 1230.9L1144.5 1231.1L1146.5 1232L1148.5 1231.7L1150.5 1231.5L1152.5 1232L1154.5 1232.8L1156.5 1232.5L1158.5 1232.1L1160.5 1231.5L1162.5 1230.5L1164.5 1231.1L1166.5 1232.5L1168.5 1232.6L1170.5 1232.2L1172.5 1231.9L1174.5 1231.2L1176.5 1231.1L1178.5 1230.6L1180.5 1230.6L1182.5 1229.9L1184.5 1229.7L1186.5 1229.4L1188.5 1228.3L1190.5 1227.3L1192.5 1225.1L1194.5 1220.9L1196.5 1212.1L1198.5 1193.5L1200.5 1165.6L1202.5 1139.7L1203.3 1137.2L1204.5 1145.1L1206.5 1174.1L1208.5 1199.3L1210.5 1213.8L1212.5 1222L1214.5 1225.6L1216.5 1226.7L1218.5 1227.9L1220.5 1229.4L1222.5 1229.8L1224.5 1229L1226.5 1230.6L1228.5 1231.6L1230.5 1231.7L1232.5 1232.1L1234.5 1232.2L1236.5 1231.8L1238.5 1232.3L1240.5 1232.1L1242.5 1231.9L1244.5 1232.8L1246.5 1233.2L1248.5 1231.7L1250.5 1231L1252.5 1231.8L1254.5 1233.6L1256.5 1233.1L1258.5 1232.6L1260.5 1232.1L1262.5 1231.7L1264.5 1231.5L1266.5 1232.6L1268.5 1232.7L1270.5 1231.5L1272.5 1231.7L1274.5 1232.3L1276.5 1232.9L1277.7 1233.4L1278.5 1234.1L1280.5 1234.4L1282.5 1234.3L1284.5 1233.8L1286.5 1232.5L1288.5 1232.7L1290.5 1233.7L1292.5 1233.4L1294.5 1232.6L1296.5 1231.3L1298.5 1231.5L1300.5 1233L1302.5 1233.2L1304.5 1232.7L1306.5 1232.2L1308.5 1231.8L1310.5 1232.9L1312.5 1233.8L1314.5 1234L1316.5 1232.9L1318.5 1232.2L1320.5 1231.9L1322.5 1233.1L1324.5 1233.1L1326.5 1231.6L1328.5 1231.1L1330.5 1230.2L1332.5 1228.3L1334.5 1226.1L1336.5 1225.5L1338.5 1224.4L1340.5 1221.9L1342.5 1220.7L1344.5 1220.8L1346.5 1224.3L1348.5 1226.5L1350.5 1227.6L1352.5 1228.6L1354.5 1229.4L1356.5 1230.3L1358.5 1230.8L1360.5 1231L1362.5 1231.2L1364.5 1231.4L1366.5 1231.2L1368.5 1229.3L1370.5 1228.4L1372.5 1226.9L1374.5 1225.4L1375.3 1225.1L1376.5 1226.6L1378.5 1227.3L1380.5 1228.6L1382.5 1230.2L1384.5 1230.6L1386.5 1231.6L1388.5 1232.3L1390.5 1233.1L1392.5 1233.2L1394.5 1232.6L1396.5 1233.2L1398.5 1233L1400.5 1232.9L1402.5 1233L1404.5 1233.1L1406.5 1232.3L1408.5 1232.9L1410.5 1233.4L1412.5 1233L1414.5 1233.3L1416.5 1232.1L1417.6 1231.9L1418.5 1231.7L1420.5 1231.5L1422.5 1231.5L1424.5 1232.1L1426.5 1232.5L1428.5 1232.7L1430.5 1233.8L1432.5 1234L1434.5 1232.8L1436.5 1233.4L1438.5 1233.6L1440.5 1234L1442.5 1235.1L1444.5 1234.7L1446.5 1233.8L1448.5 1233L1450.5 1232.1L1452.5 1233.1L1454.5 1233L1456.5 1233.3L1458.5 1233.6L1460.5 1234.4L1462.5 1235L1464.5 1234.7L1466.5 1234.3L1468.5 1233.6L1470.5 1233.7L1472.5 1233.6L1474.5 1233L1476.5 1234.1L1478.5 1233L1480.5 1232.7L1482.5 1234.5L1484.5 1234.8L1486.5 1233.2L1488.5 1233.4L1490.5 1235.1L1492.5 1233.5L1494.5 1231.9L1496.5 1232.8L1498.5 1234.5L1500.5 1234.2L1502.5 1234.1L1504.5 1234.3L1506.5 1233.8L1508.5 1232.7L1510.5 1232.1L1512.5 1232.7L1514.5 1232.4L1516.5 1233.2L1518.5 1234.2L1520.5 1233.7L1522.5 1233.1L1524.5 1233.1L1526.5 1233.5L1528.5 1233.3L1530.5 1232.2L1532.5 1232.9L1534.5 1233.9L1536.5 1233.2L1538.5 1232L1540.5 1231.3L1542.5 1230.6L1544.5 1231.5L1546.5 1232.8L1548.5 1231.9L1550.5 1231L1552.5 1230.8L1554.5 1230.9L1556.5 1230.6L1558.5 1229.9L1560.5 1229.4L1562.5 1229.7L1564.5 1229.2L1566.5 1226.8L1568.5 1224.9L1570.5 1222.8L1572.5 1218.2L1574.5 1213.5L1576.5 1208.1L1578.5 1201.5L1580.5 1194.1L1582.5 1188.2L1584.5 1186.2L1586.5 1187.6L1588.5 1192.6L1590.5 1200L1592.5 1208L1594.5 1213.5L1596.5 1219.1L1598.5 1223.2L1600.5 1225.7L1602.5 1226.9L1604.5 1227.9L1606.5 1228.9L1608.5 1229.2L1610.5 1229.7L1612.5 1231.1L1614.5 1231.2L1616.5 1232.4L1618.5 1232.3L1620.5 1231.8L1622.5 1232.4L1624.5 1232.7L1626.5 1231.5L1628.5 1231.3L1630.5 1231.6L1632.5 1232.5L1634.5 1232.9L1636.5 1232.6L1638.5 1232.2L1640.5 1232.6L1642.5 1233.7L1644.5 1233.9L1646.5 1233L1648.5 1232.3L1650.5 1233.2L1652.5 1233.4L1654.5 1233.7L1656.5 1234.4L1658.5 1233.8L1660.5 1232.5L1662.5 1232.6L1664.5 1233.8L1666.5 1233.8L1668.5 1233.8L1670.5 1233.1L1672.5 1232.7L1674.5 1233.6L1676.5 1234.4L1678.5 1233.6L1680.5 1232.6L1682.5 1232.7L1684.5 1232.9L1686.5 1233.5L1688.5 1234.4L1690.5 1234.8L1692.5 1233.8L1694.5 1233.1L1696.5 1233.2L1698.5 1233.1L1700.5 1232.9L1702.5 1233L1704.5 1232.7L1706.5 1232.2L1708.5 1232.7L1710.5 1232.1L1712.5 1231.6L1714.5 1231.8L1716.5 1231.5L1718.5 1232L1720.5 1231.2L1722.5 1230.3L1724.5 1229.8L1726.5 1230.4L1728.5 1231.4L1730.5 1231.4L1732.5 1231.8L1734.5 1231.2L1736.5 1232.4L1738.5 1233.3L1740.5 1233.3L1742.5 1233.3L1744.5 1233.5L1746.5 1232.6L1748.5 1232.4L1750.5 1233.2L1752.5 1234L1754.5 1233.7L1756.5 1233.2L1758.5 1233.4L1760.5 1233.2L1762.5 1231.8L1764.5 1230.9L1766.5 1231.5L1768.5 1231.8L1770.5 1232.1L1772.5 1232L1774.5 1232.3L1776.5 1233.1L1778.5 1233.2L1780.5 1233.3L1782.5 1233.9L1784.5 1232.9L1786.5 1232.8L1788.5 1233.2L1790.5 1231.9L1792.5 1231.7L1794.5 1233.1L1796.5 1233.1L1798.5 1232.9L1800.5 1232.9L1802.5 1232.5L1804.5 1231.5L1806.5 1230.9L1808.5 1230.2L1810.5 1230L1812.5 1229.1L1814.5 1226.9L1816.5 1223.8L1818.5 1216.7L1820.5 1203.7L1822.5 1196L1824.5 1202L1826.5 1213.1L1828.5 1220.8L1830.5 1226.1L1832.5 1228L1834.5 1228.3L1836.5 1228.5L1838.5 1229.1L1840.5 1229.5L1842.5 1229.6L1844.5 1229.5L1846.5 1227.6L1848.5 1226.4L1850.5 1224.9L1852.5 1223.4L1854.5 1220.5L1856.5 1216.4L1858.5 1211.6L1860.5 1206.7L1862.5 1201.3L1864.5 1195L1866.5 1187.3L1868.5 1180.1L1870.5 1176.9L1871.2 1177.1L1872.5 1178L1874.5 1182.4L1876.5 1189.2L1878.5 1196L1880.5 1201.9L1882.5 1207.3L1884.5 1212.7L1886.5 1216.5L1888.5 1220.2L1890.5 1222.7L1892.5 1223.7L1894.5 1225.2L1896.5 1226.6L1898.5 1228.1L1900.5 1227.4L1902.5 1226.2L1904.5 1226.9L1906.5 1226.7L1908.5 1225.5L1910.5 1224.3L1912.5 1223.2L1914.5 1221.2L1916.5 1218.2L1918.5 1214.4L1920.5 1211.2L1922.5 1208L1924.5 1206.5L1925.4 1206.8L1926.5 1207.2L1928.5 1209.9L1930.5 1214.3L1932.5 1216.6L1934.5 1218.2L1936.5 1220.2L1938.5 1222.9L1940.5 1224.5L1942.5 1226L1944.5 1228.5L1946.5 1229.5L1948.5 1231L1950.5 1232.7L1952.5 1231.9L1954.5 1231.5L1956.5 1231.7L1958.5 1231.5L1960.5 1231.3L1962.5 1232L1964.5 1232.8L1966.5 1232.1L1968.5 1231.2L1970.5 1231.2L1972.5 1231.7L1974.5 1232.5L1976.5 1233.2L1978.5 1233.5L1980.5 1233.7L1982.5 1233.3L1984.5 1233.5L1986.5 1233.6L1988.5 1233.2L1990.5 1232.4L1992.5 1233.2L1994.5 1232.2L1996.5 1232.4L1998.5 1233.4L2000.5 1233.6L2002.5 1234.4L2004.5 1233.6L2006.5 1232.8L2008.5 1233.2L2010.5 1233.6L2012.5 1234.7L2014.5 1235L2016.5 1234.2L2018.5 1233.5L2020.5 1233.7L2022.5 1234L2024.5 1233.1L2026.5 1233.1L2028.5 1234.1L2030.5 1234.2L2032.5 1233.5L2034.5 1233L2036.5 1232.6L2038.5 1233.9L2040.5 1233.5L2042.5 1232.5L2044.5 1232.4L2046.5 1233.2L2048.5 1234.7L2050.5 1234.2L2052.5 1233.4L2054.5 1234.8L2056.5 1234.7L2058.5 1232.8L2060.5 1232L2062.5 1233.6L2064.5 1233.5L2066.5 1233.4L2068.5 1233.7L2070.5 1234.8L2072.5 1235.1L2074.5 1234.6L2076.5 1233.9L2078.5 1234L2080.5 1233.9L2082.5 1233.2L2084.5 1234.1L2086.5 1233.9L2088.5 1233.9L2090.5 1234.2L2092.5 1234.7L2094.5 1235.2L2096.5 1235.4L2098.5 1233.9L2100.5 1233.2L2102.5 1233.6L2104.5 1233.6L2106.5 1234L2108.5 1233.6L2110.5 1234L2112.5 1234.7L2114.5 1234.8L2116.5 1234.6L2118.5 1235.1L2120.5 1234.6L2122.5 1233.2L2124.5 1233.8L2126.5 1234L2128.5 1233.6L2130.5 1233.4L2132.5 1233.9L2134.5 1234.2L2136.5 1234.5L2138.5 1235L2140.5 1234.7L2142.5 1233.6L2144.5 1233.5L2146.5 1234.1L2148.5 1233.7L2150.5 1234L2152.5 1234.5L2154.5 1234.8L2156.5 1234.8L2158.5 1234.9L2160.5 1233.9" fill="none" stroke="#EC3F43" stroke-width="10.5" stroke-linejoin="round" stroke-linecap="butt"/>
<path d="M222.5 1384.7L224.5 1384.1L226.5 1382L228.5 1382.8L230.5 1383.9L232.5 1384.2L234.5 1383.9L236.5 1383.8L238.5 1383.1L240.5 1382.6L242.5 1381.8L244.5 1380.5L246.5 1380L248.5 1379.6L250.5 1378.2L252.5 1376.3L254.5 1371.9L256.5 1363.7L258.5 1351.8L260.5 1341.1L261.8 1337.3L262.5 1337.9L264.5 1347.4L266.5 1359L268.5 1366.9L270.5 1372.7L272.5 1377L274.5 1379.1L276.5 1381L278.5 1381.7L280.5 1381.9L282.5 1382.4L284.5 1382.8L286.5 1382.8L288.5 1383.1L290.5 1382.6L292.5 1382.5L294.5 1382.6L296.5 1383.2L298.5 1383L300.5 1383L302.5 1384.1L304.5 1383.4L306.5 1383.2L308.5 1383.9L310.5 1384.4L312.5 1383.7L314.5 1383.7L316.5 1383.2L318.5 1382.6L320.5 1383.7L322.5 1384L324.5 1383.4L326.5 1382.9L328.5 1382L330.5 1381.9L332.5 1382.8L334.5 1383.4L336.5 1383.1L338.5 1383.5L340.5 1383.9L342.5 1383.6L344.5 1383.8L346.5 1383.9L348.5 1382.7L350.5 1382.8L352.5 1382L354.5 1382.8L356.5 1382.9L358.5 1382.1L360.5 1381.7L362.5 1382L364.5 1381.9L366.5 1381.7L368.5 1381.2L370.5 1381L372.5 1379.7L374.5 1378.5L376.5 1376.5L378.5 1372.9L380.5 1365.8L382.5 1359.4L384.5 1356.7L386.5 1359.2L388.5 1365.5L390.5 1372.1L392.5 1376.3L394.5 1378.9L396.5 1379.6L398.5 1380.7L400.5 1381.7L402.5 1381.9L404.5 1381.4L406.5 1382L408.5 1381.1L410.5 1380.3L412.5 1380.7L414.5 1381.4L416.5 1381.5L418.5 1381.7L420.5 1381.7L422.5 1381.3L424.5 1381.1L426.5 1381L428.5 1378.7L430.5 1377.7L432.5 1377.4L434.5 1375.5L436.5 1372.6L438.5 1370.2L440.5 1366.1L442.5 1361.6L444.5 1361.1L446.5 1363.2L448.5 1366.3L450.5 1368.6L452.5 1370.8L454.5 1371.6L456.5 1372.3L458.5 1371.6L460.5 1370.6L462.5 1368.5L464.5 1365.9L466.5 1360.9L468.5 1351.8L470.5 1335.2L472.5 1310.2L474.5 1273.8L476.5 1224.9L478.5 1179.3L480 1165.6L482.5 1200.5L484.5 1251.5L486.5 1295.4L488.5 1326L490.5 1345.1L492.5 1357.6L494.5 1364.3L496.5 1368.7L498.5 1371.6L500.5 1374L502.5 1375.1L504.5 1376.2L506.5 1376.9L508.5 1377.2L510.5 1377.9L512.5 1378.7L514.5 1379.1L516.5 1379.7L518.5 1381.1L520.5 1380.2L522.5 1380.7L524.5 1382L526.5 1381.1L528.5 1381.4L530.5 1381.4L532.5 1380.5L534.5 1379.3L536.5 1379L538.5 1379.4L540.5 1378.5L542.5 1376.1L544.5 1374.9L546.5 1373.2L548.5 1372.5L549.4 1372L550.5 1371.6L552.5 1373.3L554.5 1376.2L556.5 1379.4L558.5 1381.6L560.5 1381.3L562.5 1381.4L564.5 1381.9L566.5 1382.1L568.5 1382.5L570.5 1382.5L572.5 1382.1L574.5 1381.8L576.5 1382.4L578.5 1382.9L580.5 1382.8L582.5 1383.3L584.5 1382.8L586.5 1382L588.5 1381.8L590.5 1380.3L592.5 1380.7L594 1381L596.5 1380.3L598.5 1380.8L600.5 1382.2L602.5 1383.1L604.5 1382.9L606.5 1382.9L608.5 1383.3L610.5 1382.8L612.5 1382L614.5 1382.4L616.5 1382.4L618.5 1382L620.5 1382.6L622.5 1382.6L624.5 1382.8L626.5 1381.9L628.5 1381.6L630.5 1382L632.5 1383.6L634.5 1384.2L636.5 1384.4L638.5 1384.2L640.5 1383.8L642.5 1383.1L644.5 1381.9L646.5 1382.3L648.5 1382.2L650.5 1381.9L652.5 1381.8L654.5 1382.9L656.5 1382.3L658.5 1381.3L660.5 1381.9L662.5 1381.6L664.5 1380.8L666.5 1380.7L668.5 1379.9L670.5 1378.6L672.5 1378.8L674.5 1379.5L676.5 1379L678.5 1377.4L680.5 1374.7L682.5 1371.7L684.5 1367.2L686.5 1359.6L688.5 1348.6L690.5 1339L692 1336.7L694.5 1341.9L696.5 1349.4L698.5 1354.8L700.5 1356.5L702.5 1354.2L704.5 1346L706.5 1334.1L708.5 1324.9L709.7 1324.9L710.5 1326.5L712.5 1335.2L714.5 1346.7L716.5 1356.1L718.5 1364.5L720.5 1371L722.5 1374.4L724.5 1376.5L726.5 1377.5L728.5 1378.5L730.5 1379.7L732.5 1380L734.5 1380.5L736.5 1381.1L738.5 1381.7L740.5 1382.5L742.5 1382.4L744.5 1381.2L746.5 1381.3L748.5 1381.7L750.5 1382.2L752.5 1381.9L754.5 1382.7L756.5 1383.1L758.5 1382.7L760.5 1381.9L762.5 1381.9L764.5 1381.9L766.5 1382.8L768.5 1382.9L770.5 1381.7L772.5 1381.8L774.5 1382.3L776.5 1382.6L778.5 1383.5L780.5 1383L782.5 1382.6L784.5 1382.4L786.5 1383.5L788.5 1383.3L790.5 1383.2L792.5 1382.4L794.5 1381L796.5 1380.8L798.5 1381.5L800.5 1382.4L802.5 1382.3L804.5 1382.6L806.5 1382.5L808.5 1382.4L810.5 1382.3L812.5 1381L814.5 1379.2L816.5 1378.8L818.5 1378.7L820.5 1377.1L822 1377.7L824.5 1378.6L826.5 1378.6L828.5 1379.4L830.5 1379.8L832.5 1381L834.5 1380.7L836.5 1380.4L838.5 1380.9L840.5 1380.9L842.5 1380.8L844.5 1380.9L846.5 1380.3L848.5 1379.6L850.5 1379.7L852.5 1378.2L854.5 1371.9L856.5 1360L858.5 1341.4L860.5 1327.2L862.5 1337.9L864.5 1357L866.5 1368.4L868.5 1374.4L870.5 1377.6L872.5 1380L874.5 1380L876.5 1379.6L878.5 1381.4L880.5 1382.7L882.5 1382.3L884.5 1380.6L886.5 1381.7L888.5 1382.8L890.5 1382.7L892.5 1381.7L894.5 1380.8L896.5 1381.3L898.5 1381.7L900.5 1382L902.5 1381.6L904.5 1380.7L906.5 1379.9L908.5 1378.2L910.5 1377.7L912.5 1378.5L914.5 1379.6L916.5 1380.3L918.5 1381.6L920.5 1381.7L922.5 1381.3L924.5 1381.6L926.5 1381.3L928.5 1381.1L930.5 1381.4L932.5 1382.9L934.5 1382.7L936.5 1381.6L938.5 1382.5L940.5 1382.5L942.5 1381.6L944.5 1381.7L946.5 1381.6L948.5 1379.1L950.5 1376.4L952.5 1373.2L954.5 1369.7L956.5 1369.9L958.5 1373L960.5 1377L962.5 1379.6L964.5 1379.9L966.5 1380.2L968.5 1381.4L970.5 1381.8L972.5 1382.3L974.5 1382.2L976.5 1382.1L978.5 1382.2L980.5 1382.1L982.5 1381.5L984.5 1381.9L986.5 1383.9L988.5 1384.9L990.5 1383.5L992.5 1381.7L994.5 1382.3L996.5 1382.7L998.5 1381.5L1000.5 1381.6L1002.5 1381.7L1004.5 1381.4L1006.5 1381.7L1008.5 1382.5L1010.5 1382L1012.5 1382.2L1014.5 1382.7L1016.5 1381.3L1018.5 1380.5L1020.5 1382L1022.5 1382.9L1024.5 1381.9L1026.5 1381L1028.5 1379.7L1030.5 1379.7L1032.5 1380.5L1034.5 1379.8L1036.5 1377.6L1038.5 1374.6L1040.5 1371.4L1042.5 1368.3L1044.5 1365.8L1046.5 1365.2L1048.5 1365.7L1050.5 1368.2L1052.5 1371.7L1054.5 1374.2L1056.5 1375.6L1058.5 1376.6L1060.5 1376.5L1062.5 1375.7L1064.5 1376.2L1066.5 1375.9L1068.5 1375.2L1070.5 1374.3L1072.5 1372.6L1074.5 1370.6L1076.5 1366L1078.5 1359.4L1080.5 1349.6L1082.5 1335.7L1084.5 1318.8L1086.5 1301.2L1088.5 1290.2L1090.5 1292.8L1092.5 1307.3L1094.5 1325.3L1096.5 1340.4L1098.5 1350.6L1100.5 1357.7L1102.5 1361.5L1104.5 1362.4L1106.5 1359.9L1108.5 1352.1L1110.5 1333.8L1112.5 1304L1114.5 1277.7L1116.5 1288.3L1118.5 1321.4L1120.5 1348.5L1122.5 1363.2L1124.5 1369.4L1126.5 1373.7L1128.5 1376.4L1130.5 1376.5L1132.5 1377.6L1134.5 1379.4L1136.5 1379.6L1138.5 1379.4L1140.5 1380.8L1142.5 1381.2L1144.5 1380.7L1146.5 1379.9L1148.5 1380.6L1150.5 1381.7L1152.5 1381.7L1154.5 1381.5L1156.5 1381.4L1158.5 1381.9L1160.5 1381.4L1162.5 1381.6L1164.5 1381.2L1166.5 1380.7L1168.5 1381.3L1170.5 1380.1L1172.5 1379.8L1174.5 1379.9L1176.5 1378.7L1178.5 1378.1L1180.5 1378.4L1182.5 1377.8L1184.5 1377L1186.5 1376.2L1188.5 1374.2L1190.5 1368.7L1192.5 1358.8L1194.5 1334.3L1196.5 1290.3L1198.5 1247.1L1200.5 1264.8L1202.5 1314.5L1204.5 1347.9L1206.5 1363.5L1208.5 1371.1L1210.5 1374.9L1212.5 1376L1214.5 1376.5L1216.5 1377.8L1218.5 1379.2L1220.5 1380.3L1222.5 1380.7L1224.5 1380.3L1226.5 1380.7L1228.5 1381L1230.5 1381.5L1232.5 1382.4L1234.5 1382.5L1236.5 1381.5L1238.5 1381L1240.5 1381L1242.5 1381.2L1244.5 1381.3L1246.5 1381.5L1248.5 1381.2L1250.5 1380.7L1252.5 1380.8L1254.5 1382L1256.5 1383.3L1258.5 1382.5L1260.5 1381.9L1262.5 1381.2L1264.5 1380.8L1266.5 1380.6L1268.5 1378.2L1270.5 1375.7L1272.5 1373.8L1274.5 1373L1275.6 1372.4L1276.5 1372.4L1278.5 1373.6L1280.5 1375.4L1282.5 1377.6L1284.5 1378.9L1286.5 1380.7L1288.5 1379.4L1290.5 1379.8L1292.5 1381.3L1294.5 1381.9L1296.5 1381.8L1298.5 1382L1300.5 1382.2L1302.5 1382.3L1304.5 1382.5L1306.5 1382.3L1308.5 1382L1310.5 1382.1L1312.5 1382.5L1314.5 1382.2L1316.5 1382.6L1318.5 1383.1L1320.5 1382.6L1322.5 1382.3L1324.5 1381.3L1326.5 1381L1328.5 1380.7L1330.5 1380L1332.5 1379.5L1334.5 1379L1336.5 1377.5L1337.5 1377L1338.5 1377.2L1340.5 1377.1L1342.5 1378.6L1344.5 1380.2L1346.5 1380.5L1348.5 1381L1350.5 1381.5L1352.5 1382.1L1354.5 1381.8L1356.5 1380.6L1358.5 1378.8L1360.5 1379.8L1362.5 1380.3L1364.5 1378.8L1366.5 1376.3L1368.5 1373.2L1370.5 1368.1L1372.4 1366L1374.5 1369.1L1376.5 1373.3L1378.5 1376.9L1380.5 1378.8L1382.5 1379.3L1384.5 1380.1L1386.5 1380.6L1388.5 1381L1390.5 1381.9L1392.5 1381.5L1394.5 1380.7L1396.5 1380.3L1398.5 1381.1L1400.5 1381.8L1402.5 1381.2L1404.5 1381L1406.5 1380L1408.5 1378L1410.5 1375.8L1412.5 1373.2L1414.5 1369.1L1416.5 1367.1L1417.2 1366.7L1418.5 1368.1L1420.5 1370.9L1422.5 1374.6L1424.5 1377.6L1426.5 1378.6L1428.5 1379.9L1430.5 1380.7L1432.5 1381.6L1434.5 1382.1L1436.5 1382L1438.5 1381.9L1440.5 1381.8L1442.5 1382.2L1444.5 1382L1446.5 1382.1L1448.5 1381.9L1450.5 1381.1L1452.5 1381.2L1454.5 1382.1L1456.5 1382.5L1458.5 1382.5L1460.5 1381.1L1462.5 1382.1L1464.5 1383L1466.5 1382.7L1468.5 1382.8L1470.5 1382.5L1472.5 1382.4L1474.5 1382.5L1476.5 1381.2L1478.5 1380.7L1480.5 1382.1L1482.5 1382.5L1484.5 1382.4L1486.5 1382.6L1488.5 1382.6L1490.5 1382.2L1492.5 1382.5L1494.5 1382.3L1496.5 1381.6L1498.5 1381.9L1500.5 1382.2L1502.5 1382L1504.5 1382.6L1506.5 1382.4L1508.5 1382.9L1510.5 1382.9L1512.5 1381.2L1514.5 1381.1L1516.5 1382.1L1518.5 1382.2L1520.5 1382.7L1522.5 1383.1L1524.5 1382.2L1526.5 1382.3L1528.5 1381.7L1530.5 1381.5L1532.5 1382L1534.5 1382.2L1536.5 1382.4L1538.5 1382.2L1540.5 1382.2L1542.5 1381.5L1544.5 1380.2L1546.5 1380.4L1548.5 1380.8L1550.5 1380.9L1552.5 1380L1554.5 1379.9L1556.5 1379.2L1558.5 1378.1L1560.5 1378.4L1562.5 1378.2L1564.5 1376.9L1566.5 1375.8L1568.5 1373.4L1570.5 1370L1572.5 1365.5L1574.5 1360.6L1576.5 1355.3L1578.5 1349.2L1580.5 1344.5L1582 1344L1584.5 1347.5L1586.5 1353.1L1588.5 1358.5L1590.5 1363.1L1592.5 1367.7L1594.5 1370.4L1596.5 1373.2L1598.5 1375.7L1600.5 1378.3L1602.5 1379.1L1604.5 1379.2L1606.5 1379.5L1608.5 1380.5L1610.5 1380.5L1612.5 1381L1614.5 1381.5L1616.5 1381.1L1618.5 1380.9L1620.5 1380.2L1622.5 1380.8L1624.5 1380.5L1626.5 1381.4L1628.5 1381.9L1630.5 1382.5L1632.5 1382.7L1634.5 1380.8L1636.5 1381.4L1638.5 1381.8L1640.5 1382.3L1642.5 1382.3L1644.5 1381.9L1646.5 1381.5L1648.5 1381.5L1650.5 1381.7L1652.5 1381.4L1654.5 1382.2L1656.5 1382L1658.5 1381.9L1660.5 1381.5L1662.5 1382L1664.5 1382.2L1666.5 1382.8L1668.5 1382.9L1670.5 1382.1L1672.5 1382.1L1674.5 1382.6L1676.5 1382.8L1678.5 1381.7L1680.5 1382.2L1682.5 1381.9L1684.5 1381.2L1686.5 1381.4L1688.5 1381.8L1690.5 1382.4L1692.5 1381.9L1694.5 1382.3L1696.5 1382L1698.5 1381.9L1700.5 1380.8L1702.5 1381L1704.5 1381.4L1706.5 1380.7L1708.5 1380.2L1710.5 1381L1712.5 1381.3L1714.5 1380.5L1716.5 1379.9L1718.5 1379.7L1720.5 1379.4L1722.5 1380.2L1724.5 1380.5L1726.5 1380L1728.5 1381.3L1730.5 1381.8L1732.5 1381.8L1734.5 1382.4L1736.5 1383.1L1738.5 1383.6L1740.5 1383.2L1742.5 1382.3L1744.5 1382.3L1746.5 1381.3L1748.5 1382.2L1750.5 1382.7L1752.5 1382.5L1754.5 1381.9L1756.5 1382.9L1758.5 1383L1760.5 1381.9L1762.5 1381L1764.5 1381.5L1766.5 1380.9L1768.5 1380.4L1770.5 1381.4L1772.5 1382.6L1774.5 1381.1L1776.5 1381L1778.5 1381.6L1780.5 1381.6L1782.5 1380.4L1784.5 1380.2L1786.5 1380.8L1788.5 1380.5L1790.5 1379.8L1792.5 1378L1794.5 1377.6L1796 1378L1798.5 1377.7L1800.5 1377.5L1802.5 1377.9L1804.5 1377.4L1806.5 1377.8L1808.5 1378.6L1810.5 1377.9L1812.5 1375.7L1814.5 1370.9L1816.5 1360L1818.5 1343.3L1820.5 1330L1822.5 1339.7L1824.5 1356.8L1826.5 1367.4L1828.5 1373.1L1830.5 1376.8L1832.5 1377.8L1834.5 1377.2L1836.5 1378.1L1838.5 1379.2L1840.5 1379L1842.5 1377.7L1844.5 1377.2L1846.5 1376.8L1848.5 1375.1L1850.5 1373.6L1852.5 1373L1854.5 1372.3L1856.5 1369.8L1858.5 1365.6L1860.5 1360.1L1862.5 1354.4L1864.5 1349.5L1866.5 1345L1868.5 1341L1870.5 1338L1872.5 1338.5L1874.5 1340.9L1876.5 1345.9L1878.5 1352.4L1880.5 1357.5L1882.5 1361.7L1884.5 1365.3L1886.5 1369.4L1888.5 1371.1L1890.5 1373L1892.5 1373.9L1894.5 1375.5L1896.5 1377.1L1898.5 1377.1L1900.5 1377.1L1902.5 1377.4L1904.5 1377.2L1906.5 1376.5L1908.5 1374.6L1910.5 1374.3L1912.5 1372.4L1914.5 1370L1916.5 1368.9L1918.5 1367.3L1920.5 1365.8L1922.3 1365.4L1924.5 1364.9L1926.5 1366L1928.5 1369L1930.5 1372.3L1932.5 1374.1L1934.5 1375.2L1936.5 1376.1L1938.5 1377.7L1940.5 1379L1942.5 1378.8L1944.5 1379.1L1946.5 1380.1L1948.5 1380.7L1950.5 1380.9L1952.5 1381.5L1954.5 1380.9L1956.5 1379.8L1958.5 1379.6L1960.5 1381.2L1962.5 1381.3L1964.5 1381.5L1966.5 1381.9L1968.5 1382.5L1970.5 1382.5L1972.5 1382.3L1974.5 1381.8L1976.5 1381.5L1978.5 1381.5L1980.5 1381.2L1982.5 1381.9L1984.5 1382.5L1986.5 1382.3L1988.5 1381.7L1990.5 1380.9L1992.5 1380.7L1994.5 1380.9L1996.5 1381.4L1998.5 1382L2000.5 1382.2L2002.5 1382.4L2004.5 1382.2L2006.5 1381.2L2008.5 1381.4L2010.5 1382L2012.5 1381.9L2014.5 1380.9L2016.5 1380.7L2018.5 1381.3L2020.5 1381L2022.5 1380.2L2024 1379.5L2026.5 1379.4L2028.5 1380.3L2030.5 1381.1L2032.5 1381.7L2034.5 1382.1L2036.5 1382.1L2038.5 1382.4L2040.5 1381.9L2042.5 1381.9L2044.5 1381.5L2046.5 1380.4L2048.5 1380.5L2050.5 1381.2L2052.5 1381.9L2054.5 1382.4L2056.5 1382.7L2058.5 1382.1L2060.5 1381.8L2062.5 1381.7L2064.5 1381.2L2066.5 1381.3L2068.5 1381.2L2070.5 1381.5L2072.5 1381.4L2074.5 1381.9L2076.5 1383.3L2078.5 1383.6L2080.5 1383.8L2082.5 1382.5L2084.5 1381.7L2086.5 1381.3L2088.5 1381.3L2090.5 1380.8L2092.5 1381.4L2094.5 1381.2L2096.5 1380.4L2098.5 1380.1L2100.5 1380.7L2102.5 1381.2L2104.5 1381.3L2106.5 1380.8L2108.5 1381.5L2110.5 1382.5L2112.5 1383.4L2114.5 1382.8L2116.5 1382.4L2118.5 1381.7L2120.5 1381.6L2122.5 1381.3L2124.5 1381.3L2126.5 1382L2128.5 1382.2L2130.5 1382.8L2132.5 1382.3L2134.5 1381.9L2136.5 1381L2138.5 1381.2L2140.5 1382L2142.5 1381.9L2144.5 1382.4L2146.5 1381.5L2148.5 1381.6L2150.5 1382.5L2152.5 1381.2L2154.5 1381.4L2156.5 1382.2L2158.5 1382.1L2160.5 1381.1" fill="none" stroke="#505050" stroke-width="10.5" stroke-linejoin="round" stroke-linecap="butt"/>
<path d="M710.5 792.5 L715 791.5 L718 790.5 L720.5 792.5 L715 794.5 L710.5 795.8 Z" fill="#000"/>
<text transform="translate(290.5 398) rotate(-90) scale(0.9987 1)" font-size="41" font-weight="bold" fill="#000" font-family="'Liberation Sans', Arial, sans-serif">O (101)</text>
<text transform="translate(414.6 407.7) rotate(-90) scale(1.0216 1)" font-size="41" font-weight="bold" fill="#000" font-family="'Liberation Sans', Arial, sans-serif">O (111)</text>
<text transform="translate(507 150) rotate(-90) scale(1.0102 1)" font-size="41" font-weight="bold" fill="#000" font-family="'Liberation Sans', Arial, sans-serif">A(101)</text>
<text transform="translate(549.9 343.6) rotate(-90) scale(1.0492 1)" font-size="41" font-weight="bold" fill="#FF0000" font-family="'Liberation Sans', Arial, sans-serif">P (111)</text>
<text transform="translate(588 404.4) rotate(-90) scale(1.0113 1)" font-size="41" font-weight="bold" fill="#000" font-family="'Liberation Sans', Arial, sans-serif">O (021)</text>
<text transform="translate(635.8 390.1) rotate(-90) scale(0.9876 1)" font-size="41" font-weight="bold" fill="#000" font-family="'Liberation Sans', Arial, sans-serif">O (210)</text>
<text transform="translate(712.5 389.8) rotate(-90) scale(0.9788 1)" font-size="41" font-weight="bold" fill="#000" font-family="'Liberation Sans', Arial, sans-serif">O (121)</text>
<text transform="translate(748.3 387.3) rotate(-90) scale(0.9668 1)" font-size="41" font-weight="bold" fill="#FF0000" font-family="'Liberation Sans', Arial, sans-serif">P (200)</text>
<text transform="translate(841 401.9) rotate(-90) scale(0.9991 1)" font-size="41" font-weight="bold" fill="#000" font-family="'Liberation Sans', Arial, sans-serif">O (211)</text>
<text transform="translate(890 398.4) rotate(-90) scale(1.0083 1)" font-size="41" font-weight="bold" fill="#000" font-family="'Liberation Sans', Arial, sans-serif">O (002)</text>
<text transform="translate(970.6 407.9) rotate(-90) scale(0.9872 1)" font-size="44" font-weight="bold" fill="#000" font-family="'Liberation Sans', Arial, sans-serif">Ti(100)</text>
<text transform="translate(1068.7 392.6) rotate(-90) scale(1.0074 1)" font-size="41" font-weight="bold" fill="#000" font-family="'Liberation Sans', Arial, sans-serif">A (103)</text>
<text transform="translate(1116 312) rotate(-90) scale(0.9930 1)" font-size="41" font-weight="bold" fill="#000" font-family="'Liberation Sans', Arial, sans-serif">A (004)</text>
<text transform="translate(1156.2 331.3) rotate(-90) scale(1.0110 1)" font-size="41" font-weight="bold" fill="#000" font-family="'Liberation Sans', Arial, sans-serif">A (112)</text>
<text transform="translate(1222.7 302.8) rotate(-90) scale(0.9995 1)" font-size="44" font-weight="bold" fill="#000" font-family="'Liberation Sans', Arial, sans-serif">Ti(101)</text>
<text transform="translate(1368.3 405.4) rotate(-90) scale(0.9948 1)" font-size="41" font-weight="bold" fill="#FF0000" font-family="'Liberation Sans', Arial, sans-serif">P (220)</text>
<text transform="translate(1409.6 394) rotate(-90) scale(0.9928 1)" font-size="41" font-weight="bold" fill="#000" font-family="'Liberation Sans', Arial, sans-serif">O (212)</text>
<text transform="translate(1446.9 394) rotate(-90) scale(0.9633 1)" font-size="41" font-weight="bold" fill="#000" font-family="'Liberation Sans', Arial, sans-serif">O (140)</text>
<text transform="translate(1612.4 370.6) rotate(-90) scale(1.0036 1)" font-size="41" font-weight="bold" fill="#000" font-family="'Liberation Sans', Arial, sans-serif">A (200)</text>
<text transform="translate(1761.3 397.3) rotate(-90) scale(1.0132 1)" font-size="41" font-weight="bold" fill="#FF0000" font-family="'Liberation Sans', Arial, sans-serif">P (311)</text>
<text transform="translate(1852.9 372.4) rotate(-90) scale(1.0247 1)" font-size="45" font-weight="bold" fill="#000" font-family="'Liberation Sans', Arial, sans-serif">Ti(102)</text>
<text transform="translate(1892.8 368.8) rotate(-90) scale(0.9996 1)" font-size="41.5" font-weight="bold" fill="#000" font-family="'Liberation Sans', Arial, sans-serif">A (105)</text>
<text transform="translate(1948.9 387.2) rotate(-90) scale(1.0198 1)" font-size="41.5" font-weight="bold" fill="#000" font-family="'Liberation Sans', Arial, sans-serif">A (211)</text>
<text transform="translate(279.2 182) scale(1.0576 1)" font-size="72" font-weight="bold" fill="#000" font-family="'Liberation Sans', Arial, sans-serif">(a)</text>
<text transform="translate(1926.1 71.6) scale(1.0107 1)" font-size="43.7" font-weight="bold" fill="#000" font-family="'Liberation Sans', Arial, sans-serif">A: anatase</text>
<text transform="translate(1926.7 158.6) scale(1.0186 1)" font-size="43.7" font-weight="bold" fill="#000" font-family="'Liberation Sans', Arial, sans-serif">P : PbS</text>
<text transform="translate(1926.6 244.8) scale(1.0164 1)" font-size="43.7" font-weight="bold" fill="#000" font-family="'Liberation Sans', Arial, sans-serif">O : PbSO</text>
<text transform="translate(2121.2 256.5) scale(0.9805 1)" font-size="31" font-weight="bold" fill="#000" font-family="'Liberation Sans', Arial, sans-serif">4</text>
<text x="1730.9" y="499.8" font-size="60" font-weight="bold" fill="#F0882C" font-family="'Liberation Sans', Arial, sans-serif">P</text>
<text transform="translate(1772.8 522.4) scale(1.0601 1)" font-size="60" font-weight="bold" fill="#F0882C" font-family="'Liberation Sans', Arial, sans-serif">He</text>
<text transform="translate(1870.1 499.8) scale(1.0774 1)" font-size="60" font-weight="bold" fill="#F0882C" font-family="'Liberation Sans', Arial, sans-serif">= 40 mTorr</text>
<text transform="translate(1846.4 684.2) scale(1.0321 1)" font-size="62" font-weight="bold" fill="#9900CC" font-family="'Liberation Sans', Arial, sans-serif">300 mTorr</text>
<text transform="translate(1860.8 914.2) scale(1.0419 1)" font-size="62" font-weight="bold" fill="#008000" font-family="'Liberation Sans', Arial, sans-serif">200 mTorr</text>
<text transform="translate(1860.8 1104.4) scale(1.0420 1)" font-size="62" font-weight="bold" fill="#0000F0" font-family="'Liberation Sans', Arial, sans-serif">100 mTorr</text>
<text transform="translate(1880.7 1185) scale(1.0415 1)" font-size="62" font-weight="bold" fill="#FF0000" font-family="'Liberation Sans', Arial, sans-serif">50 mTorr</text>
<text transform="translate(1945.7 1346.7) scale(1.0068 1)" font-size="60" font-weight="bold" fill="#000" font-family="'Liberation Sans', Arial, sans-serif">vaccum</text>
<text transform="translate(269.2 1291.6) scale(1.0238 1)" font-size="42" font-weight="bold" fill="#000" font-family="'Liberation Sans', Arial, sans-serif">O (120)</text>
<text transform="translate(1255.6 1305.8) scale(1.0295 1)" font-size="40" font-weight="bold" fill="#000" font-family="'Liberation Sans', Arial, sans-serif">O (122)</text>
<path d="M404.4 1289 Q409 1298 414.5 1311" fill="none" stroke="#000" stroke-width="6"/>
<polygon points="437.2,1354.6 406.3,1316.5 428.8,1306.2" fill="#000"/>
<line x1="1317.4" y1="1310" x2="1301" y2="1335" stroke="#000" stroke-width="6.5"/>
<polygon points="1275,1375.1 1291,1328.2 1311.7,1341.5" fill="#000"/>
<text transform="translate(133.1 941.5) rotate(-90) scale(0.9827 1)" font-size="75" font-weight="bold" fill="#000" font-family="'Liberation Sans', Arial, sans-serif">Intensity (a.u)</text>
<text transform="translate(992.4 1638.8) scale(0.9719 1)" font-size="87" font-weight="bold" fill="#000" font-family="'Liberation Sans', Arial, sans-serif">2</text>
<text transform="translate(1037.4 1639.7) scale(1.1404 1)" font-size="90.5" font-weight="normal" fill="#000" font-family="'Liberation Serif', serif">&#952;</text>
<text transform="translate(1111.1 1638.8) scale(1.0114 1)" font-size="87" font-weight="bold" fill="#000" font-family="'Liberation Sans', Arial, sans-serif">(deg)</text>
<path d="M222.5 20V1463M219 25.45H2165M2161.5 20.5V1440.5" fill="none" stroke="#000" stroke-width="7"/>
<path d="M219 1437H2165" fill="none" stroke="#000" stroke-width="7.6"/>
<path d="M222.5 1437V1463M271 1437V1450M319.4 1437V1450M367.9 1437V1450M416.4 1437V1450M464.9 1437V1463M513.4 1437V1450M561.8 1437V1450M610.3 1437V1450M658.8 1437V1450M707.2 1437V1463M755.7 1437V1450M804.2 1437V1450M852.7 1437V1450M901.1 1437V1450M949.6 1437V1463M998.1 1437V1450M1046.6 1437V1450M1095 1437V1450M1143.5 1437V1450M1192 1437V1463M1240.5 1437V1450M1289 1437V1450M1337.4 1437V1450M1385.9 1437V1450M1434.4 1437V1463M1482.8 1437V1450M1531.3 1437V1450M1579.8 1437V1450M1628.3 1437V1450M1676.8 1437V1463M1725.2 1437V1450M1773.7 1437V1450M1822.2 1437V1450M1870.7 1437V1450M1919.1 1437V1463M1967.6 1437V1450M2016.1 1437V1450M2064.6 1437V1450M2113 1437V1450M2161.5 1437V1463" stroke="#000" stroke-width="7"/>
<text transform="translate(179 1539.6) scale(1.0041 1)" font-size="77" font-weight="normal" fill="#000" font-family="'Liberation Sans', Arial, sans-serif">20</text>
<text transform="translate(421.4 1539.6) scale(1.0073 1)" font-size="77" font-weight="normal" fill="#000" font-family="'Liberation Sans', Arial, sans-serif">25</text>
<text transform="translate(664.8 1539.6) scale(0.9915 1)" font-size="77" font-weight="normal" fill="#000" font-family="'Liberation Sans', Arial, sans-serif">30</text>
<text transform="translate(907.2 1539.6) scale(0.9947 1)" font-size="77" font-weight="normal" fill="#000" font-family="'Liberation Sans', Arial, sans-serif">35</text>
<text transform="translate(1150.7 1539.6) scale(0.9778 1)" font-size="77" font-weight="normal" fill="#000" font-family="'Liberation Sans', Arial, sans-serif">40</text>
<text transform="translate(1393.1 1539.6) scale(0.9808 1)" font-size="77" font-weight="normal" fill="#000" font-family="'Liberation Sans', Arial, sans-serif">45</text>
<text transform="translate(1634 1539.6) scale(0.9947 1)" font-size="77" font-weight="normal" fill="#000" font-family="'Liberation Sans', Arial, sans-serif">50</text>
<text x="1876.4" y="1539.6" font-size="77" font-weight="normal" fill="#000" font-family="'Liberation Sans', Arial, sans-serif">55</text>
<text transform="translate(2118 1539.6) scale(1.0041 1)" font-size="77" font-weight="normal" fill="#000" font-family="'Liberation Sans', Arial, sans-serif">60</text>
<path d="M190.6 1862.3L193.1 1867.9L195.6 1872.3L198.1 1874.8L200.6 1876.3L203.1 1877.7L205.6 1879.4L208.1 1880.5L210.6 1881.3L213.1 1881.5L215.6 1883.3L218.1 1883.7L220.6 1884L223.1 1883.9L225.6 1883.9L228.1 1884.3L230.6 1884.2L233.1 1883.3L235.6 1882.7L238.1 1882.2L240.6 1880.5L243.1 1879.4L245.6 1879.1L248.1 1877.6L250.6 1875.9L253.1 1875.2L255.6 1874.4L258.1 1872.9L260.6 1871.6L263.1 1871L265.6 1869.7L268.1 1867.2L270.6 1864.8L273.1 1863.3L275.6 1861.4L278.1 1859L280.6 1857.5L283.1 1855.9L285.6 1853.2L288.1 1850.7L290.6 1849.1L293.1 1847.6L295.6 1846.1L298.1 1844.1L300.6 1843.7L303.1 1843.8L305.6 1844.3L308.1 1846.2L310.6 1847.7L313.1 1848.9L315.6 1851.3L318.1 1852.9L320.6 1855.2L323.1 1858.9L325.6 1863.3L328.1 1867.5L330.6 1873L333.1 1877.2L335.6 1879.6L338.1 1882.7L340.6 1885.4L343.1 1888L345.6 1889.8L348.1 1892L350.6 1894L353.1 1895.5L355.6 1897.7L358.1 1899.2L360.6 1900.6L363.1 1901.6L365.6 1903.2L368.1 1903.9L370.6 1904.2L373.1 1905.2L375.6 1906.4L378.1 1906.7L380.6 1906L383.1 1907.1L385.6 1907.8L388.1 1907.7L390.6 1908L393.1 1909L395.6 1908.8L398.1 1909.9L400.6 1910.4L403.1 1909.5L405.6 1909.8L408.1 1910L410.6 1911.2L413.1 1912.6L415.6 1912.5L418.1 1910.9L420.6 1911.2L423.1 1912.4L425.6 1912.9L428.1 1912.2L430.6 1911.5L433.1 1911.8L435.6 1911.7L438.1 1911.4L440.6 1911.2L443.1 1911.7L445.6 1911.7L448.1 1911.3L450.6 1910.9L453.1 1910.3L455.6 1910.8L458.1 1911.4L460.6 1910.6L463.1 1910.1L465.6 1911.1L468.1 1911.3L470.6 1911.4L473.1 1910.3L475.6 1908.9L478.1 1908.2L480.6 1909L483.1 1908.7L485.6 1906.1L488.1 1904.8L490.6 1904.4L493.1 1903.1L495.6 1902.5L498.1 1902L500.6 1901.7L503.1 1901.5L505.6 1900.5L508.1 1900L510.6 1899L513.1 1898.3L515.6 1897.1L518.1 1897.5L520.6 1899.1L523.1 1899.7L525.6 1900.9L528.1 1902.1L530.6 1903.2L533.1 1903.8L535.6 1904.3L538.1 1904.3L540.6 1904.5L543.1 1905.2L545.6 1906L548.1 1906.7L550.6 1907.9L553.1 1909.4L555.6 1910.5L558.1 1910.9L560.6 1911.1L563.1 1912.6L565.6 1913.9L568.1 1914.7L570.6 1914.5L573.1 1913.8L575.6 1914.1L578.1 1915.5L580.6 1915.6L583.1 1916.1L585.6 1916L588.1 1914.7L590.6 1914.9L593.1 1915.2L595.6 1915.3L598.1 1915.4L600.6 1915.2L603.1 1914.8L605.6 1914.2L608.1 1914.6L610.6 1914.7L613.1 1915.1L615.6 1915.2L618.1 1915.8L620.6 1916L623.1 1915.8L625.6 1915.7L628.1 1915.5L630.6 1915.3L633.1 1915.3L635.6 1915.4L638.1 1915.8L640.6 1915.9L643.1 1915.8L645.6 1915.3L648.1 1915.8L650.6 1915.4L653.1 1915.2L655.6 1915.4L658.1 1915.5L660.6 1915.8L663.1 1915.4L665.6 1915L668.1 1915.5L670.6 1916.5L673.1 1916L675.6 1915.3L678.1 1915.4L680.6 1915.4L683.1 1916.4L685.6 1915.6L688.1 1916.1L690.6 1916.1L693.1 1915.4L695.6 1916.1L698.1 1916.7L700.6 1916.5L703.1 1916.4L705.6 1916.6L708.1 1916.3L710.6 1916.1L713.1 1916L715.6 1916L718.1 1915.5L720.6 1915.8L723.1 1915.2L725.6 1914.8L728.1 1915.7L730.6 1916.5L733.1 1915.9L735.6 1915.1L738.1 1915.1L740.6 1914.6L743.1 1914.4L745.6 1913.9L748.1 1912.9L750.6 1913.4L753.1 1913.1L755.6 1912.7L758.1 1912.1L760.6 1911.8L763.1 1912.2L765.6 1913.3L768.1 1913.5L770.6 1912.7L773.1 1912.4L775.6 1911.3L778.1 1910.2L780.6 1910.8L783.1 1910.9L785.6 1910.2L788.1 1909.8L790.6 1908.7L793.1 1906.6L795.6 1904.8L798.1 1904L800.6 1902.9L803.1 1901.9L805.6 1901.7L808.1 1901.3L810.6 1900.2L813.1 1900.6L815.6 1901.3L818.1 1902L820.6 1902.7L823.1 1903.2L825.6 1904.9L828.1 1906.7L830.6 1907.1L833.1 1907.3L835.6 1908.7L838.1 1910L840.6 1910.4L843.1 1911.1L845.6 1912.4L848.1 1912.4L850.6 1913.4L853.1 1913.7L855.6 1913.6L858.1 1914.6L860.6 1914.4L863.1 1913.8L865.6 1914.4L868.1 1913.9L870.6 1913.2L873.1 1913.9L875.6 1914.8L878.1 1915.2L880.6 1915.1L883.1 1915.1L885.6 1915.3L888.1 1915.3L890.6 1915.8L893.1 1915.6L895.6 1915.6L898.1 1915.6L900.6 1914.9L903.1 1915.2L905.6 1916.4L908.1 1916.1L910.6 1915.7L913.1 1915.9L915.6 1915.7L918.1 1915.9L920.6 1915.7L923.1 1915.8L925.6 1915.6L928.1 1916.5L930.6 1915.9L933.1 1915.3L935.6 1915.8L938.1 1916.2L940.6 1916.3L943.1 1916L945.6 1917.3L948.1 1918.5L950.6 1916.8L953.1 1916.7L955.6 1916.7L958.1 1916.5L960.6 1915.7L963.1 1916L965.6 1917L968.1 1917.4L970.6 1917.9L973.1 1917.1L975.6 1917.7L978.1 1918.8L980.6 1917.2L983.1 1916.7L985.6 1917.1L988.1 1917.5L990.6 1917.9L993.1 1917.6L995.6 1917.2L998.1 1918.1L1000.6 1919.4L1003.1 1918.3L1005.6 1916.3L1008.1 1916.9L1010.6 1917.3L1013.1 1917.9L1015.6 1918.2L1018.1 1919.1L1020.6 1919L1023.1 1918.6L1025.6 1918.2L1028.1 1918L1030.6 1918.4L1033.1 1918.9L1035.6 1918.5L1038.1 1918.2L1040.6 1918.8L1043.1 1918.4L1045.6 1918L1048.1 1917.6L1050.6 1917.5L1053.1 1917.1L1055.6 1916.7L1058.1 1918.3L1060.6 1918.7L1063.1 1918.5L1065.6 1918.9L1068.1 1918.8L1070.6 1918.1L1073.1 1917L1075.6 1917.8L1078.1 1919L1080.6 1919.8L1083.1 1920.1L1085.6 1919.4L1088.1 1917.6L1090.6 1917.1L1093.1 1918.3L1095.6 1918.8L1098.1 1919L1100.6 1918.7L1103.1 1918.3L1105.6 1917.8L1108.1 1918.4L1110.6 1918.5L1113.1 1918.8L1115.6 1918.9L1118.1 1918.7L1120.6 1918.8L1123.1 1918.8L1125.6 1919.1L1128.1 1918.9L1130.6 1918.3L1133.1 1918.5L1135.6 1919.5L1138.1 1919.1L1140.6 1919.3L1143.1 1919L1145.6 1918.3L1148.1 1918.1L1150.6 1918.6L1153.1 1918.9L1155.6 1918.8L1158.1 1918L1160.6 1918.1L1163.1 1918.8L1165.6 1919.1L1168.1 1917.8L1170.6 1918.4L1173.1 1918.5L1175.6 1918.7L1178.1 1918.6L1180.6 1919.1L1183.1 1919.7L1185.6 1919.3L1188.1 1919.1L1190.6 1918.9L1193.1 1918.5L1195.6 1918.8L1198.1 1918.5L1200.6 1918.2L1203.1 1918.4L1205.6 1918.7L1208.1 1919L1210.6 1918.7L1213.1 1918.6L1215.6 1919.5L1218.1 1919.7L1220.6 1919.6L1223.1 1919.1L1225.6 1918.5L1228.1 1918.2L1230.6 1918.4L1233.1 1918.9L1235.6 1918.3L1238.1 1917.5L1240.6 1917.6L1243.1 1917.4L1245.6 1917.7L1248.1 1917.2L1250.6 1917.1L1253.1 1917.7L1255.6 1917.5L1258.1 1917.1L1260.6 1918.3L1263.1 1918.8L1265.6 1917.6L1268.1 1918.2L1270.6 1917.3L1273.1 1916.9L1275.6 1916.8L1278.1 1916.6L1280.6 1917.7L1283.1 1917.4L1285.6 1916.6L1288.1 1916.2L1290.6 1915.8L1293.1 1916.3L1295.6 1916.6L1298.1 1915.5L1300.6 1915.8L1303.1 1916.4L1305.6 1917L1308.1 1916.8L1310.6 1915.7L1313.1 1915.3L1315.6 1915.6L1318.1 1915.3L1320.6 1915.3L1323.1 1916.1L1325.6 1916.3L1328.1 1915.4L1330.6 1914.8L1333.1 1914.5L1335.6 1913.5L1338.1 1913.7L1340.6 1914L1343.1 1915.2L1345.6 1914.6L1348.1 1913.6L1350.6 1912.5L1353.1 1911.4L1355.6 1912.5L1358.1 1912.6L1360.6 1911.2L1363.1 1910.9L1365.6 1910.1L1368.1 1908.6L1370.6 1908.9L1373.1 1908.6L1375.6 1907.1L1378.1 1905.4L1380.6 1903.4L1383.1 1900.3L1385.6 1898.6L1388.1 1896.8L1390.6 1894.3L1393.1 1893.6L1395.6 1892.5L1398.1 1891.5L1400.6 1892L1403.1 1892L1405.6 1892.3L1408.1 1892.1L1410.6 1892.9L1413.1 1893L1415.6 1893.7L1418.1 1894.1L1420.6 1895.1L1423.1 1896.5L1425.6 1897L1428.1 1897.4L1430.6 1898.6L1433.1 1901.2L1435.6 1902.8L1438.1 1903.8L1440.6 1905.2L1443.1 1905.9L1445.6 1906.9L1448.1 1908.2L1450.6 1909.4L1453.1 1909.6L1455.6 1909.2L1458.1 1909.5L1460.6 1909.2L1463.1 1908.4L1465.6 1907.8L1468.1 1906.4L1470.6 1905.4L1473.1 1904.7L1475.6 1903.7L1478.1 1902.7L1480.6 1901.2L1483.1 1900.5L1485.6 1898.3L1488.1 1896.3L1490.6 1894.3L1493.1 1893.5L1495.6 1892.6L1498.1 1891L1500.6 1889.1L1503.1 1886.5L1505.6 1885.2L1508.1 1884.2L1510.6 1883.2L1513.1 1883.1L1515.6 1882.2L1518.1 1881.7L1520.6 1881.6L1523.1 1881.1L1525.6 1881.3L1528.1 1882.1L1530.6 1883.5L1533.1 1884.5L1535.6 1885.5L1538.1 1886.2L1540.6 1885.9L1543.1 1886.9L1545.6 1888L1548.1 1888.6L1550.6 1890.4L1553.1 1892.9L1555.6 1894.7L1558.1 1896.1L1560.6 1897L1563.1 1898.3L1565.6 1900.1L1568.1 1901L1570.6 1902.4L1573.1 1903.9L1575.6 1904.1L1578.1 1904.8L1580.6 1906.3L1583.1 1907.7L1585.6 1908.6L1588.1 1909.3L1590.6 1909.8L1593.1 1909.6L1595.6 1910.4L1598.1 1911.4L1600.6 1911.5L1603.1 1911.7L1605.6 1912.3L1608.1 1913.2L1610.6 1914L1613.1 1914.3L1615.6 1915.5L1618.1 1916.4L1620.6 1916.1L1623.1 1916.4L1625.6 1915.8L1628.1 1915L1630.6 1915.1L1633.1 1915.2L1635.6 1915.8L1638.1 1915.5L1640.6 1916.4L1643.1 1916L1645.6 1915L1648.1 1916.2L1650.6 1916.8L1653.1 1916L1655.6 1916L1658.1 1915.2L1660.6 1915.4L1663.1 1915.2L1665.6 1915.6L1668.1 1914.6L1670.6 1914.3L1673.1 1916.2L1675.6 1917.4L1678.1 1916.5L1680.6 1916.6L1683.1 1916.4L1685.6 1916.2L1688.1 1916.9L1690.6 1917.1L1693.1 1916L1695.6 1916.5L1698.1 1916.4L1700.6 1916L1703.1 1917.4L1705.6 1917.6L1708.1 1916.6L1710.6 1917.3L1713.1 1916.8L1715.6 1916.7L1718.1 1917.4L1720.6 1917L1723.1 1917.1L1725.6 1917.8L1728.1 1917.8L1730.6 1917.1L1733.1 1915.7L1735.6 1915.7L1738.1 1916.8L1740.6 1916.4L1743.1 1916.4L1745.6 1916.1L1748.1 1916.1L1750.6 1916.3L1753.1 1917.2L1755.6 1916.5L1758.1 1916.5L1760.6 1916.9L1763.1 1917.2L1765.6 1916.3L1768.1 1916.5L1770.6 1916.8L1773.1 1917.2L1775.6 1917.2L1778.1 1916.8L1780.6 1916.9L1783.1 1916.9L1785.6 1917.1L1788.1 1916.9L1790.6 1916.6L1793.1 1916.9L1795.6 1917.7L1798.1 1918.3L1800.6 1917.3L1803.1 1917.4L1805.6 1917.5L1808.1 1915.8L1810.6 1915.4L1813.1 1916L1815.6 1917.3L1818.1 1918.6L1820.6 1918.1L1823.1 1917.9L1825.6 1916.8L1828.1 1915.3L1830.6 1915.6L1833.1 1917.3L1835.6 1917.2L1838.1 1916.7L1840.6 1917.3L1843.1 1916.8L1845.6 1917.9L1848.1 1918.1L1850.6 1916.9L1853.1 1916.7L1855.6 1917.3L1858.1 1917L1860.6 1917.4L1863.1 1917L1865.6 1917.6L1868.1 1917.5L1870.6 1917L1873.1 1916.8L1875.6 1916.9L1878.1 1916.3L1880.6 1916.8L1883.1 1917.2L1885.6 1917.5L1888.1 1917.2L1890.6 1918.1L1893.1 1917.4L1895.6 1917L1898.1 1918.3L1900.6 1918.6L1903.1 1917.5L1905.6 1916.9L1908.1 1917.2L1910.6 1917L1913.1 1917.5L1915.6 1918.4L1918.1 1918.1L1920.6 1917.8L1923.1 1917.8L1925.6 1917.8L1928.1 1918.2L1930.6 1918.1L1933.1 1917.6L1935.6 1918.1L1938.1 1919L1940.6 1918.3L1943.1 1918L1945.6 1918.7L1948.1 1917.8L1950.6 1917.1L1953.1 1917.6L1955.6 1917.1L1958.1 1917.2L1960.6 1917.7L1963.1 1917.5L1965.6 1917.1L1968.1 1917.1L1970.6 1917.4L1973.1 1918L1975.6 1917.4L1978.1 1917.6L1980.6 1918.6L1983.1 1918.1L1985.6 1918.7L1988.1 1918.7L1990.6 1917.6L1993.1 1917L1995.6 1917.8L1998.1 1918.3L2000.6 1918.4L2003.1 1918.2L2005.6 1918.7L2008.1 1918.5L2010.6 1917.7L2013.1 1918.4L2015.6 1918L2018.1 1917.4L2020.6 1917.8L2023.1 1918.9L2025.6 1918.3L2028.1 1916.9L2030.6 1917.4L2033.1 1917.6L2035.6 1917.5L2038.1 1917.1L2040.6 1917L2043.1 1917.7L2045.6 1917.3L2048.1 1917.2L2050.6 1917.2L2053.1 1917.4L2055.6 1918.1L2058.1 1918L2060.6 1917.3L2063.1 1917L2065.6 1917.5L2068.1 1918.2L2070.6 1918.1L2073.1 1917.9L2075.6 1917.6L2078.1 1917.6L2080.6 1917.5L2083.1 1917.1L2085.6 1918.2L2088.1 1917.5L2090.6 1917.6L2093.1 1918.5L2095.6 1918.2L2098.1 1917.7L2100.6 1917.1L2103.1 1916.8L2105.6 1917.8L2108.1 1918.3L2110.6 1917.8L2113.1 1918.2L2115.6 1917.3L2118.1 1917.3L2120.6 1917.9L2123.1 1918L2125.6 1918L2128.1 1917.3L2130.6 1916.7L2133.1 1916.3L2135.6 1916.5L2138.1 1916.6L2140.6 1916.8L2143.1 1917.5L2145.6 1917.1L2148.1 1917L2150.6 1918.6L2153.1 1917.6L2155.6 1917.2L2158.1 1918.5L2160.6 1918.5L2163.1 1917.1L2165.6 1916.5L2168.1 1917.1L2170.6 1918.2L2173.1 1917.7L2175.6 1917.1" fill="none" stroke="#CB9A00" stroke-width="8.8" stroke-linejoin="round"/>
<path d="M190.6 2070.2L193.1 2076.4L195.6 2082.1L198.1 2087.5L200.6 2092.2L203.1 2094.7L205.6 2096.9L208.1 2098.4L210.6 2100.6L213.1 2102.6L215.6 2103.6L218.1 2104.4L220.6 2104.7L223.1 2106.2L225.6 2107.5L228.1 2109.6L230.6 2110.4L233.1 2110.8L235.6 2111L238.1 2111.7L240.6 2112.1L243.1 2111.8L245.6 2111.9L248.1 2112.1L250.6 2112L253.1 2111.9L255.6 2111.7L258.1 2111.2L260.6 2110.8L263.1 2109.3L265.6 2108.8L268.1 2107.1L270.6 2105.4L273.1 2103.7L275.6 2102.6L278.1 2101.3L280.6 2099.7L283.1 2097.9L285.6 2096.8L288.1 2096.1L290.6 2093.9L293.1 2092L295.6 2091.1L298.1 2089.7L300.6 2088.6L303.1 2087.2L305.6 2085.1L308.1 2083L310.6 2082.6L313.1 2082.1L315.6 2081.1L318.1 2080.9L320.6 2080.5L323.1 2079.7L325.6 2080L328.1 2080.2L330.6 2079.8L333.1 2079.7L335.6 2080.2L338.1 2081.4L340.6 2081.7L343.1 2083L345.6 2085L348.1 2086.3L350.6 2088L353.1 2090.9L355.6 2094L358.1 2096.1L360.6 2097L363.1 2098.5L365.6 2101.2L368.1 2103.6L370.6 2106L373.1 2108.6L375.6 2110.9L378.1 2112.6L380.6 2114.2L383.1 2115.2L385.6 2116.8L388.1 2119.2L390.6 2121.1L393.1 2122.3L395.6 2123.1L398.1 2124L400.6 2124.3L403.1 2123.8L405.6 2124.9L408.1 2126.5L410.6 2127.1L413.1 2127.2L415.6 2128.6L418.1 2128.9L420.6 2129.4L423.1 2130.3L425.6 2130.8L428.1 2130.7L430.6 2131.9L433.1 2132.1L435.6 2131.9L438.1 2131.9L440.6 2131.5L443.1 2132.4L445.6 2133.2L448.1 2133.1L450.6 2133.2L453.1 2133.5L455.6 2133.8L458.1 2134.2L460.6 2133.7L463.1 2133.5L465.6 2134.1L468.1 2134.6L470.6 2133.7L473.1 2133.2L475.6 2132.7L478.1 2133.7L480.6 2133.9L483.1 2133.8L485.6 2132.8L488.1 2132.2L490.6 2132.9L493.1 2132.8L495.6 2131.6L498.1 2131.1L500.6 2131.8L503.1 2132.2L505.6 2132.8L508.1 2131.2L510.6 2130.1L513.1 2129.3L515.6 2127.9L518.1 2127.7L520.6 2128.1L523.1 2126.7L525.6 2125.3L528.1 2124.6L530.6 2125.1L533.1 2125.1L535.6 2124.5L538.1 2123.9L540.6 2123.9L543.1 2123.6L545.6 2123.1L548.1 2122.9L550.6 2121.7L553.1 2121.8L555.6 2122.6L558.1 2123.1L560.6 2123.5L563.1 2125L565.6 2126.5L568.1 2127.3L570.6 2128.3L573.1 2129.6L575.6 2130.3L578.1 2130.6L580.6 2132L583.1 2133.3L585.6 2133.1L588.1 2133.6L590.6 2133.7L593.1 2133.5L595.6 2133.7L598.1 2134.6L600.6 2135.1L603.1 2134.9L605.6 2134.3L608.1 2134.9L610.6 2135.8L613.1 2136.3L615.6 2136.5L618.1 2136.7L620.6 2137L623.1 2136.7L625.6 2136L628.1 2136.1L630.6 2135.6L633.1 2134.8L635.6 2135.7L638.1 2137.4L640.6 2136.2L643.1 2135.4L645.6 2136.6L648.1 2137.9L650.6 2137.6L653.1 2137.5L655.6 2137.3L658.1 2137.6L660.6 2138.4L663.1 2138.3L665.6 2138L668.1 2138.4L670.6 2138.5L673.1 2137.9L675.6 2138L678.1 2137.9L680.6 2137.8L683.1 2138.4L685.6 2137.9L688.1 2137.2L690.6 2136.6L693.1 2137.2L695.6 2138.4L698.1 2137.7L700.6 2138L703.1 2138L705.6 2138.3L708.1 2138.2L710.6 2137.5L713.1 2137.5L715.6 2137.8L718.1 2137.7L720.6 2137.5L723.1 2137.4L725.6 2138L728.1 2138.3L730.6 2137.6L733.1 2136.8L735.6 2137L738.1 2137L740.6 2137.3L743.1 2137.6L745.6 2136.5L748.1 2135.9L750.6 2135.4L753.1 2135.4L755.6 2135.6L758.1 2136.3L760.6 2135.7L763.1 2135.3L765.6 2135.7L768.1 2134.6L770.6 2135L773.1 2135.3L775.6 2134.7L778.1 2134L780.6 2133.7L783.1 2133.6L785.6 2133.5L788.1 2132.1L790.6 2132.5L793.1 2132.9L795.6 2132.3L798.1 2131.6L800.6 2132L803.1 2132.2L805.6 2133L808.1 2133.2L810.6 2132.1L813.1 2130.9L815.6 2131.3L818.1 2131.5L820.6 2132.4L823.1 2132.9L825.6 2132.7L828.1 2133.2L830.6 2133L833.1 2132.2L835.6 2131.3L838.1 2131.3L840.6 2131.3L843.1 2132.4L845.6 2132.9L848.1 2133.5L850.6 2133L853.1 2132.5L855.6 2134L858.1 2135.3L860.6 2135.7L863.1 2134.9L865.6 2135.1L868.1 2135.9L870.6 2135.9L873.1 2136L875.6 2137.3L878.1 2139.2L880.6 2138.4L883.1 2138L885.6 2138.6L888.1 2139.5L890.6 2140.4L893.1 2140.5L895.6 2140.2L898.1 2139.7L900.6 2139.5L903.1 2138.9L905.6 2138.9L908.1 2140.3L910.6 2139.8L913.1 2139.9L915.6 2139.5L918.1 2139.3L920.6 2139.1L923.1 2138.7L925.6 2139.3L928.1 2139.9L930.6 2140.2L933.1 2140.2L935.6 2140.2L938.1 2139.9L940.6 2139.1L943.1 2138.3L945.6 2139.1L948.1 2140.3L950.6 2140L953.1 2139.9L955.6 2139.4L958.1 2139.5L960.6 2140.6L963.1 2140.4L965.6 2140.5L968.1 2140L970.6 2139L973.1 2138.2L975.6 2138.7L978.1 2138.1L980.6 2138.2L983.1 2139.9L985.6 2140.3L988.1 2140L990.6 2139.6L993.1 2139.6L995.6 2139.7L998.1 2139.7L1000.6 2139.7L1003.1 2139.4L1005.6 2138.4L1008.1 2139.4L1010.6 2139.5L1013.1 2140.1L1015.6 2140.1L1018.1 2139.4L1020.6 2139.9L1023.1 2139.9L1025.6 2139.1L1028.1 2139L1030.6 2138.9L1033.1 2138.1L1035.6 2138.7L1038.1 2139.3L1040.6 2138.9L1043.1 2138.3L1045.6 2139.2L1048.1 2140.5L1050.6 2140.4L1053.1 2139.5L1055.6 2138.9L1058.1 2139.2L1060.6 2139.3L1063.1 2139L1065.6 2139.2L1068.1 2139.9L1070.6 2139.6L1073.1 2138.4L1075.6 2139.5L1078.1 2139.9L1080.6 2140.1L1083.1 2139.7L1085.6 2140L1088.1 2139.8L1090.6 2138.4L1093.1 2139.7L1095.6 2139.4L1098.1 2137.9L1100.6 2137.6L1103.1 2138.8L1105.6 2139.1L1108.1 2139.8L1110.6 2139.7L1113.1 2139.6L1115.6 2140L1118.1 2139.9L1120.6 2140L1123.1 2140.1L1125.6 2139.9L1128.1 2140.1L1130.6 2139.7L1133.1 2138.7L1135.6 2138.9L1138.1 2139.2L1140.6 2138.8L1143.1 2138.3L1145.6 2138.8L1148.1 2139.5L1150.6 2139.9L1153.1 2140.2L1155.6 2139.3L1158.1 2138.9L1160.6 2138.9L1163.1 2139L1165.6 2138.6L1168.1 2138.3L1170.6 2139.4L1173.1 2140.2L1175.6 2140L1178.1 2139L1180.6 2139.5L1183.1 2140.4L1185.6 2139.8L1188.1 2139.6L1190.6 2139.6L1193.1 2140.2L1195.6 2140.6L1198.1 2141L1200.6 2140.2L1203.1 2139.5L1205.6 2138.7L1208.1 2138.7L1210.6 2138.8L1213.1 2138.8L1215.6 2138.8L1218.1 2139.5L1220.6 2139L1223.1 2139L1225.6 2138.7L1228.1 2139.5L1230.6 2140.1L1233.1 2139.2L1235.6 2139.2L1238.1 2139.2L1240.6 2139.4L1243.1 2139.3L1245.6 2138.7L1248.1 2138.7L1250.6 2138.4L1253.1 2138.1L1255.6 2138.2L1258.1 2139L1260.6 2138.7L1263.1 2139.1L1265.6 2139L1268.1 2138.4L1270.6 2138.9L1273.1 2138.4L1275.6 2139L1278.1 2139.3L1280.6 2138.1L1283.1 2137.5L1285.6 2138L1288.1 2139.2L1290.6 2138.1L1293.1 2137.5L1295.6 2138.2L1298.1 2137.9L1300.6 2137.6L1303.1 2136.7L1305.6 2136L1308.1 2136.5L1310.6 2136.4L1313.1 2136L1315.6 2136.2L1318.1 2136.6L1320.6 2137.5L1323.1 2137.7L1325.6 2137.2L1328.1 2136.4L1330.6 2135.9L1333.1 2136.6L1335.6 2137L1338.1 2137L1340.6 2136.4L1343.1 2136.1L1345.6 2136L1348.1 2135.3L1350.6 2135.2L1353.1 2135.6L1355.6 2134.9L1358.1 2135.2L1360.6 2135.7L1363.1 2135.5L1365.6 2135L1368.1 2134.2L1370.6 2134.3L1373.1 2134.4L1375.6 2134.7L1378.1 2134.4L1380.6 2134.1L1383.1 2134.2L1385.6 2132.9L1388.1 2131.3L1390.6 2130.1L1393.1 2129.3L1395.6 2128.6L1398.1 2128.4L1400.6 2127L1403.1 2125.2L1405.6 2123.7L1408.1 2122.6L1410.6 2122.4L1413.1 2122.5L1415.6 2121.6L1418.1 2120.1L1420.6 2118.7L1423.1 2117.2L1425.6 2117.2L1428.1 2116.6L1430.6 2116.2L1433.1 2114.9L1435.6 2114.1L1438.1 2114L1440.6 2114L1443.1 2115L1445.6 2115.3L1448.1 2115.8L1450.6 2116.5L1453.1 2117.3L1455.6 2118.7L1458.1 2120.1L1460.6 2121.7L1463.1 2122.3L1465.6 2123L1468.1 2123.6L1470.6 2124.4L1473.1 2125.4L1475.6 2126.5L1478.1 2126.6L1480.6 2126.5L1483.1 2125.5L1485.6 2124.1L1488.1 2122.7L1490.6 2123L1493.1 2122.3L1495.6 2120L1498.1 2118.6L1500.6 2116.5L1503.1 2114L1505.6 2112.3L1508.1 2110L1510.6 2108.7L1513.1 2107.7L1515.6 2105.3L1518.1 2102.7L1520.6 2101.2L1523.1 2098.3L1525.6 2096.2L1528.1 2094.3L1530.6 2092.3L1533.1 2090.3L1535.6 2089.1L1538.1 2089.1L1540.6 2087L1543.1 2085L1545.6 2083.7L1548.1 2084.2L1550.6 2084.9L1553.1 2085.2L1555.6 2085.9L1558.1 2085.7L1560.6 2085.5L1563.1 2086.3L1565.6 2087.8L1568.1 2088.6L1570.6 2089.6L1573.1 2090.6L1575.6 2092.7L1578.1 2095.4L1580.6 2097.1L1583.1 2099.1L1585.6 2101.1L1588.1 2105.3L1590.6 2108.4L1593.1 2110.8L1595.6 2111.9L1598.1 2112.5L1600.6 2113.8L1603.1 2116L1605.6 2117.2L1608.1 2118.1L1610.6 2119.5L1613.1 2120.9L1615.6 2122.5L1618.1 2123L1620.6 2123.6L1623.1 2125L1625.6 2126.4L1628.1 2127.9L1630.6 2127.9L1633.1 2128.1L1635.6 2129.3L1638.1 2130.3L1640.6 2131.1L1643.1 2131.5L1645.6 2131.5L1648.1 2132.2L1650.6 2132.6L1653.1 2132.5L1655.6 2133.1L1658.1 2133.7L1660.6 2133.4L1663.1 2133.8L1665.6 2134.7L1668.1 2135.4L1670.6 2135.8L1673.1 2135.5L1675.6 2136.4L1678.1 2137.4L1680.6 2137.8L1683.1 2137L1685.6 2136.4L1688.1 2136.6L1690.6 2137.9L1693.1 2138.5L1695.6 2137.8L1698.1 2138.2L1700.6 2138.7L1703.1 2138.6L1705.6 2138.1L1708.1 2138.3L1710.6 2137.9L1713.1 2137.6L1715.6 2138.1L1718.1 2138.1L1720.6 2137.7L1723.1 2138.6L1725.6 2139.1L1728.1 2137.9L1730.6 2138.5L1733.1 2138.9L1735.6 2138.5L1738.1 2138.4L1740.6 2138.4L1743.1 2138.8L1745.6 2137.9L1748.1 2137.6L1750.6 2137.2L1753.1 2138.1L1755.6 2138.2L1758.1 2137.2L1760.6 2137.5L1763.1 2138.3L1765.6 2137.8L1768.1 2137L1770.6 2136.7L1773.1 2138.4L1775.6 2139.4L1778.1 2138.6L1780.6 2138.6L1783.1 2138.7L1785.6 2138.4L1788.1 2138.4L1790.6 2138.3L1793.1 2138.4L1795.6 2140.2L1798.1 2140.5L1800.6 2139.5L1803.1 2139.4L1805.6 2138.3L1808.1 2138.4L1810.6 2138.8L1813.1 2137.8L1815.6 2137.5L1818.1 2138L1820.6 2137.8L1823.1 2139.2L1825.6 2139.3L1828.1 2139L1830.6 2138.8L1833.1 2138L1835.6 2138L1838.1 2139L1840.6 2139.3L1843.1 2138.9L1845.6 2138.5L1848.1 2138.6L1850.6 2139L1853.1 2137.9L1855.6 2137.7L1858.1 2137.8L1860.6 2137.4L1863.1 2137.4L1865.6 2138L1868.1 2139.4L1870.6 2140L1873.1 2138.9L1875.6 2137.7L1878.1 2138L1880.6 2138.4L1883.1 2138.5L1885.6 2138.5L1888.1 2138.5L1890.6 2137.6L1893.1 2138.1L1895.6 2138.9L1898.1 2139.3L1900.6 2139.1L1903.1 2138.8L1905.6 2138.6L1908.1 2138.4L1910.6 2138.7L1913.1 2138.6L1915.6 2138.6L1918.1 2139.6L1920.6 2139.7L1923.1 2139L1925.6 2139.4L1928.1 2139.7L1930.6 2139.3L1933.1 2139.1L1935.6 2138.8L1938.1 2137.7L1940.6 2137.8L1943.1 2138.9L1945.6 2139.4L1948.1 2139.6L1950.6 2139.1L1953.1 2139.7L1955.6 2140.1L1958.1 2140.1L1960.6 2138.8L1963.1 2138.6L1965.6 2139L1968.1 2138.9L1970.6 2138.3L1973.1 2138.2L1975.6 2138.5L1978.1 2140L1980.6 2139.4L1983.1 2138.8L1985.6 2138.6L1988.1 2139L1990.6 2139.3L1993.1 2138.9L1995.6 2139.3L1998.1 2140.4L2000.6 2140L2003.1 2139.2L2005.6 2138.8L2008.1 2138.7L2010.6 2138.6L2013.1 2138.8L2015.6 2138.5L2018.1 2138.3L2020.6 2138.4L2023.1 2138.3L2025.6 2139.4L2028.1 2140.3L2030.6 2138.8L2033.1 2138.1L2035.6 2139.2L2038.1 2139.5L2040.6 2140.2L2043.1 2139.8L2045.6 2139.4L2048.1 2138.4L2050.6 2137.9L2053.1 2138.6L2055.6 2139.1L2058.1 2138.3L2060.6 2137.7L2063.1 2138.2L2065.6 2138.5L2068.1 2138.7L2070.6 2139.3L2073.1 2140.3L2075.6 2139.3L2078.1 2138.5L2080.6 2138.4L2083.1 2138.8L2085.6 2138.5L2088.1 2139.4L2090.6 2138.9L2093.1 2138.1L2095.6 2138.7L2098.1 2139.1L2100.6 2139.3L2103.1 2138.4L2105.6 2138.7L2108.1 2139.1L2110.6 2139.2L2113.1 2138.3L2115.6 2138.7L2118.1 2140L2120.6 2139.3L2123.1 2138.3L2125.6 2138.6L2128.1 2138.4L2130.6 2138.1L2133.1 2138.3L2135.6 2139.1L2138.1 2138.8L2140.6 2138.9L2143.1 2138.7L2145.6 2137.9L2148.1 2138.3L2150.6 2138.9L2153.1 2138.2L2155.6 2138.7L2158.1 2139L2160.6 2139.4L2163.1 2139.6L2165.6 2139.6L2168.1 2139.2L2170.6 2138.9L2173.1 2138.5L2175.6 2138.4" fill="none" stroke="#B07ADD" stroke-width="8.8" stroke-linejoin="round"/>
<path d="M190.6 2341.8L193.1 2343L195.6 2347.2L198.1 2350.6L200.6 2353.8L203.1 2356.4L205.6 2359.2L208.1 2360.7L210.6 2362.7L213.1 2365.6L215.6 2367.7L218.1 2369.2L220.6 2370.7L223.1 2372.2L225.6 2372.9L228.1 2372.9L230.6 2373.1L233.1 2373.6L235.6 2375.4L238.1 2375.8L240.6 2376.6L243.1 2377L245.6 2377.9L248.1 2377.9L250.6 2377.4L253.1 2377.2L255.6 2375.8L258.1 2374.8L260.6 2372.5L263.1 2371.2L265.6 2369.6L268.1 2366.9L270.6 2364L273.1 2361.4L275.6 2359.7L278.1 2358.6L280.6 2356.3L283.1 2353.1L285.6 2350.2L288.1 2348.2L290.6 2345.3L293.1 2343.5L295.6 2342.4L298.1 2342.1L300.6 2341.3L303.1 2340.5L305.6 2339.5L308.1 2338.6L310.6 2338.8L313.1 2338.9L315.6 2338.2L318.1 2338.2L320.6 2338.4L323.1 2339.2L325.6 2339.9L328.1 2340.5L330.6 2341.3L333.1 2342.4L335.6 2343.4L338.1 2346L340.6 2350L343.1 2354.8L345.6 2359L348.1 2363.7L350.6 2368.9L353.1 2373.1L355.6 2375L358.1 2375.8L360.6 2378.4L363.1 2380.9L365.6 2383.2L368.1 2386.1L370.6 2389.1L373.1 2390.1L375.6 2391.4L378.1 2393.5L380.6 2394.8L383.1 2395.7L385.6 2396.4L388.1 2397.4L390.6 2398L393.1 2397.4L395.6 2398.3L398.1 2400.4L400.6 2401.1L403.1 2400.7L405.6 2400.8L408.1 2401.4L410.6 2401.7L413.1 2402.8L415.6 2404.2L418.1 2404.3L420.6 2404.6L423.1 2404.5L425.6 2405L428.1 2405.3L430.6 2404.4L433.1 2404.6L435.6 2405L438.1 2405.6L440.6 2406.3L443.1 2405.6L445.6 2404.4L448.1 2404.4L450.6 2404.3L453.1 2404.6L455.6 2405.6L458.1 2404.5L460.6 2404.3L463.1 2404.2L465.6 2404.7L468.1 2404.5L470.6 2404L473.1 2403.9L475.6 2403.9L478.1 2402.8L480.6 2402.2L483.1 2402.3L485.6 2403L488.1 2402.2L490.6 2401.4L493.1 2401.9L495.6 2402.9L498.1 2401.9L500.6 2401.4L503.1 2400.9L505.6 2399.9L508.1 2399L510.6 2398.6L513.1 2397.7L515.6 2397.1L518.1 2398.5L520.6 2397.6L523.1 2395.7L525.6 2394.1L528.1 2392.9L530.6 2392.4L533.1 2391.1L535.6 2390.1L538.1 2389L540.6 2389.7L543.1 2390.6L545.6 2390L548.1 2390.3L550.6 2390.5L553.1 2391.5L555.6 2392.5L558.1 2393.2L560.6 2394.4L563.1 2396.4L565.6 2398.2L568.1 2399.9L570.6 2402.1L573.1 2403.7L575.6 2404.6L578.1 2406.4L580.6 2408.6L583.1 2408.1L585.6 2407.9L588.1 2408.5L590.6 2407L593.1 2405.4L595.6 2405.5L598.1 2406.2L600.6 2407.5L603.1 2407.8L605.6 2406.9L608.1 2407.7L610.6 2407.4L613.1 2407.9L615.6 2408.3L618.1 2408.3L620.6 2408.1L623.1 2407.9L625.6 2407.6L628.1 2408.3L630.6 2409L633.1 2409.5L635.6 2410.2L638.1 2409.7L640.6 2409.4L643.1 2409.6L645.6 2408.7L648.1 2407.4L650.6 2407.3L653.1 2408.9L655.6 2409.3L658.1 2409.2L660.6 2408.7L663.1 2409.2L665.6 2409.9L668.1 2409.1L670.6 2408.1L673.1 2408.6L675.6 2409.2L678.1 2407.9L680.6 2406.7L683.1 2406.7L685.6 2407.8L688.1 2409.1L690.6 2408.9L693.1 2408.2L695.6 2408L698.1 2408.6L700.6 2408.7L703.1 2408.5L705.6 2408.6L708.1 2408.8L710.6 2409.4L713.1 2408L715.6 2408.4L718.1 2408.6L720.6 2409.1L723.1 2409.1L725.6 2409.3L728.1 2409.4L730.6 2409.4L733.1 2409.3L735.6 2408.6L738.1 2409.1L740.6 2409L743.1 2409.2L745.6 2409.7L748.1 2409.7L750.6 2409L753.1 2406.8L755.6 2406.8L758.1 2407.5L760.6 2406.6L763.1 2406.8L765.6 2407.5L768.1 2406.8L770.6 2405.5L773.1 2405.6L775.6 2405.5L778.1 2404.8L780.6 2404.2L783.1 2403.6L785.6 2402.6L788.1 2402.6L790.6 2402.2L793.1 2402.4L795.6 2402L798.1 2401.2L800.6 2401.4L803.1 2401.1L805.6 2400.5L808.1 2400.2L810.6 2399.2L813.1 2398.5L815.6 2398L818.1 2397.7L820.6 2397.1L823.1 2395.3L825.6 2395.1L828.1 2394.7L830.6 2395.4L833.1 2396.2L835.6 2396.8L838.1 2397.7L840.6 2397.6L843.1 2396.8L845.6 2398.4L848.1 2401.1L850.6 2402.2L853.1 2402L855.6 2402.3L858.1 2403.9L860.6 2403.4L863.1 2404.3L865.6 2405L868.1 2405L870.6 2404.5L873.1 2405L875.6 2405.7L878.1 2405.1L880.6 2404.6L883.1 2405.3L885.6 2405.6L888.1 2405.4L890.6 2405.4L893.1 2405.9L895.6 2405.7L898.1 2405.3L900.6 2405.9L903.1 2406.1L905.6 2405.8L908.1 2405.1L910.6 2405.5L913.1 2406.6L915.6 2407L918.1 2406.8L920.6 2406.8L923.1 2407.2L925.6 2407.7L928.1 2408L930.6 2407.2L933.1 2406.6L935.6 2406.6L938.1 2405.9L940.6 2406.5L943.1 2406.7L945.6 2407L948.1 2407.3L950.6 2407L953.1 2406.3L955.6 2406.6L958.1 2406.7L960.6 2407.2L963.1 2407.4L965.6 2407.1L968.1 2407.9L970.6 2408.3L973.1 2407.8L975.6 2407.6L978.1 2406.8L980.6 2407.2L983.1 2407.7L985.6 2406.8L988.1 2406.9L990.6 2407.4L993.1 2408.5L995.6 2408.6L998.1 2407.8L1000.6 2407.4L1003.1 2406.7L1005.6 2408L1008.1 2408.6L1010.6 2408.4L1013.1 2407.1L1015.6 2407.7L1018.1 2407.4L1020.6 2406.5L1023.1 2407.3L1025.6 2408.2L1028.1 2408.7L1030.6 2408.5L1033.1 2408.1L1035.6 2408.5L1038.1 2408.2L1040.6 2407.8L1043.1 2407.7L1045.6 2408.3L1048.1 2408.9L1050.6 2409.5L1053.1 2408.9L1055.6 2409.4L1058.1 2409.3L1060.6 2409.1L1063.1 2408.1L1065.6 2407.9L1068.1 2408.4L1070.6 2409.1L1073.1 2409.1L1075.6 2409.2L1078.1 2409.2L1080.6 2409.4L1083.1 2408.9L1085.6 2408.6L1088.1 2409L1090.6 2409.3L1093.1 2409.8L1095.6 2409.1L1098.1 2408.8L1100.6 2408.9L1103.1 2409.6L1105.6 2409.7L1108.1 2409.1L1110.6 2408L1113.1 2407.8L1115.6 2408.9L1118.1 2409.6L1120.6 2409.5L1123.1 2408.1L1125.6 2408.1L1128.1 2407.7L1130.6 2408L1133.1 2408.8L1135.6 2409.3L1138.1 2408.7L1140.6 2408.4L1143.1 2408.9L1145.6 2410.1L1148.1 2410.3L1150.6 2408.5L1153.1 2408.4L1155.6 2408.9L1158.1 2409.7L1160.6 2409.8L1163.1 2409.8L1165.6 2408.7L1168.1 2408.7L1170.6 2408.5L1173.1 2408.2L1175.6 2408.5L1178.1 2408.7L1180.6 2410.1L1183.1 2409.5L1185.6 2408.4L1188.1 2408.8L1190.6 2409.8L1193.1 2409.2L1195.6 2409.4L1198.1 2409.7L1200.6 2409.9L1203.1 2409.5L1205.6 2408.9L1208.1 2408.2L1210.6 2407.8L1213.1 2408.6L1215.6 2408.9L1218.1 2408.7L1220.6 2408.6L1223.1 2408.6L1225.6 2409.8L1228.1 2408.8L1230.6 2408.1L1233.1 2408.3L1235.6 2408.7L1238.1 2408.7L1240.6 2407.7L1243.1 2408.5L1245.6 2408.5L1248.1 2408.7L1250.6 2409.4L1253.1 2409.2L1255.6 2408.4L1258.1 2408.8L1260.6 2409.9L1263.1 2409.9L1265.6 2409.3L1268.1 2408.8L1270.6 2409L1273.1 2408.7L1275.6 2407.9L1278.1 2407.7L1280.6 2408.4L1283.1 2408.7L1285.6 2408.8L1288.1 2408.3L1290.6 2408.6L1293.1 2408.2L1295.6 2408.6L1298.1 2408.2L1300.6 2407.3L1303.1 2406.9L1305.6 2407.2L1308.1 2407.5L1310.6 2407.7L1313.1 2406.8L1315.6 2406.3L1318.1 2407.2L1320.6 2408.4L1323.1 2408.1L1325.6 2406.8L1328.1 2406.5L1330.6 2406.6L1333.1 2406.2L1335.6 2406.1L1338.1 2405.9L1340.6 2405.4L1343.1 2405.4L1345.6 2405.6L1348.1 2405.6L1350.6 2405.1L1353.1 2405.1L1355.6 2404.7L1358.1 2404.4L1360.6 2405.1L1363.1 2407.3L1365.6 2406.6L1368.1 2405.9L1370.6 2405.2L1373.1 2404.4L1375.6 2404.2L1378.1 2404.3L1380.6 2404.3L1383.1 2404.4L1385.6 2403.8L1388.1 2401.8L1390.6 2401.8L1393.1 2401.5L1395.6 2399.6L1398.1 2397.9L1400.6 2396.7L1403.1 2394.9L1405.6 2393.7L1408.1 2391.4L1410.6 2389.1L1413.1 2386.4L1415.6 2384.3L1418.1 2383.5L1420.6 2382.7L1423.1 2381.4L1425.6 2380.7L1428.1 2381.5L1430.6 2381.8L1433.1 2382.2L1435.6 2383.1L1438.1 2385.3L1440.6 2386.6L1443.1 2387L1445.6 2387.8L1448.1 2389.4L1450.6 2391.6L1453.1 2392.9L1455.6 2392.2L1458.1 2391.6L1460.6 2391.7L1463.1 2393.2L1465.6 2392L1468.1 2391.9L1470.6 2391.6L1473.1 2390.8L1475.6 2388.8L1478.1 2387.4L1480.6 2387.4L1483.1 2387L1485.6 2385.6L1488.1 2382.8L1490.6 2381.1L1493.1 2379L1495.6 2376.3L1498.1 2374.4L1500.6 2372.2L1503.1 2368.6L1505.6 2364L1508.1 2360.3L1510.6 2355.9L1513.1 2350.9L1515.6 2345.6L1518.1 2340.2L1520.6 2336.4L1523.1 2331.8L1525.6 2326.3L1528.1 2321.3L1530.6 2316.7L1533.1 2313.3L1535.6 2309.4L1538.1 2306.5L1540.6 2305.7L1543.1 2305.2L1545.6 2304.5L1548.1 2303.3L1550.6 2303.3L1553.1 2305L1555.6 2307.5L1558.1 2308.6L1560.6 2310.1L1563.1 2315L1565.6 2320.9L1568.1 2327.1L1570.6 2333.3L1573.1 2339.3L1575.6 2345.7L1578.1 2351.9L1580.6 2357.2L1583.1 2361.7L1585.6 2365.6L1588.1 2369.7L1590.6 2373.3L1593.1 2377L1595.6 2379.3L1598.1 2382.4L1600.6 2386.2L1603.1 2388.5L1605.6 2390.3L1608.1 2392.6L1610.6 2394.5L1613.1 2396.2L1615.6 2397.6L1618.1 2398.5L1620.6 2399L1623.1 2399.5L1625.6 2399.9L1628.1 2401.6L1630.6 2403.5L1633.1 2403.9L1635.6 2404.1L1638.1 2404.7L1640.6 2405.3L1643.1 2406.8L1645.6 2408.5L1648.1 2409.1L1650.6 2409L1653.1 2408.7L1655.6 2408.1L1658.1 2407.7L1660.6 2408.2L1663.1 2408.4L1665.6 2409L1668.1 2408.7L1670.6 2408.4L1673.1 2409.3L1675.6 2410.2L1678.1 2409L1680.6 2409.3L1683.1 2409.2L1685.6 2408.6L1688.1 2408.3L1690.6 2408.6L1693.1 2409L1695.6 2409.4L1698.1 2409.4L1700.6 2409L1703.1 2408.6L1705.6 2408.8L1708.1 2408.4L1710.6 2408.4L1713.1 2409L1715.6 2408.5L1718.1 2408.1L1720.6 2408.3L1723.1 2407.9L1725.6 2408.6L1728.1 2409.1L1730.6 2408.9L1733.1 2409.5L1735.6 2410.6L1738.1 2410.5L1740.6 2410L1743.1 2409.5L1745.6 2408.9L1748.1 2408.9L1750.6 2408.9L1753.1 2409.1L1755.6 2409.1L1758.1 2409L1760.6 2409.7L1763.1 2409L1765.6 2409.4L1768.1 2409.8L1770.6 2409.3L1773.1 2408.9L1775.6 2409.5L1778.1 2410.5L1780.6 2410L1783.1 2409.4L1785.6 2409.5L1788.1 2408.9L1790.6 2408.3L1793.1 2409.3L1795.6 2410.2L1798.1 2410.2L1800.6 2409.3L1803.1 2408.8L1805.6 2409.7L1808.1 2409.7L1810.6 2410L1813.1 2410.3L1815.6 2409.8L1818.1 2409.3L1820.6 2409L1823.1 2409.1L1825.6 2409.3L1828.1 2409.3L1830.6 2409.2L1833.1 2408.2L1835.6 2408.5L1838.1 2409.1L1840.6 2409L1843.1 2408.8L1845.6 2408.9L1848.1 2410L1850.6 2410.4L1853.1 2409.5L1855.6 2409.7L1858.1 2409L1860.6 2409L1863.1 2408.6L1865.6 2409.5L1868.1 2409.7L1870.6 2410L1873.1 2410.5L1875.6 2410.2L1878.1 2409.6L1880.6 2409.2L1883.1 2409.4L1885.6 2409.2L1888.1 2409.6L1890.6 2410.6L1893.1 2410.5L1895.6 2410.1L1898.1 2409.8L1900.6 2409L1903.1 2409.1L1905.6 2408.6L1908.1 2409.1L1910.6 2409.8L1913.1 2410.1L1915.6 2410.2L1918.1 2410L1920.6 2409.8L1923.1 2410L1925.6 2410.8L1928.1 2410.5L1930.6 2409.2L1933.1 2409.8L1935.6 2410.4L1938.1 2409.9L1940.6 2409.7L1943.1 2409.2L1945.6 2409L1948.1 2409.5L1950.6 2409.5L1953.1 2409.3L1955.6 2408.7L1958.1 2408.8L1960.6 2409.3L1963.1 2409.6L1965.6 2409.8L1968.1 2409.4L1970.6 2410.1L1973.1 2410.2L1975.6 2410.1L1978.1 2410.1L1980.6 2409.8L1983.1 2409.6L1985.6 2409.4L1988.1 2409L1990.6 2409.6L1993.1 2409.9L1995.6 2409.1L1998.1 2409.7L2000.6 2409.4L2003.1 2409.4L2005.6 2409.8L2008.1 2410.2L2010.6 2410.6L2013.1 2410.3L2015.6 2410.7L2018.1 2410.2L2020.6 2410.2L2023.1 2410.1L2025.6 2409.3L2028.1 2409L2030.6 2409.8L2033.1 2410.4L2035.6 2410.4L2038.1 2410.1L2040.6 2410.7L2043.1 2410L2045.6 2409.7L2048.1 2410.6L2050.6 2410.6L2053.1 2409.8L2055.6 2409.9L2058.1 2409.4L2060.6 2410.2L2063.1 2411.5L2065.6 2411.3L2068.1 2410.8L2070.6 2410.3L2073.1 2409.7L2075.6 2410.1L2078.1 2410.1L2080.6 2409.5L2083.1 2410L2085.6 2410.4L2088.1 2410.3L2090.6 2410.2L2093.1 2409.7L2095.6 2409.3L2098.1 2409.4L2100.6 2408.8L2103.1 2409.5L2105.6 2410.9L2108.1 2411.3L2110.6 2410.2L2113.1 2409L2115.6 2410.4L2118.1 2410.6L2120.6 2410.2L2123.1 2410.5L2125.6 2410.2L2128.1 2409.2L2130.6 2409.3L2133.1 2409.9L2135.6 2409.1L2138.1 2410L2140.6 2410.6L2143.1 2411.1L2145.6 2411.5L2148.1 2411.5L2150.6 2411.4L2153.1 2411L2155.6 2410.8L2158.1 2410.8L2160.6 2410.1L2163.1 2409.5L2165.6 2409.5L2168.1 2409L2170.6 2409.9L2173.1 2411.2L2175.6 2410.9" fill="none" stroke="#36AD6B" stroke-width="8.8" stroke-linejoin="round"/>
<path d="M190.6 2565.3L193.1 2570.3L195.6 2574.9L198.1 2578.9L200.6 2582.9L203.1 2585.9L205.6 2587.3L208.1 2588.8L210.6 2590L213.1 2590.7L215.6 2592.4L218.1 2592.1L220.6 2593.2L223.1 2594.8L225.6 2594.3L228.1 2594.3L230.6 2594.6L233.1 2594.8L235.6 2594.1L238.1 2595L240.6 2596.1L243.1 2594.8L245.6 2593L248.1 2591.6L250.6 2589.8L253.1 2587.8L255.6 2585.7L258.1 2583.3L260.6 2582.6L263.1 2581.8L265.6 2581.5L268.1 2580.5L270.6 2579.5L273.1 2579L275.6 2578.3L278.1 2578L280.6 2576.1L283.1 2573.5L285.6 2570.6L288.1 2569.5L290.6 2568.6L293.1 2569.1L295.6 2568.9L298.1 2568.1L300.6 2568.6L303.1 2568.9L305.6 2569.8L308.1 2570.7L310.6 2571L313.1 2571L315.6 2570.8L318.1 2572.3L320.6 2574.2L323.1 2576L325.6 2577.3L328.1 2579.6L330.6 2581.5L333.1 2582.5L335.6 2584.7L338.1 2587.4L340.6 2589.1L343.1 2591.8L345.6 2595.5L348.1 2598.2L350.6 2600.6L353.1 2603.1L355.6 2605.3L358.1 2607.3L360.6 2609.4L363.1 2611.5L365.6 2613.3L368.1 2613.9L370.6 2615.1L373.1 2616.1L375.6 2616.9L378.1 2618.7L380.6 2619.9L383.1 2620.2L385.6 2621.2L388.1 2621.5L390.6 2622.7L393.1 2623.1L395.6 2622.3L398.1 2621.8L400.6 2622.5L403.1 2622.7L405.6 2623.1L408.1 2624.3L410.6 2625.5L413.1 2625.2L415.6 2624.8L418.1 2624.3L420.6 2624.8L423.1 2625.1L425.6 2626L428.1 2626.1L430.6 2626.3L433.1 2626.4L435.6 2626.6L438.1 2627.2L440.6 2627L443.1 2626.5L445.6 2626.7L448.1 2627.1L450.6 2627.4L453.1 2627L455.6 2627L458.1 2626.1L460.6 2625.5L463.1 2625.2L465.6 2625.8L468.1 2625.1L470.6 2624.9L473.1 2625.5L475.6 2625L478.1 2624.8L480.6 2625.3L483.1 2625.1L485.6 2625L488.1 2624.6L490.6 2624.9L493.1 2624.9L495.6 2624.6L498.1 2624.8L500.6 2623.8L503.1 2623.4L505.6 2623.6L508.1 2623.8L510.6 2623.1L513.1 2622.8L515.6 2623.3L518.1 2623.6L520.6 2622.6L523.1 2622L525.6 2622.5L528.1 2622.9L530.6 2622.5L533.1 2622.4L535.6 2622L538.1 2623.2L540.6 2624.3L543.1 2625.2L545.6 2626L548.1 2626.6L550.6 2626.8L553.1 2627.8L555.6 2627.8L558.1 2629L560.6 2630.7L563.1 2630.9L565.6 2630.2L568.1 2631L570.6 2630.9L573.1 2630.7L575.6 2631.2L578.1 2631.6L580.6 2631.7L583.1 2630.6L585.6 2630.6L588.1 2630.6L590.6 2630.4L593.1 2631.8L595.6 2632.3L598.1 2631.2L600.6 2631.2L603.1 2631.1L605.6 2631.1L608.1 2631L610.6 2631.2L613.1 2630.9L615.6 2631.7L618.1 2632L620.6 2632.2L623.1 2630.6L625.6 2630.4L628.1 2630.2L630.6 2630.8L633.1 2631L635.6 2630.2L638.1 2629.6L640.6 2629.7L643.1 2631L645.6 2631.9L648.1 2631.8L650.6 2631L653.1 2630.3L655.6 2630.1L658.1 2629.6L660.6 2629.8L663.1 2631L665.6 2630.9L668.1 2630.9L670.6 2631L673.1 2631.7L675.6 2631.7L678.1 2630.5L680.6 2630.2L683.1 2630.5L685.6 2631.5L688.1 2631.6L690.6 2631.2L693.1 2631.9L695.6 2630.8L698.1 2629.5L700.6 2629.1L703.1 2630.1L705.6 2630.5L708.1 2630.3L710.6 2630.8L713.1 2631.2L715.6 2630.8L718.1 2631.2L720.6 2631.6L723.1 2630.9L725.6 2630.2L728.1 2630.6L730.6 2631.1L733.1 2631.5L735.6 2630.2L738.1 2629.4L740.6 2630.2L743.1 2630.4L745.6 2630.2L748.1 2630.5L750.6 2630.7L753.1 2630.8L755.6 2629.8L758.1 2629.6L760.6 2629.9L763.1 2630.1L765.6 2630.8L768.1 2630.7L770.6 2630.5L773.1 2631L775.6 2630.9L778.1 2630.9L780.6 2630.7L783.1 2630.1L785.6 2629.9L788.1 2629.7L790.6 2629.3L793.1 2629.7L795.6 2630.4L798.1 2630.1L800.6 2630L803.1 2630.9L805.6 2630L808.1 2630.3L810.6 2630.7L813.1 2630.6L815.6 2629.7L818.1 2629.7L820.6 2630L823.1 2630.6L825.6 2630.5L828.1 2630.4L830.6 2630.7L833.1 2631.3L835.6 2630.9L838.1 2630.4L840.6 2629.7L843.1 2629.9L845.6 2629.6L848.1 2630.3L850.6 2630L853.1 2629.3L855.6 2629.1L858.1 2629.7L860.6 2629.9L863.1 2629.7L865.6 2629.7L868.1 2629.7L870.6 2629.7L873.1 2629.9L875.6 2630.5L878.1 2631L880.6 2630.6L883.1 2630.3L885.6 2631.2L888.1 2631.1L890.6 2630.5L893.1 2630.6L895.6 2630L898.1 2629.6L900.6 2630L903.1 2631.1L905.6 2630.8L908.1 2630.6L910.6 2630.4L913.1 2630.3L915.6 2630.7L918.1 2631.3L920.6 2631.5L923.1 2630.7L925.6 2631.3L928.1 2630.8L930.6 2629.9L933.1 2631.1L935.6 2631.9L938.1 2631.6L940.6 2631L943.1 2630.4L945.6 2629.6L948.1 2630.5L950.6 2630.7L953.1 2630.3L955.6 2630.6L958.1 2630.9L960.6 2631.7L963.1 2630.4L965.6 2629.7L968.1 2629.4L970.6 2630.2L973.1 2630.9L975.6 2630.8L978.1 2630.8L980.6 2631.4L983.1 2631.5L985.6 2631.7L988.1 2630.9L990.6 2630L993.1 2630.4L995.6 2630.6L998.1 2631.3L1000.6 2630.9L1003.1 2630.9L1005.6 2630.8L1008.1 2630.3L1010.6 2630.9L1013.1 2631.6L1015.6 2631.1L1018.1 2631.1L1020.6 2631.3L1023.1 2631L1025.6 2631.2L1028.1 2631.5L1030.6 2631.3L1033.1 2631.4L1035.6 2631.2L1038.1 2630.6L1040.6 2631L1043.1 2632.7L1045.6 2632.7L1048.1 2632L1050.6 2632.4L1053.1 2632.7L1055.6 2632.4L1058.1 2631.4L1060.6 2630.6L1063.1 2630.7L1065.6 2631.7L1068.1 2632.8L1070.6 2632.9L1073.1 2632L1075.6 2631.9L1078.1 2632.9L1080.6 2633.2L1083.1 2632L1085.6 2632.1L1088.1 2632.1L1090.6 2631.8L1093.1 2631.7L1095.6 2631.8L1098.1 2631.7L1100.6 2631.2L1103.1 2632L1105.6 2632.7L1108.1 2632.9L1110.6 2632.9L1113.1 2632.6L1115.6 2632.8L1118.1 2633.4L1120.6 2632.6L1123.1 2632.6L1125.6 2633L1128.1 2632.3L1130.6 2631.5L1133.1 2631.7L1135.6 2632L1138.1 2632.1L1140.6 2632.3L1143.1 2633L1145.6 2633.1L1148.1 2632.8L1150.6 2632.5L1153.1 2633.2L1155.6 2633.7L1158.1 2633.8L1160.6 2632.6L1163.1 2632.6L1165.6 2633L1168.1 2632.2L1170.6 2632.5L1173.1 2632.7L1175.6 2632.4L1178.1 2632L1180.6 2632.1L1183.1 2631.9L1185.6 2632.8L1188.1 2632.5L1190.6 2632.5L1193.1 2632.6L1195.6 2632.7L1198.1 2632.7L1200.6 2632.7L1203.1 2632.4L1205.6 2632.2L1208.1 2631.6L1210.6 2631.5L1213.1 2631.5L1215.6 2631.4L1218.1 2631.3L1220.6 2631.9L1223.1 2632.6L1225.6 2632.6L1228.1 2632.2L1230.6 2632.5L1233.1 2633L1235.6 2633.4L1238.1 2631.8L1240.6 2631.7L1243.1 2631.6L1245.6 2632.4L1248.1 2632.2L1250.6 2632.2L1253.1 2632.1L1255.6 2631.6L1258.1 2630L1260.6 2630.4L1263.1 2631.1L1265.6 2630.9L1268.1 2631.7L1270.6 2631.9L1273.1 2630.7L1275.6 2630.8L1278.1 2631.7L1280.6 2632.4L1283.1 2632L1285.6 2631.3L1288.1 2630.4L1290.6 2630.5L1293.1 2630.5L1295.6 2630.2L1298.1 2630.3L1300.6 2630L1303.1 2630.2L1305.6 2631L1308.1 2630.5L1310.6 2630.7L1313.1 2629.7L1315.6 2629.1L1318.1 2628.5L1320.6 2628.9L1323.1 2629.7L1325.6 2628.8L1328.1 2627.9L1330.6 2628.8L1333.1 2628.1L1335.6 2627.8L1338.1 2627.6L1340.6 2627.1L1343.1 2628.5L1345.6 2628.5L1348.1 2627.5L1350.6 2627.3L1353.1 2626.8L1355.6 2626.4L1358.1 2626.1L1360.6 2625.5L1363.1 2625.6L1365.6 2626L1368.1 2626.5L1370.6 2625.4L1373.1 2626L1375.6 2625.9L1378.1 2625.1L1380.6 2624.8L1383.1 2625.7L1385.6 2625.5L1388.1 2624.3L1390.6 2623.8L1393.1 2624L1395.6 2624.2L1398.1 2623L1400.6 2622.9L1403.1 2622.8L1405.6 2621.1L1408.1 2620.6L1410.6 2620L1413.1 2618.3L1415.6 2616.8L1418.1 2615.5L1420.6 2615.4L1423.1 2614.7L1425.6 2615L1428.1 2615.4L1430.6 2615.4L1433.1 2616L1435.6 2616.2L1438.1 2616.1L1440.6 2616.1L1443.1 2615.3L1445.6 2614.5L1448.1 2615.8L1450.6 2616.1L1453.1 2615.4L1455.6 2615.4L1458.1 2616.1L1460.6 2615.5L1463.1 2614.8L1465.6 2614.6L1468.1 2614.4L1470.6 2611.5L1473.1 2608.8L1475.6 2607.9L1478.1 2605.8L1480.6 2603.7L1483.1 2602.5L1485.6 2600.9L1488.1 2599.1L1490.6 2596.3L1493.1 2593.8L1495.6 2590.4L1498.1 2586.5L1500.6 2583.4L1503.1 2580.3L1505.6 2576.1L1508.1 2571.8L1510.6 2569.3L1513.1 2567.2L1515.6 2564.7L1518.1 2561.4L1520.6 2558.7L1523.1 2555.4L1525.6 2552.6L1528.1 2550.3L1530.6 2548.6L1533.1 2547.5L1535.6 2547.1L1538.1 2546.8L1540.6 2547.4L1543.1 2549.2L1545.6 2551.2L1548.1 2553.1L1550.6 2555.8L1553.1 2558.7L1555.6 2561.6L1558.1 2563.5L1560.6 2566.7L1563.1 2567.7L1565.6 2570.5L1568.1 2575.1L1570.6 2578.9L1573.1 2583.3L1575.6 2587.6L1578.1 2591.4L1580.6 2595.5L1583.1 2599.9L1585.6 2603.8L1588.1 2606.4L1590.6 2608L1593.1 2609.5L1595.6 2611.2L1598.1 2611.6L1600.6 2613.9L1603.1 2616.5L1605.6 2618.2L1608.1 2619.3L1610.6 2620.4L1613.1 2621.1L1615.6 2621.1L1618.1 2620.9L1620.6 2622.3L1623.1 2623.9L1625.6 2625.2L1628.1 2625.1L1630.6 2625.5L1633.1 2626.1L1635.6 2626L1638.1 2626.6L1640.6 2627.2L1643.1 2627.2L1645.6 2627.1L1648.1 2626.5L1650.6 2627L1653.1 2628.1L1655.6 2629L1658.1 2628.5L1660.6 2628.2L1663.1 2628.6L1665.6 2629.3L1668.1 2628.9L1670.6 2629.4L1673.1 2629.7L1675.6 2629.8L1678.1 2629.8L1680.6 2630.5L1683.1 2631.1L1685.6 2630.5L1688.1 2629.7L1690.6 2629.2L1693.1 2630.3L1695.6 2630.6L1698.1 2630.9L1700.6 2630.8L1703.1 2630.3L1705.6 2630.1L1708.1 2630.4L1710.6 2632L1713.1 2632.1L1715.6 2631.9L1718.1 2632.2L1720.6 2632.3L1723.1 2632.1L1725.6 2632.4L1728.1 2632.4L1730.6 2630.7L1733.1 2630.8L1735.6 2630.9L1738.1 2630.6L1740.6 2629.6L1743.1 2630.3L1745.6 2631.3L1748.1 2630.9L1750.6 2631.2L1753.1 2631L1755.6 2630.8L1758.1 2630.4L1760.6 2630.5L1763.1 2630.6L1765.6 2631.1L1768.1 2630.7L1770.6 2631.3L1773.1 2631.3L1775.6 2631.7L1778.1 2632.3L1780.6 2631.6L1783.1 2631.3L1785.6 2631.7L1788.1 2632L1790.6 2631.9L1793.1 2632.6L1795.6 2632.1L1798.1 2631.5L1800.6 2631.3L1803.1 2631.7L1805.6 2632.3L1808.1 2632.6L1810.6 2632L1813.1 2631.6L1815.6 2631.4L1818.1 2631L1820.6 2632.3L1823.1 2632.6L1825.6 2632.2L1828.1 2632.2L1830.6 2632L1833.1 2632.9L1835.6 2632.3L1838.1 2632.3L1840.6 2633.1L1843.1 2632.2L1845.6 2632.2L1848.1 2631.8L1850.6 2631.8L1853.1 2632L1855.6 2632.3L1858.1 2633.4L1860.6 2633.3L1863.1 2632.9L1865.6 2633.7L1868.1 2632.9L1870.6 2632.5L1873.1 2632.5L1875.6 2632.3L1878.1 2632.9L1880.6 2632.1L1883.1 2631.9L1885.6 2632.7L1888.1 2632.2L1890.6 2632L1893.1 2631.7L1895.6 2632.1L1898.1 2632L1900.6 2631.2L1903.1 2631.9L1905.6 2632.4L1908.1 2633.6L1910.6 2634.1L1913.1 2633.4L1915.6 2633.3L1918.1 2633.5L1920.6 2633.1L1923.1 2631.7L1925.6 2631.5L1928.1 2631.8L1930.6 2631.6L1933.1 2632.1L1935.6 2632.4L1938.1 2632.3L1940.6 2633L1943.1 2633.5L1945.6 2633L1948.1 2632.9L1950.6 2632.7L1953.1 2632.5L1955.6 2632.1L1958.1 2632L1960.6 2632.9L1963.1 2633.4L1965.6 2632.9L1968.1 2632.4L1970.6 2631.9L1973.1 2632.3L1975.6 2632.8L1978.1 2632.7L1980.6 2632.5L1983.1 2631.9L1985.6 2631.7L1988.1 2632.6L1990.6 2633.4L1993.1 2632.5L1995.6 2631.7L1998.1 2632L2000.6 2632.7L2003.1 2633.6L2005.6 2633.4L2008.1 2632.3L2010.6 2632L2013.1 2632.4L2015.6 2632.5L2018.1 2632.4L2020.6 2633L2023.1 2632.7L2025.6 2632.8L2028.1 2632.8L2030.6 2633L2033.1 2632.9L2035.6 2633.1L2038.1 2633.6L2040.6 2633.4L2043.1 2633.4L2045.6 2632.3L2048.1 2632.2L2050.6 2631.8L2053.1 2631.8L2055.6 2632.8L2058.1 2633.9L2060.6 2633.5L2063.1 2633L2065.6 2632L2068.1 2632.3L2070.6 2632.2L2073.1 2632.9L2075.6 2633.3L2078.1 2632.9L2080.6 2633.1L2083.1 2632.6L2085.6 2632.6L2088.1 2632.4L2090.6 2632.6L2093.1 2632.2L2095.6 2631.4L2098.1 2632L2100.6 2632.7L2103.1 2633.1L2105.6 2631.7L2108.1 2632.5L2110.6 2633.6L2113.1 2634.2L2115.6 2633.9L2118.1 2633.3L2120.6 2633.5L2123.1 2632.9L2125.6 2632.6L2128.1 2632.5L2130.6 2632.8L2133.1 2633.2L2135.6 2631.8L2138.1 2631.8L2140.6 2633.1L2143.1 2633.4L2145.6 2633.3L2148.1 2632.9L2150.6 2633L2153.1 2632.6L2155.6 2632.3L2158.1 2632.4L2160.6 2632.7L2163.1 2632.7L2165.6 2632.8L2168.1 2633.6L2170.6 2633.2L2173.1 2632.3L2175.6 2631.6" fill="none" stroke="#1B6BDD" stroke-width="8.8" stroke-linejoin="round"/>
<path d="M190.6 2777.7L193.1 2784.3L195.6 2790.4L198.1 2794.6L200.6 2798.1L203.1 2800.2L205.6 2801.3L208.1 2803.7L210.6 2805.9L213.1 2809.3L215.6 2811.5L218.1 2813.2L220.6 2815.7L223.1 2817.8L225.6 2819.3L228.1 2820.5L230.6 2821.2L233.1 2822.2L235.6 2822.2L238.1 2821.7L240.6 2821.1L243.1 2821.4L245.6 2822.5L248.1 2823.3L250.6 2823.3L253.1 2822.2L255.6 2821.8L258.1 2821.2L260.6 2820.6L263.1 2820L265.6 2820.7L268.1 2820.1L270.6 2819.7L273.1 2819.5L275.6 2818.8L278.1 2818.3L280.6 2819.5L283.1 2819.5L285.6 2819L288.1 2818.1L290.6 2817.3L293.1 2817.4L295.6 2818.3L298.1 2818.6L300.6 2818.7L303.1 2819.7L305.6 2819.6L308.1 2820L310.6 2820.2L313.1 2820.3L315.6 2821.8L318.1 2822.5L320.6 2822.9L323.1 2824.8L325.6 2826.5L328.1 2827.5L330.6 2828L333.1 2827.8L335.6 2829L338.1 2830.3L340.6 2831.8L343.1 2833.4L345.6 2835L348.1 2835.8L350.6 2836.3L353.1 2838L355.6 2839.2L358.1 2839L360.6 2838.6L363.1 2839.5L365.6 2840.3L368.1 2840.5L370.6 2841.4L373.1 2842L375.6 2843.5L378.1 2844.2L380.6 2844L383.1 2843.9L385.6 2844.7L388.1 2844.9L390.6 2845.4L393.1 2846.4L395.6 2845.9L398.1 2846L400.6 2847.6L403.1 2848.9L405.6 2849.2L408.1 2849.3L410.6 2849.7L413.1 2849.4L415.6 2850.6L418.1 2850.9L420.6 2850L423.1 2849.8L425.6 2849.3L428.1 2849.7L430.6 2850.6L433.1 2850.5L435.6 2851.2L438.1 2851.8L440.6 2852.1L443.1 2852.9L445.6 2853.4L448.1 2853L450.6 2853.4L453.1 2853.5L455.6 2852.6L458.1 2851.9L460.6 2851.5L463.1 2853L465.6 2853.8L468.1 2854L470.6 2854.7L473.1 2854.6L475.6 2853.8L478.1 2852.8L480.6 2852L483.1 2852L485.6 2851.8L488.1 2851L490.6 2850.3L493.1 2849.8L495.6 2849.4L498.1 2848.1L500.6 2848L503.1 2848.3L505.6 2848.5L508.1 2848.2L510.6 2847.4L513.1 2846.6L515.6 2846.5L518.1 2847.3L520.6 2847.2L523.1 2846.4L525.6 2845.6L528.1 2845.4L530.6 2846.3L533.1 2846L535.6 2846.2L538.1 2846.3L540.6 2844.8L543.1 2844.8L545.6 2845.7L548.1 2845.9L550.6 2845.7L553.1 2846.3L555.6 2846.8L558.1 2847.6L560.6 2848.8L563.1 2849.8L565.6 2850.9L568.1 2851.5L570.6 2852L573.1 2851.5L575.6 2851.6L578.1 2850.8L580.6 2850.5L583.1 2851.2L585.6 2852.4L588.1 2852.4L590.6 2851.9L593.1 2853.3L595.6 2853.5L598.1 2852.9L600.6 2852.8L603.1 2852.8L605.6 2853L608.1 2854.3L610.6 2853.5L613.1 2853.2L615.6 2853.2L618.1 2853L620.6 2853.1L623.1 2853.5L625.6 2853L628.1 2853L630.6 2853.5L633.1 2854.2L635.6 2853.6L638.1 2853.5L640.6 2854L643.1 2853.7L645.6 2854.2L648.1 2855L650.6 2854.9L653.1 2855L655.6 2855.4L658.1 2854.6L660.6 2853.9L663.1 2853.6L665.6 2854.5L668.1 2855L670.6 2855L673.1 2856L675.6 2856L678.1 2855.4L680.6 2854.5L683.1 2854.9L685.6 2854.8L688.1 2853.9L690.6 2854.5L693.1 2854.5L695.6 2854.1L698.1 2855.3L700.6 2856.4L703.1 2855.7L705.6 2854.6L708.1 2854.9L710.6 2855.3L713.1 2854.7L715.6 2854.9L718.1 2854.9L720.6 2855.2L723.1 2855.4L725.6 2854.3L728.1 2855L730.6 2854.8L733.1 2854.1L735.6 2853.4L738.1 2854L740.6 2853.4L743.1 2852L745.6 2852.3L748.1 2852.7L750.6 2852.8L753.1 2853L755.6 2853.3L758.1 2854.4L760.6 2854.3L763.1 2853.8L765.6 2854.4L768.1 2854.7L770.6 2853.4L773.1 2852.3L775.6 2853L778.1 2853.3L780.6 2852.3L783.1 2852.4L785.6 2853.1L788.1 2853.3L790.6 2852.9L793.1 2852.4L795.6 2851.8L798.1 2851.7L800.6 2852.4L803.1 2852.3L805.6 2851.4L808.1 2851.3L810.6 2852.2L813.1 2852L815.6 2850.7L818.1 2850.2L820.6 2851L823.1 2851.8L825.6 2851.9L828.1 2851.4L830.6 2850.3L833.1 2850.6L835.6 2850.6L838.1 2850.9L840.6 2852.2L843.1 2851.5L845.6 2851L848.1 2851L850.6 2851.6L853.1 2851.9L855.6 2851.3L858.1 2851.2L860.6 2851.1L863.1 2851L865.6 2851.7L868.1 2852.3L870.6 2852.3L873.1 2852L875.6 2851.7L878.1 2852.9L880.6 2853.7L883.1 2854.3L885.6 2853.4L888.1 2852.7L890.6 2852.7L893.1 2853.7L895.6 2854.5L898.1 2854.7L900.6 2854.2L903.1 2854.9L905.6 2856L908.1 2855.9L910.6 2855.6L913.1 2855.4L915.6 2854.8L918.1 2855L920.6 2855.9L923.1 2857.2L925.6 2857.2L928.1 2856.7L930.6 2856.8L933.1 2857L935.6 2857L938.1 2856.3L940.6 2856.6L943.1 2856.7L945.6 2855.8L948.1 2856.1L950.6 2856.6L953.1 2856.8L955.6 2856.9L958.1 2857.1L960.6 2857.4L963.1 2857.5L965.6 2857.3L968.1 2857.6L970.6 2856.5L973.1 2856.3L975.6 2856.4L978.1 2855.7L980.6 2855.1L983.1 2855.6L985.6 2856.6L988.1 2856L990.6 2855.9L993.1 2857.3L995.6 2857L998.1 2856.4L1000.6 2855.9L1003.1 2856.3L1005.6 2856.2L1008.1 2856.4L1010.6 2856.4L1013.1 2856.3L1015.6 2856.3L1018.1 2855.8L1020.6 2855.8L1023.1 2855.9L1025.6 2856.6L1028.1 2857L1030.6 2856.6L1033.1 2855.8L1035.6 2856.9L1038.1 2856.6L1040.6 2856.3L1043.1 2856.3L1045.6 2856.6L1048.1 2857.1L1050.6 2856.8L1053.1 2856.8L1055.6 2857.2L1058.1 2857.1L1060.6 2855.8L1063.1 2855.1L1065.6 2854.6L1068.1 2855L1070.6 2856.2L1073.1 2856.5L1075.6 2856.5L1078.1 2856.7L1080.6 2856.9L1083.1 2857.5L1085.6 2857.5L1088.1 2856.6L1090.6 2857.3L1093.1 2857.1L1095.6 2856.2L1098.1 2856.3L1100.6 2855.8L1103.1 2855.4L1105.6 2855.8L1108.1 2855.5L1110.6 2855.9L1113.1 2855.8L1115.6 2856.2L1118.1 2856.8L1120.6 2856.5L1123.1 2856L1125.6 2856.5L1128.1 2857L1130.6 2856.9L1133.1 2856.4L1135.6 2856.9L1138.1 2856.4L1140.6 2856.3L1143.1 2857.1L1145.6 2857.1L1148.1 2857L1150.6 2856.3L1153.1 2855.5L1155.6 2856.4L1158.1 2856.8L1160.6 2856.8L1163.1 2857.4L1165.6 2857.2L1168.1 2857.7L1170.6 2857.3L1173.1 2856.1L1175.6 2855.8L1178.1 2856.1L1180.6 2856.5L1183.1 2856.7L1185.6 2856L1188.1 2856.2L1190.6 2857.5L1193.1 2857L1195.6 2857L1198.1 2857.5L1200.6 2856.4L1203.1 2855.3L1205.6 2856.1L1208.1 2856.3L1210.6 2856.5L1213.1 2855.6L1215.6 2856.3L1218.1 2857.2L1220.6 2857.5L1223.1 2857.4L1225.6 2857.1L1228.1 2856.5L1230.6 2856.1L1233.1 2855.9L1235.6 2856.9L1238.1 2857.4L1240.6 2856.6L1243.1 2855.5L1245.6 2855L1248.1 2855.8L1250.6 2856.8L1253.1 2856.2L1255.6 2855.3L1258.1 2855.6L1260.6 2856.1L1263.1 2855.5L1265.6 2855.2L1268.1 2855.1L1270.6 2855.4L1273.1 2856.3L1275.6 2855.5L1278.1 2855.7L1280.6 2856L1283.1 2855.4L1285.6 2854.9L1288.1 2855L1290.6 2855L1293.1 2854.8L1295.6 2854.5L1298.1 2854.5L1300.6 2855.1L1303.1 2855.6L1305.6 2854.8L1308.1 2854.8L1310.6 2854.2L1313.1 2853.4L1315.6 2853.4L1318.1 2853.7L1320.6 2853.4L1323.1 2853.8L1325.6 2853.9L1328.1 2854.3L1330.6 2853.5L1333.1 2854.1L1335.6 2854.4L1338.1 2853.8L1340.6 2853L1343.1 2853L1345.6 2852.9L1348.1 2852.7L1350.6 2852.9L1353.1 2852.5L1355.6 2852.5L1358.1 2852.7L1360.6 2852L1363.1 2851.6L1365.6 2851.5L1368.1 2850.7L1370.6 2849.8L1373.1 2850.3L1375.6 2850.4L1378.1 2849.6L1380.6 2849L1383.1 2849.4L1385.6 2848.9L1388.1 2848.7L1390.6 2848.4L1393.1 2848L1395.6 2846.9L1398.1 2846.2L1400.6 2845.5L1403.1 2844.1L1405.6 2843.6L1408.1 2842.2L1410.6 2839.5L1413.1 2838.4L1415.6 2838.4L1418.1 2838L1420.6 2835.9L1423.1 2834L1425.6 2833.3L1428.1 2833.8L1430.6 2833.8L1433.1 2833.4L1435.6 2833.5L1438.1 2833.5L1440.6 2833.7L1443.1 2832.7L1445.6 2833L1448.1 2833.7L1450.6 2832.9L1453.1 2832.5L1455.6 2833.2L1458.1 2834.1L1460.6 2833.8L1463.1 2833.6L1465.6 2832.5L1468.1 2832.1L1470.6 2831.5L1473.1 2829.7L1475.6 2826.9L1478.1 2824.2L1480.6 2823.3L1483.1 2821.8L1485.6 2819.5L1488.1 2816.7L1490.6 2814.8L1493.1 2813.6L1495.6 2812.2L1498.1 2811.3L1500.6 2809.1L1503.1 2807.6L1505.6 2805.9L1508.1 2804.7L1510.6 2804.6L1513.1 2803.2L1515.6 2801.4L1518.1 2800.1L1520.6 2798.7L1523.1 2798.9L1525.6 2797.3L1528.1 2796.1L1530.6 2796.4L1533.1 2797.4L1535.6 2798L1538.1 2798.9L1540.6 2799.7L1543.1 2800.4L1545.6 2801.3L1548.1 2801.5L1550.6 2803.5L1553.1 2805.3L1555.6 2806.5L1558.1 2807.6L1560.6 2808.7L1563.1 2809.9L1565.6 2811.3L1568.1 2814.4L1570.6 2818.4L1573.1 2821.5L1575.6 2823.7L1578.1 2826.4L1580.6 2829.4L1583.1 2832.3L1585.6 2834.9L1588.1 2837L1590.6 2838.1L1593.1 2837.5L1595.6 2838.5L1598.1 2840.1L1600.6 2841.5L1603.1 2843L1605.6 2844.1L1608.1 2844L1610.6 2844.9L1613.1 2845.5L1615.6 2846.1L1618.1 2846.9L1620.6 2847.6L1623.1 2847.5L1625.6 2847.4L1628.1 2848.3L1630.6 2848.5L1633.1 2847.9L1635.6 2848.6L1638.1 2848.7L1640.6 2848.7L1643.1 2849.2L1645.6 2849.6L1648.1 2848.4L1650.6 2848.4L1653.1 2848.1L1655.6 2849L1658.1 2849.4L1660.6 2848.7L1663.1 2849.7L1665.6 2849.9L1668.1 2849.5L1670.6 2849.4L1673.1 2849.6L1675.6 2849.7L1678.1 2850L1680.6 2850.6L1683.1 2850.4L1685.6 2849.8L1688.1 2850.8L1690.6 2851.7L1693.1 2851.5L1695.6 2850.4L1698.1 2849.3L1700.6 2849.7L1703.1 2850.2L1705.6 2850.1L1708.1 2849.8L1710.6 2850.8L1713.1 2850.9L1715.6 2849.9L1718.1 2849.8L1720.6 2850.1L1723.1 2850.9L1725.6 2851.1L1728.1 2850.3L1730.6 2851.7L1733.1 2851.7L1735.6 2850.9L1738.1 2852.1L1740.6 2852.3L1743.1 2851.9L1745.6 2851.4L1748.1 2851L1750.6 2851.3L1753.1 2851.1L1755.6 2851.6L1758.1 2852.1L1760.6 2851.5L1763.1 2851.3L1765.6 2852.1L1768.1 2852.6L1770.6 2852.5L1773.1 2852.2L1775.6 2852.9L1778.1 2853.1L1780.6 2852.2L1783.1 2851.9L1785.6 2851.1L1788.1 2851.4L1790.6 2851.5L1793.1 2851.8L1795.6 2851.4L1798.1 2850.9L1800.6 2851.9L1803.1 2852.1L1805.6 2853.1L1808.1 2853.5L1810.6 2853L1813.1 2852.5L1815.6 2852.3L1818.1 2851.7L1820.6 2852.5L1823.1 2853.2L1825.6 2853L1828.1 2852.5L1830.6 2853.4L1833.1 2853.1L1835.6 2852.4L1838.1 2852.6L1840.6 2852.2L1843.1 2852.4L1845.6 2853.2L1848.1 2854.4L1850.6 2854.4L1853.1 2852.6L1855.6 2852.6L1858.1 2853L1860.6 2853.4L1863.1 2853.2L1865.6 2852.8L1868.1 2853L1870.6 2852.6L1873.1 2852.6L1875.6 2853.3L1878.1 2853.3L1880.6 2853L1883.1 2853.4L1885.6 2853L1888.1 2852.7L1890.6 2853.2L1893.1 2853.5L1895.6 2853.4L1898.1 2854L1900.6 2853.6L1903.1 2853.7L1905.6 2853.9L1908.1 2853.5L1910.6 2853.1L1913.1 2853.4L1915.6 2854.3L1918.1 2854.6L1920.6 2854.1L1923.1 2853.3L1925.6 2852.8L1928.1 2853L1930.6 2853.3L1933.1 2853.7L1935.6 2853.6L1938.1 2853.4L1940.6 2853.8L1943.1 2853.5L1945.6 2853.5L1948.1 2853.6L1950.6 2854.3L1953.1 2854.3L1955.6 2854.3L1958.1 2854.7L1960.6 2854.4L1963.1 2853.4L1965.6 2853.5L1968.1 2853.2L1970.6 2853.3L1973.1 2853.3L1975.6 2852.8L1978.1 2853L1980.6 2853.8L1983.1 2854.2L1985.6 2854.3L1988.1 2853.9L1990.6 2853.7L1993.1 2853.7L1995.6 2853.6L1998.1 2853.6L2000.6 2853.7L2003.1 2853.3L2005.6 2853L2008.1 2853L2010.6 2853.7L2013.1 2853.6L2015.6 2853.8L2018.1 2853.9L2020.6 2853.7L2023.1 2854L2025.6 2854.2L2028.1 2853.7L2030.6 2853.3L2033.1 2854.4L2035.6 2854.8L2038.1 2854.9L2040.6 2855.1L2043.1 2854.3L2045.6 2855.1L2048.1 2854.7L2050.6 2854.9L2053.1 2854.9L2055.6 2854L2058.1 2854.1L2060.6 2854.1L2063.1 2854.1L2065.6 2853.9L2068.1 2855L2070.6 2854.8L2073.1 2854.1L2075.6 2854L2078.1 2854.8L2080.6 2854.4L2083.1 2854.4L2085.6 2853.9L2088.1 2854L2090.6 2853.4L2093.1 2853.9L2095.6 2853.6L2098.1 2853.8L2100.6 2854.8L2103.1 2854.8L2105.6 2854L2108.1 2854L2110.6 2854.5L2113.1 2853.6L2115.6 2853.7L2118.1 2853.9L2120.6 2854.2L2123.1 2854.3L2125.6 2854L2128.1 2853.7L2130.6 2854.3L2133.1 2854.6L2135.6 2854.5L2138.1 2855.1L2140.6 2854.5L2143.1 2854.7L2145.6 2855.4L2148.1 2854.6L2150.6 2854L2153.1 2853.5L2155.6 2854L2158.1 2854.2L2160.6 2854.2L2163.1 2854.1L2165.6 2854.9L2168.1 2855.1L2170.6 2854.9L2173.1 2854L2175.6 2853" fill="none" stroke="#EC3F43" stroke-width="8.8" stroke-linejoin="round"/>
<path d="M190.6 2978.7L193.1 2982.9L195.6 2986.6L198.1 2989.5L200.6 2991.5L203.1 2992.3L205.6 2993.7L208.1 2994.6L210.6 2995.3L213.1 2996.8L215.6 2998.3L218.1 2998.9L220.6 3000.1L223.1 3001.4L225.6 3001.8L228.1 3002.1L230.6 3002.2L233.1 3001.9L235.6 3001.7L238.1 3002.8L240.6 3002.6L243.1 3003.3L245.6 3003.7L248.1 3004.1L250.6 3004.4L253.1 3004.6L255.6 3005.1L258.1 3004.8L260.6 3005.3L263.1 3005.2L265.6 3006.3L268.1 3006.4L270.6 3007L273.1 3007.4L275.6 3006.2L278.1 3006.9L280.6 3008.1L283.1 3008.9L285.6 3009.3L288.1 3009.2L290.6 3009.2L293.1 3009.3L295.6 3009.6L298.1 3009.9L300.6 3010.6L303.1 3010.7L305.6 3011.4L308.1 3012.2L310.6 3012.2L313.1 3011.7L315.6 3012.1L318.1 3012.7L320.6 3012.2L323.1 3011.8L325.6 3012.8L328.1 3014L330.6 3014.3L333.1 3014.7L335.6 3015.3L338.1 3015.5L340.6 3016.9L343.1 3016.6L345.6 3016.7L348.1 3017.6L350.6 3016.7L353.1 3016.7L355.6 3017.1L358.1 3017.1L360.6 3017.8L363.1 3018.6L365.6 3018.8L368.1 3019.1L370.6 3020L373.1 3020.9L375.6 3020.5L378.1 3019.3L380.6 3020.6L383.1 3021.1L385.6 3020.8L388.1 3020.3L390.6 3020.5L393.1 3020.8L395.6 3020.9L398.1 3022.3L400.6 3022.6L403.1 3022.1L405.6 3022L408.1 3023.1L410.6 3023.4L413.1 3023.3L415.6 3023.3L418.1 3024.2L420.6 3023.8L423.1 3023.8L425.6 3022.4L428.1 3022.9L430.6 3022.8L433.1 3021.6L435.6 3022L438.1 3022L440.6 3021.9L443.1 3022.1L445.6 3022.2L448.1 3023L450.6 3023.2L453.1 3022.8L455.6 3022.1L458.1 3022.4L460.6 3023.1L463.1 3022.3L465.6 3021.8L468.1 3021.6L470.6 3022L473.1 3022.2L475.6 3022L478.1 3021.6L480.6 3021.3L483.1 3020.8L485.6 3020.5L488.1 3019.8L490.6 3020L493.1 3020.1L495.6 3019.3L498.1 3019.6L500.6 3019.1L503.1 3017.9L505.6 3017L508.1 3016.8L510.6 3017L513.1 3017.5L515.6 3017.5L518.1 3017.8L520.6 3017.6L523.1 3015.5L525.6 3013.9L528.1 3013.6L530.6 3013.6L533.1 3014.4L535.6 3015.5L538.1 3016.5L540.6 3016.3L543.1 3017.2L545.6 3018.4L548.1 3019.3L550.6 3020.5L553.1 3022.3L555.6 3022.3L558.1 3022.7L560.6 3023.5L563.1 3023.8L565.6 3024.1L568.1 3023L570.6 3023L573.1 3023.2L575.6 3023.6L578.1 3024L580.6 3023.2L583.1 3022.6L585.6 3023.3L588.1 3023.5L590.6 3024.2L593.1 3024.7L595.6 3025.5L598.1 3024.8L600.6 3024L603.1 3024.6L605.6 3025L608.1 3024.7L610.6 3024.4L613.1 3024.2L615.6 3024.1L618.1 3024.2L620.6 3025.2L623.1 3024.8L625.6 3024.2L628.1 3025.1L630.6 3025L633.1 3025L635.6 3025.2L638.1 3025.1L640.6 3023.9L643.1 3024.6L645.6 3025.2L648.1 3024.7L650.6 3023.8L653.1 3024L655.6 3025.2L658.1 3025.5L660.6 3024.2L663.1 3024.4L665.6 3025.2L668.1 3025.4L670.6 3025.8L673.1 3026.1L675.6 3025.6L678.1 3024.4L680.6 3024.5L683.1 3024.5L685.6 3025.3L688.1 3026.3L690.6 3026.6L693.1 3027.1L695.6 3026.7L698.1 3026.4L700.6 3025.9L703.1 3025.1L705.6 3025.2L708.1 3025.7L710.6 3025.9L713.1 3025.5L715.6 3024.5L718.1 3024.1L720.6 3024.6L723.1 3025.9L725.6 3025.5L728.1 3025.5L730.6 3025.1L733.1 3024.8L735.6 3024.6L738.1 3024.6L740.6 3024.9L743.1 3024.9L745.6 3024.1L748.1 3024.3L750.6 3024.3L753.1 3024.4L755.6 3025L758.1 3025.2L760.6 3023.9L763.1 3024.3L765.6 3025L768.1 3024.5L770.6 3023.5L773.1 3023.9L775.6 3023.8L778.1 3023.8L780.6 3024L783.1 3023.4L785.6 3023.9L788.1 3024.1L790.6 3023.3L793.1 3023.4L795.6 3024.4L798.1 3023.7L800.6 3023.9L803.1 3023.4L805.6 3023.3L808.1 3023.2L810.6 3023.4L813.1 3023.2L815.6 3022.7L818.1 3023.2L820.6 3023.6L823.1 3022.5L825.6 3021.9L828.1 3022.8L830.6 3022.9L833.1 3023.2L835.6 3022.9L838.1 3022.7L840.6 3023L843.1 3023.4L845.6 3023.2L848.1 3022.3L850.6 3022L853.1 3022.5L855.6 3023.7L858.1 3023.4L860.6 3022.8L863.1 3023.2L865.6 3023.8L868.1 3022.9L870.6 3023.1L873.1 3023.9L875.6 3024.1L878.1 3023.8L880.6 3023.1L883.1 3022.8L885.6 3022.1L888.1 3022.7L890.6 3023L893.1 3023.4L895.6 3024.1L898.1 3023.7L900.6 3023.7L903.1 3024.4L905.6 3024.8L908.1 3023.8L910.6 3024L913.1 3023.5L915.6 3022.9L918.1 3023.4L920.6 3024L923.1 3023.9L925.6 3023.8L928.1 3024L930.6 3023.9L933.1 3023.8L935.6 3023.7L938.1 3023.9L940.6 3023.2L943.1 3023.9L945.6 3024.2L948.1 3024.5L950.6 3023.5L953.1 3023.1L955.6 3024.6L958.1 3025L960.6 3024L963.1 3024.7L965.6 3024.9L968.1 3024.5L970.6 3024.9L973.1 3024.8L975.6 3025.7L978.1 3025.9L980.6 3025.1L983.1 3024.9L985.6 3024.8L988.1 3024.1L990.6 3024.6L993.1 3025.7L995.6 3027L998.1 3026.7L1000.6 3025.8L1003.1 3025.3L1005.6 3025.7L1008.1 3025.6L1010.6 3025L1013.1 3025.1L1015.6 3024.9L1018.1 3024.7L1020.6 3024.3L1023.1 3026.1L1025.6 3025.8L1028.1 3025.3L1030.6 3025.2L1033.1 3025.1L1035.6 3026.1L1038.1 3027.1L1040.6 3026.8L1043.1 3026.3L1045.6 3026.4L1048.1 3026.5L1050.6 3026.3L1053.1 3026.2L1055.6 3026.6L1058.1 3026.8L1060.6 3026.6L1063.1 3026.6L1065.6 3025.9L1068.1 3025.3L1070.6 3025.6L1073.1 3026.7L1075.6 3026.7L1078.1 3026.8L1080.6 3026.6L1083.1 3026.9L1085.6 3027L1088.1 3026.4L1090.6 3027L1093.1 3028.5L1095.6 3028.9L1098.1 3028L1100.6 3027.5L1103.1 3027L1105.6 3027L1108.1 3028.1L1110.6 3028.6L1113.1 3028.3L1115.6 3028L1118.1 3027.7L1120.6 3028.4L1123.1 3028.2L1125.6 3027.8L1128.1 3028.2L1130.6 3027.5L1133.1 3027.3L1135.6 3027.7L1138.1 3027.3L1140.6 3027.4L1143.1 3028.3L1145.6 3028.3L1148.1 3028.1L1150.6 3028.5L1153.1 3028.6L1155.6 3028.9L1158.1 3029.1L1160.6 3028.7L1163.1 3028L1165.6 3028.6L1168.1 3028.6L1170.6 3028.6L1173.1 3028.6L1175.6 3028.8L1178.1 3028.4L1180.6 3028.2L1183.1 3028.5L1185.6 3028.1L1188.1 3027.6L1190.6 3028L1193.1 3028.1L1195.6 3028.1L1198.1 3028L1200.6 3027.8L1203.1 3028.3L1205.6 3029.6L1208.1 3028.4L1210.6 3028.3L1213.1 3028.2L1215.6 3027.7L1218.1 3027.5L1220.6 3027.1L1223.1 3027.4L1225.6 3028.4L1228.1 3027.5L1230.6 3027.4L1233.1 3027.9L1235.6 3027.4L1238.1 3028.2L1240.6 3028.1L1243.1 3028.1L1245.6 3027.1L1248.1 3027L1250.6 3027.5L1253.1 3027L1255.6 3026.8L1258.1 3027.4L1260.6 3026.9L1263.1 3026.3L1265.6 3026.6L1268.1 3026.8L1270.6 3026.9L1273.1 3027.7L1275.6 3027L1278.1 3026.2L1280.6 3026.3L1283.1 3026.3L1285.6 3025.5L1288.1 3025.3L1290.6 3025.3L1293.1 3025L1295.6 3024.3L1298.1 3023.1L1300.6 3023.8L1303.1 3024.6L1305.6 3024.8L1308.1 3024L1310.6 3024L1313.1 3023.9L1315.6 3024.2L1318.1 3025.1L1320.6 3025.1L1323.1 3024.4L1325.6 3022.8L1328.1 3022.4L1330.6 3022.7L1333.1 3022.3L1335.6 3023.3L1338.1 3023.9L1340.6 3022L1343.1 3021.8L1345.6 3021.4L1348.1 3020.9L1350.6 3019.8L1353.1 3018.6L1355.6 3018.3L1358.1 3017.6L1360.6 3016.9L1363.1 3016.9L1365.6 3016.3L1368.1 3015.2L1370.6 3014.9L1373.1 3014.1L1375.6 3013.1L1378.1 3010.9L1380.6 3007.8L1383.1 3005.2L1385.6 3000.8L1388.1 2996.4L1390.6 2992.2L1393.1 2989.3L1395.6 2987.5L1398.1 2985L1400.6 2983.7L1403.1 2982.5L1405.6 2980.3L1408.1 2978.9L1410.6 2977.8L1413.1 2978.1L1415.6 2979.1L1418.1 2980.5L1420.6 2982.3L1423.1 2983.7L1425.6 2985.5L1428.1 2987.3L1430.6 2988.5L1433.1 2989.6L1435.6 2991.1L1438.1 2991.4L1440.6 2992.1L1443.1 2993.6L1445.6 2994.7L1448.1 2993.9L1450.6 2993.4L1453.1 2992.9L1455.6 2991.8L1458.1 2990.6L1460.6 2990.3L1463.1 2989.4L1465.6 2987.9L1468.1 2986.1L1470.6 2984L1473.1 2982.4L1475.6 2980L1478.1 2977.4L1480.6 2975.2L1483.1 2972.7L1485.6 2970.7L1488.1 2969.1L1490.6 2968.2L1493.1 2966.7L1495.6 2965.6L1498.1 2964L1500.6 2963.6L1503.1 2963.1L1505.6 2962L1508.1 2960.9L1510.6 2960.8L1513.1 2961.4L1515.6 2962L1518.1 2962.7L1520.6 2963.4L1523.1 2965L1525.6 2967.1L1528.1 2969L1530.6 2971L1533.1 2972.8L1535.6 2973.8L1538.1 2974.8L1540.6 2976.5L1543.1 2978.1L1545.6 2979.1L1548.1 2981.6L1550.6 2983.4L1553.1 2984.5L1555.6 2986.4L1558.1 2988.6L1560.6 2991.2L1563.1 2993.2L1565.6 2994.3L1568.1 2996L1570.6 3000.4L1573.1 3002.4L1575.6 3002.8L1578.1 3003.4L1580.6 3004.8L1583.1 3006.3L1585.6 3008.6L1588.1 3009.3L1590.6 3009.2L1593.1 3010.7L1595.6 3011.6L1598.1 3012.5L1600.6 3012.7L1603.1 3012.6L1605.6 3013.6L1608.1 3015.4L1610.6 3016.9L1613.1 3018L1615.6 3018.3L1618.1 3018L1620.6 3018.4L1623.1 3018.9L1625.6 3019.3L1628.1 3019.9L1630.6 3019.8L1633.1 3020.2L1635.6 3020.7L1638.1 3021.3L1640.6 3022.2L1643.1 3022.2L1645.6 3022.4L1648.1 3022.6L1650.6 3022.9L1653.1 3023.5L1655.6 3023.1L1658.1 3023.4L1660.6 3024.1L1663.1 3024.2L1665.6 3024.1L1668.1 3023.8L1670.6 3023.6L1673.1 3024.2L1675.6 3024.6L1678.1 3025.3L1680.6 3024.8L1683.1 3023.8L1685.6 3024.7L1688.1 3025.3L1690.6 3025.1L1693.1 3025.2L1695.6 3025.3L1698.1 3025.1L1700.6 3024.6L1703.1 3025.2L1705.6 3025.6L1708.1 3024.7L1710.6 3024.6L1713.1 3024L1715.6 3025.2L1718.1 3026.1L1720.6 3025.7L1723.1 3025L1725.6 3026.1L1728.1 3026L1730.6 3025.7L1733.1 3024.8L1735.6 3024.5L1738.1 3024.8L1740.6 3025.3L1743.1 3025.3L1745.6 3024.7L1748.1 3025.4L1750.6 3026L1753.1 3026L1755.6 3025.2L1758.1 3025.3L1760.6 3026.1L1763.1 3025.7L1765.6 3025.2L1768.1 3025.2L1770.6 3025.2L1773.1 3025.3L1775.6 3025.3L1778.1 3025.5L1780.6 3025.3L1783.1 3025L1785.6 3024.9L1788.1 3025.3L1790.6 3025.8L1793.1 3025.8L1795.6 3025.4L1798.1 3026L1800.6 3026.4L1803.1 3025.2L1805.6 3025.2L1808.1 3025.1L1810.6 3025.8L1813.1 3026L1815.6 3025.9L1818.1 3025.4L1820.6 3024.9L1823.1 3024.5L1825.6 3024.9L1828.1 3025.1L1830.6 3024.8L1833.1 3025.3L1835.6 3026.3L1838.1 3025.6L1840.6 3024.8L1843.1 3024.4L1845.6 3025L1848.1 3025.3L1850.6 3025.9L1853.1 3025.2L1855.6 3025L1858.1 3025.2L1860.6 3025.1L1863.1 3025.7L1865.6 3026.4L1868.1 3026.6L1870.6 3026.1L1873.1 3026L1875.6 3027.1L1878.1 3027.6L1880.6 3026.5L1883.1 3025.2L1885.6 3025.7L1888.1 3025.9L1890.6 3026.1L1893.1 3026.5L1895.6 3026.4L1898.1 3025.7L1900.6 3025.7L1903.1 3025.5L1905.6 3026.2L1908.1 3026.9L1910.6 3026.3L1913.1 3026.1L1915.6 3026.6L1918.1 3025.9L1920.6 3025.5L1923.1 3025.8L1925.6 3025.4L1928.1 3025.6L1930.6 3025.5L1933.1 3025.6L1935.6 3026.7L1938.1 3026.3L1940.6 3026.5L1943.1 3026.2L1945.6 3026.5L1948.1 3027L1950.6 3027.2L1953.1 3026.2L1955.6 3025.8L1958.1 3026.1L1960.6 3025.7L1963.1 3025.3L1965.6 3026.1L1968.1 3025.9L1970.6 3025.6L1973.1 3025.7L1975.6 3025.9L1978.1 3025.2L1980.6 3025.7L1983.1 3025.7L1985.6 3025.9L1988.1 3025.9L1990.6 3026.9L1993.1 3026L1995.6 3025.4L1998.1 3025.5L2000.6 3026.3L2003.1 3025.8L2005.6 3025.1L2008.1 3025.7L2010.6 3025.8L2013.1 3025.4L2015.6 3025.9L2018.1 3025.9L2020.6 3026L2023.1 3026.2L2025.6 3025.8L2028.1 3026L2030.6 3025.2L2033.1 3024.7L2035.6 3025.4L2038.1 3026.1L2040.6 3025.9L2043.1 3025.6L2045.6 3026.8L2048.1 3027.1L2050.6 3026.3L2053.1 3026.8L2055.6 3026.5L2058.1 3026.7L2060.6 3027.3L2063.1 3026.5L2065.6 3025L2068.1 3025.4L2070.6 3025.2L2073.1 3025.6L2075.6 3025.9L2078.1 3026.2L2080.6 3026.6L2083.1 3026.3L2085.6 3026L2088.1 3026.1L2090.6 3026.7L2093.1 3027.5L2095.6 3028L2098.1 3026.6L2100.6 3026.1L2103.1 3025.9L2105.6 3025.9L2108.1 3026.3L2110.6 3025.8L2113.1 3025.6L2115.6 3026.7L2118.1 3027.3L2120.6 3026.8L2123.1 3026.8L2125.6 3026.4L2128.1 3025.9L2130.6 3026.3L2133.1 3026.2L2135.6 3026.1L2138.1 3026.8L2140.6 3026.8L2143.1 3027L2145.6 3026.6L2148.1 3026L2150.6 3026L2153.1 3026.4L2155.6 3026.3L2158.1 3026L2160.6 3026.2L2163.1 3025.9L2165.6 3026.4L2168.1 3026.1L2170.6 3024.7L2173.1 3024.9L2175.6 3026" fill="none" stroke="#505050" stroke-width="8.8" stroke-linejoin="round"/>
<line x1="296" y1="1854" x2="306" y2="3060" stroke="#000" stroke-width="5.5" stroke-dasharray="8.8 18.2"/>
<line x1="1510.5" y1="1883" x2="1510.5" y2="3060" stroke="#000" stroke-width="5.5" stroke-dasharray="8.8 18.2"/>
<text transform="translate(217.3 1831.6) scale(1.1314 1)" font-size="63" font-weight="bold" fill="#000" font-family="'Liberation Sans', Arial, sans-serif">PbS(111)</text>
<text transform="translate(1397.2 1843.1) scale(1.1185 1)" font-size="62" font-weight="bold" fill="#000" font-family="'Liberation Sans', Arial, sans-serif">PbS(200)</text>
<text transform="translate(632.5 1798.2) scale(1.1354 1)" font-size="75.4" font-weight="normal" fill="#000" font-family="'Liberation Sans', Arial, sans-serif">(b)</text>
<text transform="translate(1789.7 1778.7) scale(1.1630 1)" font-size="50.3" font-weight="bold" fill="#E6AC30" font-family="'Liberation Sans', Arial, sans-serif">P</text>
<text transform="translate(1827.9 1797.7) scale(1.1332 1)" font-size="50.3" font-weight="bold" fill="#E6AC30" font-family="'Liberation Sans', Arial, sans-serif">He</text>
<text transform="translate(1915.4 1778.7) scale(1.2060 1)" font-size="50.3" font-weight="bold" fill="#E6AC30" font-family="'Liberation Sans', Arial, sans-serif">=</text>
<text transform="translate(1804.6 1886.5) scale(1.1550 1)" font-size="51" font-weight="bold" fill="#E6AC30" font-family="'Liberation Sans', Arial, sans-serif">400 mTorr</text>
<text transform="translate(1805.3 2118) scale(1.1038 1)" font-size="56" font-weight="bold" fill="#9900CC" font-family="'Liberation Sans', Arial, sans-serif">300 mTorr</text>
<text transform="translate(1793.6 2378) scale(1.1023 1)" font-size="57" font-weight="bold" fill="#008000" font-family="'Liberation Sans', Arial, sans-serif">200 mTorr</text>
<text transform="translate(1797.7 2623.5) scale(1.0843 1)" font-size="57" font-weight="bold" fill="#0000F0" font-family="'Liberation Sans', Arial, sans-serif">100 mTorr</text>
<text transform="translate(1825.9 2840.3) scale(1.1200 1)" font-size="55.7" font-weight="bold" fill="#FF0000" font-family="'Liberation Sans', Arial, sans-serif">50 mTorr</text>
<text transform="translate(1847.9 2979.9) scale(1.0650 1)" font-size="56" font-weight="bold" fill="#000" font-family="'Liberation Sans', Arial, sans-serif">vaccum</text>
<text transform="translate(83.8 2620.3) rotate(-90) scale(1.0287 1)" font-size="75" font-weight="bold" fill="#000" font-family="'Liberation Sans', Arial, sans-serif">Intensity (a.u)</text>
<text transform="translate(1007.9 3248) scale(1.0838 1)" font-size="76.7" font-weight="bold" fill="#000" font-family="'Liberation Sans', Arial, sans-serif">2</text>
<text transform="translate(1051.9 3249.3) scale(1.2490 1)" font-size="81" font-weight="normal" fill="#000" font-family="'Liberation Serif', serif">&#952;</text>
<text transform="translate(1123.4 3248) scale(1.0947 1)" font-size="77" font-weight="bold" fill="#000" font-family="'Liberation Sans', Arial, sans-serif">(deg)</text>
<path d="M190.5 1717V3065M183 1720.5H2182M2178.6 1717V3065M183 3062H2182" fill="none" stroke="#000" stroke-width="6.8"/>
<path d="M303.5 3062V3085.8M452.9 3062V3074M602.3 3062V3085.8M751.7 3062V3074M901.1 3062V3085.8M1050.5 3062V3074M1199.9 3062V3085.8M1349.3 3062V3074M1498.7 3062V3085.8M1648.1 3062V3074M1797.5 3062V3085.8M1946.9 3062V3074M2096.3 3062V3085.8" stroke="#000" stroke-width="6.5"/>
<text transform="translate(261.6 3153) scale(1.1098 1)" font-size="67.5" font-weight="normal" fill="#000" font-family="'Liberation Sans', Arial, sans-serif">26</text>
<text transform="translate(560.4 3153) scale(1.1179 1)" font-size="67.5" font-weight="normal" fill="#000" font-family="'Liberation Sans', Arial, sans-serif">27</text>
<text transform="translate(859.2 3153) scale(1.1098 1)" font-size="67.5" font-weight="normal" fill="#000" font-family="'Liberation Sans', Arial, sans-serif">28</text>
<text transform="translate(1158 3153) scale(1.1139 1)" font-size="67.5" font-weight="normal" fill="#000" font-family="'Liberation Sans', Arial, sans-serif">29</text>
<text transform="translate(1457.7 3153) scale(1.0939 1)" font-size="67.5" font-weight="normal" fill="#000" font-family="'Liberation Sans', Arial, sans-serif">30</text>
<text transform="translate(1756.5 3153) scale(1.1038 1)" font-size="67.5" font-weight="normal" fill="#000" font-family="'Liberation Sans', Arial, sans-serif">31</text>
<text transform="translate(2055.2 3153) scale(1.1058 1)" font-size="67.5" font-weight="normal" fill="#000" font-family="'Liberation Sans', Arial, sans-serif">32</text>
</svg>
</body></html>
